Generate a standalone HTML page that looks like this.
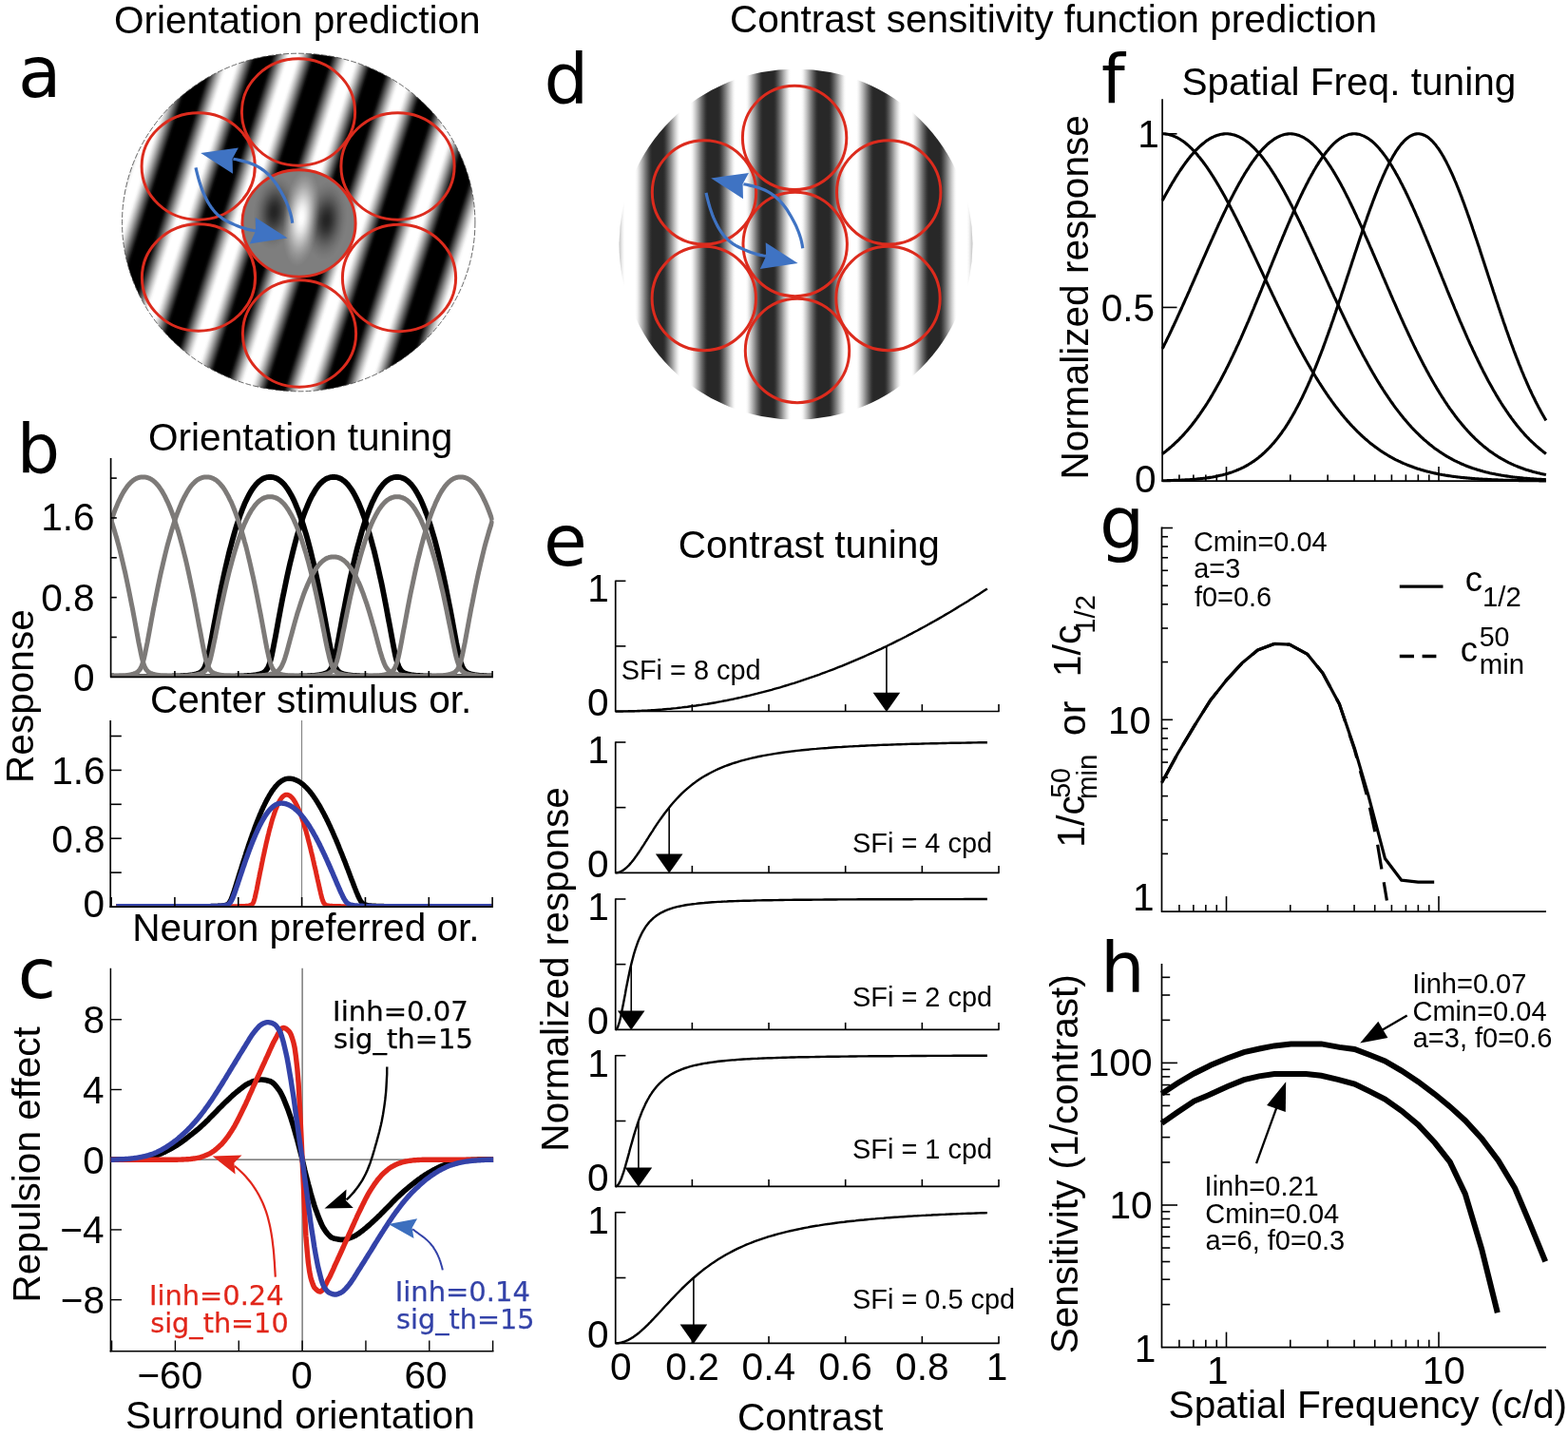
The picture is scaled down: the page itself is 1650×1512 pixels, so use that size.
<!DOCTYPE html><html lang="en"><head><meta charset="utf-8"><title>Orientation and contrast sensitivity prediction</title><style>html,body{margin:0;padding:0;background:#fff}svg{display:block}</style></head><body><svg width="1650" height="1512" viewBox="0 0 1650 1512" role="img" aria-label="Orientation prediction and contrast sensitivity function prediction figure"><defs><linearGradient id="ga" gradientUnits="userSpaceOnUse" spreadMethod="repeat" x1="315.00" y1="234.00" x2="371.48" y2="252.07"><stop offset="0.0000" stop-color="rgb(255,255,255)"/><stop offset="0.0312" stop-color="rgb(255,255,255)"/><stop offset="0.0625" stop-color="rgb(255,255,255)"/><stop offset="0.0938" stop-color="rgb(248,248,248)"/><stop offset="0.1250" stop-color="rgb(227,227,227)"/><stop offset="0.1562" stop-color="rgb(201,201,201)"/><stop offset="0.1875" stop-color="rgb(171,171,171)"/><stop offset="0.2188" stop-color="rgb(139,139,139)"/><stop offset="0.2500" stop-color="rgb(105,105,105)"/><stop offset="0.2812" stop-color="rgb(72,72,72)"/><stop offset="0.3125" stop-color="rgb(39,39,39)"/><stop offset="0.3438" stop-color="rgb(9,9,9)"/><stop offset="0.3750" stop-color="rgb(0,0,0)"/><stop offset="0.4062" stop-color="rgb(0,0,0)"/><stop offset="0.4375" stop-color="rgb(0,0,0)"/><stop offset="0.4688" stop-color="rgb(0,0,0)"/><stop offset="0.5000" stop-color="rgb(0,0,0)"/><stop offset="0.5312" stop-color="rgb(0,0,0)"/><stop offset="0.5625" stop-color="rgb(0,0,0)"/><stop offset="0.5938" stop-color="rgb(0,0,0)"/><stop offset="0.6250" stop-color="rgb(0,0,0)"/><stop offset="0.6562" stop-color="rgb(9,9,9)"/><stop offset="0.6875" stop-color="rgb(39,39,39)"/><stop offset="0.7188" stop-color="rgb(72,72,72)"/><stop offset="0.7500" stop-color="rgb(105,105,105)"/><stop offset="0.7812" stop-color="rgb(139,139,139)"/><stop offset="0.8125" stop-color="rgb(171,171,171)"/><stop offset="0.8438" stop-color="rgb(201,201,201)"/><stop offset="0.8750" stop-color="rgb(227,227,227)"/><stop offset="0.9062" stop-color="rgb(248,248,248)"/><stop offset="0.9375" stop-color="rgb(255,255,255)"/><stop offset="0.9688" stop-color="rgb(255,255,255)"/><stop offset="1.0000" stop-color="rgb(255,255,255)"/></linearGradient><radialGradient id="gw" cx="0.5" cy="0.5" r="0.5"><stop offset="0.000" stop-color="#fff" stop-opacity="1.000"/><stop offset="0.125" stop-color="#fff" stop-opacity="0.959"/><stop offset="0.250" stop-color="#fff" stop-opacity="0.846"/><stop offset="0.375" stop-color="#fff" stop-opacity="0.683"/><stop offset="0.500" stop-color="#fff" stop-opacity="0.502"/><stop offset="0.625" stop-color="#fff" stop-opacity="0.329"/><stop offset="0.750" stop-color="#fff" stop-opacity="0.184"/><stop offset="0.875" stop-color="#fff" stop-opacity="0.074"/><stop offset="1.000" stop-color="#fff" stop-opacity="0.000"/></radialGradient><radialGradient id="gk" cx="0.5" cy="0.5" r="0.5"><stop offset="0.000" stop-color="#000" stop-opacity="0.720"/><stop offset="0.125" stop-color="#000" stop-opacity="0.686"/><stop offset="0.250" stop-color="#000" stop-opacity="0.594"/><stop offset="0.375" stop-color="#000" stop-opacity="0.466"/><stop offset="0.500" stop-color="#000" stop-opacity="0.328"/><stop offset="0.625" stop-color="#000" stop-opacity="0.205"/><stop offset="0.750" stop-color="#000" stop-opacity="0.108"/><stop offset="0.875" stop-color="#000" stop-opacity="0.041"/><stop offset="1.000" stop-color="#000" stop-opacity="0.000"/></radialGradient><clipPath id="cb1"><rect x="116.6" y="480" width="403" height="232.4"/></clipPath><clipPath id="cb2"><rect x="116.2" y="756" width="403" height="197.6"/></clipPath><linearGradient id="gd" gradientUnits="userSpaceOnUse" spreadMethod="repeat" x1="837.50" y1="0" x2="895.70" y2="0"><stop offset="0.0000" stop-color="rgb(255,255,255)"/><stop offset="0.0312" stop-color="rgb(255,255,255)"/><stop offset="0.0625" stop-color="rgb(255,255,255)"/><stop offset="0.0938" stop-color="rgb(255,255,255)"/><stop offset="0.1250" stop-color="rgb(246,246,246)"/><stop offset="0.1562" stop-color="rgb(225,225,225)"/><stop offset="0.1875" stop-color="rgb(201,201,201)"/><stop offset="0.2188" stop-color="rgb(175,175,175)"/><stop offset="0.2500" stop-color="rgb(148,148,148)"/><stop offset="0.2812" stop-color="rgb(120,120,120)"/><stop offset="0.3125" stop-color="rgb(94,94,94)"/><stop offset="0.3438" stop-color="rgb(70,70,70)"/><stop offset="0.3750" stop-color="rgb(49,49,49)"/><stop offset="0.4062" stop-color="rgb(40,40,40)"/><stop offset="0.4375" stop-color="rgb(40,40,40)"/><stop offset="0.4688" stop-color="rgb(40,40,40)"/><stop offset="0.5000" stop-color="rgb(40,40,40)"/><stop offset="0.5312" stop-color="rgb(40,40,40)"/><stop offset="0.5625" stop-color="rgb(40,40,40)"/><stop offset="0.5938" stop-color="rgb(40,40,40)"/><stop offset="0.6250" stop-color="rgb(49,49,49)"/><stop offset="0.6562" stop-color="rgb(70,70,70)"/><stop offset="0.6875" stop-color="rgb(94,94,94)"/><stop offset="0.7188" stop-color="rgb(120,120,120)"/><stop offset="0.7500" stop-color="rgb(147,147,147)"/><stop offset="0.7812" stop-color="rgb(175,175,175)"/><stop offset="0.8125" stop-color="rgb(201,201,201)"/><stop offset="0.8438" stop-color="rgb(225,225,225)"/><stop offset="0.8750" stop-color="rgb(246,246,246)"/><stop offset="0.9062" stop-color="rgb(255,255,255)"/><stop offset="0.9375" stop-color="rgb(255,255,255)"/><stop offset="0.9688" stop-color="rgb(255,255,255)"/><stop offset="1.0000" stop-color="rgb(255,255,255)"/></linearGradient><radialGradient id="gdm" cx="0.5" cy="0.5" r="0.5"><stop offset="0" stop-color="#fff"/><stop offset="0.97" stop-color="#fff"/><stop offset="1" stop-color="#000"/></radialGradient></defs><style>text{stroke-linejoin:round}.l{font-family:"Liberation Sans",Arial,Helvetica,sans-serif}.d{font-family:"DejaVu Sans","Liberation Sans",sans-serif}</style><ellipse cx="314.2" cy="234.0" rx="185.7" ry="177.8" fill="url(#ga)" stroke="#444" stroke-width="0.8" stroke-dasharray="6 2"/>
<ellipse cx="314.5" cy="235" rx="59.6" ry="56.7" fill="#7e7e7e"/>
<g><ellipse cx="288.5" cy="223" rx="22" ry="40" fill="url(#gk)" transform="rotate(6 288.5 223)"/><ellipse cx="343.5" cy="232" rx="22" ry="42" fill="url(#gk)" transform="rotate(6 343.5 232)"/><ellipse cx="317" cy="229" rx="19" ry="52" fill="url(#gw)" transform="rotate(6 317 229)"/></g>
<ellipse cx="314" cy="118" rx="59.6" ry="56.2" fill="none" stroke="#dc2b1d" stroke-width="3"/>
<ellipse cx="208.7" cy="175" rx="59.6" ry="56.2" fill="none" stroke="#dc2b1d" stroke-width="3"/>
<ellipse cx="209" cy="292" rx="59.6" ry="56.2" fill="none" stroke="#dc2b1d" stroke-width="3"/>
<ellipse cx="418.5" cy="175" rx="59.6" ry="56.2" fill="none" stroke="#dc2b1d" stroke-width="3"/>
<ellipse cx="420" cy="292.5" rx="59.6" ry="56.2" fill="none" stroke="#dc2b1d" stroke-width="3"/>
<ellipse cx="315" cy="351" rx="59.6" ry="56.2" fill="none" stroke="#dc2b1d" stroke-width="3"/>
<ellipse cx="314.5" cy="235" rx="59.6" ry="56.2" fill="none" stroke="#dc2b1d" stroke-width="3"/>
<path d="M307.7,234.7 L307.2,231.3 L306.5,227.9 L305.7,224.6 L304.7,221.4 L303.6,218.2 L302.3,215.0 L301.0,211.9 L299.5,208.8 L297.9,205.8 L296.3,202.8 L294.6,199.8 L292.8,196.9 L291.0,194.0 L289.0,191.3 L286.9,188.6 L284.7,186.0 L282.3,183.5 L279.8,181.2 L277.1,179.1 L274.3,177.1 L271.4,175.4 L268.3,173.8 L265.2,172.5 L262.0,171.3 L258.7,170.3 L255.4,169.4 L252.1,168.6 L248.7,167.8 L245.4,167.2" fill="none" stroke="#3f73c3" stroke-width="3.2"/>
<path d="M211.2,161.0 L250.9,155.4 L244.6,166.9 L245.0,182.7 Z" fill="#3f73c3"/>
<path d="M206.0,176.4 L206.8,179.8 L207.6,183.1 L208.5,186.5 L209.4,189.8 L210.4,193.1 L211.5,196.3 L212.7,199.6 L214.0,202.8 L215.4,205.9 L216.9,209.0 L218.5,212.1 L220.3,215.1 L222.2,218.0 L224.3,220.8 L226.5,223.5 L228.9,225.9 L231.6,228.1 L234.4,230.1 L237.3,231.8 L240.4,233.5 L243.6,235.0 L246.7,236.4 L249.9,237.7 L253.1,239.0 L256.4,240.1 L259.7,241.1 L263.0,241.9 L266.4,242.5 L269.9,242.8" fill="none" stroke="#3f73c3" stroke-width="3.2"/>
<path d="M302.6,250.5 L268.7,228.8 L269.1,243.0 L262.8,256.4 Z" fill="#3f73c3"/>
<text class="d" x="19.0" y="102.3" font-size="74.3">a</text>
<polyline points="117.1,712.1 118.2,712.1 119.3,712.1 120.4,712.1 121.5,712.1 122.7,712.1 123.8,712.1 124.9,712.1 126.0,712.1 127.1,712.1 128.2,712.1 129.3,712.1 130.4,712.1 131.6,712.1 132.7,712.1 133.8,712.1 134.9,712.1 136.0,712.0 137.1,712.0 138.2,712.0 139.4,712.0 140.5,712.0 141.6,712.0 142.7,712.0 143.8,712.0 144.9,712.0 146.0,712.0 147.2,712.0 148.3,712.0 149.4,712.0 150.5,712.0 151.6,712.0 152.7,712.0 153.8,711.9 155.0,711.9 156.1,711.9 157.2,711.9 158.3,711.9 159.4,711.9 160.5,711.9 161.6,711.9 162.8,711.9 163.9,711.8 165.0,711.8 166.1,711.8 167.2,711.8 168.3,711.8 169.4,711.8 170.6,711.8 171.7,711.7 172.8,711.7 173.9,711.7 175.0,711.7 176.1,711.7 177.2,711.6 178.4,711.6 179.5,711.6 180.6,711.6 181.7,711.5 182.8,711.5 183.9,711.5 185.0,711.4 186.1,711.4 187.3,711.4 188.4,711.3 189.5,711.3 190.6,711.2 191.7,711.2 192.8,711.1 193.9,711.0 195.1,711.0 196.2,710.9 197.3,710.8 198.4,710.7 199.5,710.6 200.6,710.4 201.7,710.3 202.9,710.1 204.0,709.9 205.1,709.7 206.2,709.5 207.3,709.1 208.4,708.7 209.5,708.3 210.7,707.7 211.8,706.9 212.9,705.8 214.0,704.4 215.1,702.6 216.2,700.0 217.3,696.6 218.5,692.4 219.6,687.5 220.7,682.0 221.8,676.3 222.9,670.3 224.0,664.2 225.1,658.2 226.3,652.1 227.4,646.2 228.5,640.3 229.6,634.5 230.7,628.8 231.8,623.2 232.9,617.7 234.1,612.4 235.2,607.2 236.3,602.1 237.4,597.1 238.5,592.3 239.6,587.6 240.7,583.0 241.8,578.5 243.0,574.2 244.1,570.1 245.2,566.0 246.3,562.1 247.4,558.3 248.5,554.7 249.6,551.2 250.8,547.8 251.9,544.5 253.0,541.4 254.1,538.4 255.2,535.5 256.3,532.8 257.4,530.1 258.6,527.6 259.7,525.3 260.8,523.0 261.9,520.9 263.0,518.9 264.1,517.0 265.2,515.2 266.4,513.6 267.5,512.1 268.6,510.6 269.7,509.3 270.8,508.2 271.9,507.1 273.0,506.1 274.2,505.3 275.3,504.5 276.4,503.9 277.5,503.3 278.6,502.9 279.7,502.5 280.8,502.2 282.0,502.1 283.1,502.0 284.2,501.9 285.3,502.0 286.4,502.1 287.5,502.2 288.6,502.5 289.8,502.9 290.9,503.3 292.0,503.9 293.1,504.5 294.2,505.3 295.3,506.1 296.4,507.1 297.5,508.2 298.7,509.3 299.8,510.6 300.9,512.1 302.0,513.6 303.1,515.2 304.2,517.0 305.3,518.9 306.5,520.9 307.6,523.0 308.7,525.3 309.8,527.6 310.9,530.1 312.0,532.8 313.1,535.5 314.3,538.4 315.4,541.4 316.5,544.5 317.6,547.8 318.7,551.2 319.8,554.7 320.9,558.3 322.1,562.1 323.2,566.0 324.3,570.1 325.4,574.2 326.5,578.5 327.6,583.0 328.7,587.6 329.9,592.3 331.0,597.1 332.1,602.1 333.2,607.2 334.3,612.4 335.4,617.7 336.5,623.2 337.7,628.8 338.8,634.5 339.9,640.3 341.0,646.2 342.1,652.1 343.2,658.2 344.3,664.2 345.5,670.3 346.6,676.3 347.7,682.0 348.8,687.5 349.9,692.4 351.0,696.6 352.1,700.0 353.2,702.6 354.4,704.4 355.5,705.8 356.6,706.9 357.7,707.7 358.8,708.3 359.9,708.7 361.0,709.1 362.2,709.5 363.3,709.7 364.4,709.9 365.5,710.1 366.6,710.3 367.7,710.4 368.8,710.6 370.0,710.7 371.1,710.8 372.2,710.9 373.3,711.0 374.4,711.0 375.5,711.1 376.6,711.2 377.8,711.2 378.9,711.3 380.0,711.3 381.1,711.4 382.2,711.4 383.3,711.4 384.4,711.5 385.6,711.5 386.7,711.5 387.8,711.6 388.9,711.6 390.0,711.6 391.1,711.6 392.2,711.7 393.4,711.7 394.5,711.7 395.6,711.7 396.7,711.7 397.8,711.8 398.9,711.8 400.0,711.8 401.2,711.8 402.3,711.8 403.4,711.8 404.5,711.8 405.6,711.9 406.7,711.9 407.8,711.9 408.9,711.9 410.1,711.9 411.2,711.9 412.3,711.9 413.4,711.9 414.5,711.9 415.6,712.0 416.7,712.0 417.9,712.0 419.0,712.0 420.1,712.0 421.2,712.0 422.3,712.0 423.4,712.0 424.5,712.0 425.7,712.0 426.8,712.0 427.9,712.0 429.0,712.0 430.1,712.0 431.2,712.0 432.3,712.0 433.5,712.1 434.6,712.1 435.7,712.1 436.8,712.1 437.9,712.1 439.0,712.1 440.1,712.1 441.3,712.1 442.4,712.1 443.5,712.1 444.6,712.1 445.7,712.1 446.8,712.1 447.9,712.1 449.1,712.1 450.2,712.1 451.3,712.1 452.4,712.1 453.5,712.1 454.6,712.1 455.7,712.1 456.9,712.1 458.0,712.1 459.1,712.1 460.2,712.1 461.3,712.1 462.4,712.1 463.5,712.1 464.6,712.1 465.8,712.1 466.9,712.2 468.0,712.2 469.1,712.2 470.2,712.2 471.3,712.2 472.4,712.2 473.6,712.2 474.7,712.2 475.8,712.2 476.9,712.2 478.0,712.2 479.1,712.2 480.2,712.2 481.4,712.2 482.5,712.2 483.6,712.2 484.7,712.2 485.8,712.2 486.9,712.2 488.0,712.2 489.2,712.2 490.3,712.2 491.4,712.2 492.5,712.2 493.6,712.2 494.7,712.2 495.8,712.2 497.0,712.2 498.1,712.2 499.2,712.2 500.3,712.2 501.4,712.2 502.5,712.2 503.6,712.1 504.8,712.1 505.9,712.1 507.0,712.1 508.1,712.1 509.2,712.1 510.3,712.1 511.4,712.1 512.6,712.1 513.7,712.1 514.8,712.1 515.9,712.1 517.0,712.1 518.1,712.1" fill="none" stroke="#000" stroke-width="5.8" stroke-linejoin="round" clip-path="url(#cb1)"/>
<polyline points="117.1,712.1 118.2,712.1 119.3,712.1 120.4,712.1 121.5,712.1 122.7,712.1 123.8,712.1 124.9,712.1 126.0,712.1 127.1,712.1 128.2,712.1 129.3,712.1 130.4,712.1 131.6,712.1 132.7,712.2 133.8,712.2 134.9,712.2 136.0,712.2 137.1,712.2 138.2,712.2 139.4,712.2 140.5,712.2 141.6,712.2 142.7,712.2 143.8,712.2 144.9,712.2 146.0,712.2 147.2,712.2 148.3,712.2 149.4,712.2 150.5,712.2 151.6,712.2 152.7,712.2 153.8,712.2 155.0,712.2 156.1,712.2 157.2,712.2 158.3,712.2 159.4,712.2 160.5,712.2 161.6,712.2 162.8,712.2 163.9,712.2 165.0,712.2 166.1,712.2 167.2,712.2 168.3,712.2 169.4,712.1 170.6,712.1 171.7,712.1 172.8,712.1 173.9,712.1 175.0,712.1 176.1,712.1 177.2,712.1 178.4,712.1 179.5,712.1 180.6,712.1 181.7,712.1 182.8,712.1 183.9,712.1 185.0,712.1 186.1,712.1 187.3,712.1 188.4,712.1 189.5,712.1 190.6,712.1 191.7,712.1 192.8,712.1 193.9,712.1 195.1,712.1 196.2,712.1 197.3,712.1 198.4,712.1 199.5,712.1 200.6,712.1 201.7,712.1 202.9,712.0 204.0,712.0 205.1,712.0 206.2,712.0 207.3,712.0 208.4,712.0 209.5,712.0 210.7,712.0 211.8,712.0 212.9,712.0 214.0,712.0 215.1,712.0 216.2,712.0 217.3,712.0 218.5,712.0 219.6,712.0 220.7,711.9 221.8,711.9 222.9,711.9 224.0,711.9 225.1,711.9 226.3,711.9 227.4,711.9 228.5,711.9 229.6,711.9 230.7,711.8 231.8,711.8 232.9,711.8 234.1,711.8 235.2,711.8 236.3,711.8 237.4,711.8 238.5,711.7 239.6,711.7 240.7,711.7 241.8,711.7 243.0,711.7 244.1,711.6 245.2,711.6 246.3,711.6 247.4,711.6 248.5,711.5 249.6,711.5 250.8,711.5 251.9,711.4 253.0,711.4 254.1,711.4 255.2,711.3 256.3,711.3 257.4,711.2 258.6,711.2 259.7,711.1 260.8,711.0 261.9,711.0 263.0,710.9 264.1,710.8 265.2,710.7 266.4,710.6 267.5,710.4 268.6,710.3 269.7,710.1 270.8,709.9 271.9,709.7 273.0,709.5 274.2,709.1 275.3,708.7 276.4,708.3 277.5,707.7 278.6,706.9 279.7,705.8 280.8,704.4 282.0,702.6 283.1,700.0 284.2,696.6 285.3,692.4 286.4,687.5 287.5,682.0 288.6,676.3 289.8,670.3 290.9,664.2 292.0,658.2 293.1,652.1 294.2,646.2 295.3,640.3 296.4,634.5 297.5,628.8 298.7,623.2 299.8,617.7 300.9,612.4 302.0,607.2 303.1,602.1 304.2,597.1 305.3,592.3 306.5,587.6 307.6,583.0 308.7,578.5 309.8,574.2 310.9,570.1 312.0,566.0 313.1,562.1 314.3,558.3 315.4,554.7 316.5,551.2 317.6,547.8 318.7,544.5 319.8,541.4 320.9,538.4 322.1,535.5 323.2,532.8 324.3,530.1 325.4,527.6 326.5,525.3 327.6,523.0 328.7,520.9 329.9,518.9 331.0,517.0 332.1,515.2 333.2,513.6 334.3,512.1 335.4,510.6 336.5,509.3 337.7,508.2 338.8,507.1 339.9,506.1 341.0,505.3 342.1,504.5 343.2,503.9 344.3,503.3 345.5,502.9 346.6,502.5 347.7,502.2 348.8,502.1 349.9,502.0 351.0,501.9 352.1,502.0 353.2,502.1 354.4,502.2 355.5,502.5 356.6,502.9 357.7,503.3 358.8,503.9 359.9,504.5 361.0,505.3 362.2,506.1 363.3,507.1 364.4,508.2 365.5,509.3 366.6,510.6 367.7,512.1 368.8,513.6 370.0,515.2 371.1,517.0 372.2,518.9 373.3,520.9 374.4,523.0 375.5,525.3 376.6,527.6 377.8,530.1 378.9,532.8 380.0,535.5 381.1,538.4 382.2,541.4 383.3,544.5 384.4,547.8 385.6,551.2 386.7,554.7 387.8,558.3 388.9,562.1 390.0,566.0 391.1,570.1 392.2,574.2 393.4,578.5 394.5,583.0 395.6,587.6 396.7,592.3 397.8,597.1 398.9,602.1 400.0,607.2 401.2,612.4 402.3,617.7 403.4,623.2 404.5,628.8 405.6,634.5 406.7,640.3 407.8,646.2 408.9,652.1 410.1,658.2 411.2,664.2 412.3,670.3 413.4,676.3 414.5,682.0 415.6,687.5 416.7,692.4 417.9,696.6 419.0,700.0 420.1,702.6 421.2,704.4 422.3,705.8 423.4,706.9 424.5,707.7 425.7,708.3 426.8,708.7 427.9,709.1 429.0,709.5 430.1,709.7 431.2,709.9 432.3,710.1 433.5,710.3 434.6,710.4 435.7,710.6 436.8,710.7 437.9,710.8 439.0,710.9 440.1,711.0 441.3,711.0 442.4,711.1 443.5,711.2 444.6,711.2 445.7,711.3 446.8,711.3 447.9,711.4 449.1,711.4 450.2,711.4 451.3,711.5 452.4,711.5 453.5,711.5 454.6,711.6 455.7,711.6 456.9,711.6 458.0,711.6 459.1,711.7 460.2,711.7 461.3,711.7 462.4,711.7 463.5,711.7 464.6,711.8 465.8,711.8 466.9,711.8 468.0,711.8 469.1,711.8 470.2,711.8 471.3,711.8 472.4,711.9 473.6,711.9 474.7,711.9 475.8,711.9 476.9,711.9 478.0,711.9 479.1,711.9 480.2,711.9 481.4,711.9 482.5,712.0 483.6,712.0 484.7,712.0 485.8,712.0 486.9,712.0 488.0,712.0 489.2,712.0 490.3,712.0 491.4,712.0 492.5,712.0 493.6,712.0 494.7,712.0 495.8,712.0 497.0,712.0 498.1,712.0 499.2,712.0 500.3,712.1 501.4,712.1 502.5,712.1 503.6,712.1 504.8,712.1 505.9,712.1 507.0,712.1 508.1,712.1 509.2,712.1 510.3,712.1 511.4,712.1 512.6,712.1 513.7,712.1 514.8,712.1 515.9,712.1 517.0,712.1 518.1,712.1" fill="none" stroke="#000" stroke-width="5.8" stroke-linejoin="round" clip-path="url(#cb1)"/>
<polyline points="117.1,711.5 118.2,711.5 119.3,711.5 120.4,711.6 121.5,711.6 122.7,711.6 123.8,711.6 124.9,711.7 126.0,711.7 127.1,711.7 128.2,711.7 129.3,711.7 130.4,711.8 131.6,711.8 132.7,711.8 133.8,711.8 134.9,711.8 136.0,711.8 137.1,711.8 138.2,711.9 139.4,711.9 140.5,711.9 141.6,711.9 142.7,711.9 143.8,711.9 144.9,711.9 146.0,711.9 147.2,711.9 148.3,712.0 149.4,712.0 150.5,712.0 151.6,712.0 152.7,712.0 153.8,712.0 155.0,712.0 156.1,712.0 157.2,712.0 158.3,712.0 159.4,712.0 160.5,712.0 161.6,712.0 162.8,712.0 163.9,712.0 165.0,712.0 166.1,712.1 167.2,712.1 168.3,712.1 169.4,712.1 170.6,712.1 171.7,712.1 172.8,712.1 173.9,712.1 175.0,712.1 176.1,712.1 177.2,712.1 178.4,712.1 179.5,712.1 180.6,712.1 181.7,712.1 182.8,712.1 183.9,712.1 185.0,712.1 186.1,712.1 187.3,712.1 188.4,712.1 189.5,712.1 190.6,712.1 191.7,712.1 192.8,712.1 193.9,712.1 195.1,712.1 196.2,712.1 197.3,712.1 198.4,712.1 199.5,712.2 200.6,712.2 201.7,712.2 202.9,712.2 204.0,712.2 205.1,712.2 206.2,712.2 207.3,712.2 208.4,712.2 209.5,712.2 210.7,712.2 211.8,712.2 212.9,712.2 214.0,712.2 215.1,712.2 216.2,712.2 217.3,712.2 218.5,712.2 219.6,712.2 220.7,712.2 221.8,712.2 222.9,712.2 224.0,712.2 225.1,712.2 226.3,712.2 227.4,712.2 228.5,712.2 229.6,712.2 230.7,712.2 231.8,712.2 232.9,712.2 234.1,712.2 235.2,712.2 236.3,712.1 237.4,712.1 238.5,712.1 239.6,712.1 240.7,712.1 241.8,712.1 243.0,712.1 244.1,712.1 245.2,712.1 246.3,712.1 247.4,712.1 248.5,712.1 249.6,712.1 250.8,712.1 251.9,712.1 253.0,712.1 254.1,712.1 255.2,712.1 256.3,712.1 257.4,712.1 258.6,712.1 259.7,712.1 260.8,712.1 261.9,712.1 263.0,712.1 264.1,712.1 265.2,712.1 266.4,712.1 267.5,712.1 268.6,712.1 269.7,712.0 270.8,712.0 271.9,712.0 273.0,712.0 274.2,712.0 275.3,712.0 276.4,712.0 277.5,712.0 278.6,712.0 279.7,712.0 280.8,712.0 282.0,712.0 283.1,712.0 284.2,712.0 285.3,712.0 286.4,712.0 287.5,711.9 288.6,711.9 289.8,711.9 290.9,711.9 292.0,711.9 293.1,711.9 294.2,711.9 295.3,711.9 296.4,711.9 297.5,711.8 298.7,711.8 299.8,711.8 300.9,711.8 302.0,711.8 303.1,711.8 304.2,711.8 305.3,711.7 306.5,711.7 307.6,711.7 308.7,711.7 309.8,711.7 310.9,711.6 312.0,711.6 313.1,711.6 314.3,711.6 315.4,711.5 316.5,711.5 317.6,711.5 318.7,711.4 319.8,711.4 320.9,711.4 322.1,711.3 323.2,711.3 324.3,711.2 325.4,711.2 326.5,711.1 327.6,711.0 328.7,711.0 329.9,710.9 331.0,710.8 332.1,710.7 333.2,710.6 334.3,710.4 335.4,710.3 336.5,710.1 337.7,709.9 338.8,709.7 339.9,709.5 341.0,709.1 342.1,708.7 343.2,708.3 344.3,707.7 345.5,706.9 346.6,705.8 347.7,704.4 348.8,702.6 349.9,700.0 351.0,696.6 352.1,692.4 353.2,687.5 354.4,682.0 355.5,676.3 356.6,670.3 357.7,664.2 358.8,658.2 359.9,652.1 361.0,646.2 362.2,640.3 363.3,634.5 364.4,628.8 365.5,623.2 366.6,617.7 367.7,612.4 368.8,607.2 370.0,602.1 371.1,597.1 372.2,592.3 373.3,587.6 374.4,583.0 375.5,578.5 376.6,574.2 377.8,570.1 378.9,566.0 380.0,562.1 381.1,558.3 382.2,554.7 383.3,551.2 384.4,547.8 385.6,544.5 386.7,541.4 387.8,538.4 388.9,535.5 390.0,532.8 391.1,530.1 392.2,527.6 393.4,525.3 394.5,523.0 395.6,520.9 396.7,518.9 397.8,517.0 398.9,515.2 400.0,513.6 401.2,512.1 402.3,510.6 403.4,509.3 404.5,508.2 405.6,507.1 406.7,506.1 407.8,505.3 408.9,504.5 410.1,503.9 411.2,503.3 412.3,502.9 413.4,502.5 414.5,502.2 415.6,502.1 416.7,502.0 417.9,501.9 419.0,502.0 420.1,502.1 421.2,502.2 422.3,502.5 423.4,502.9 424.5,503.3 425.7,503.9 426.8,504.5 427.9,505.3 429.0,506.1 430.1,507.1 431.2,508.2 432.3,509.3 433.5,510.6 434.6,512.1 435.7,513.6 436.8,515.2 437.9,517.0 439.0,518.9 440.1,520.9 441.3,523.0 442.4,525.3 443.5,527.6 444.6,530.1 445.7,532.8 446.8,535.5 447.9,538.4 449.1,541.4 450.2,544.5 451.3,547.8 452.4,551.2 453.5,554.7 454.6,558.3 455.7,562.1 456.9,566.0 458.0,570.1 459.1,574.2 460.2,578.5 461.3,583.0 462.4,587.6 463.5,592.3 464.6,597.1 465.8,602.1 466.9,607.2 468.0,612.4 469.1,617.7 470.2,623.2 471.3,628.8 472.4,634.5 473.6,640.3 474.7,646.2 475.8,652.1 476.9,658.2 478.0,664.2 479.1,670.3 480.2,676.3 481.4,682.0 482.5,687.5 483.6,692.4 484.7,696.6 485.8,700.0 486.9,702.6 488.0,704.4 489.2,705.8 490.3,706.9 491.4,707.7 492.5,708.3 493.6,708.7 494.7,709.1 495.8,709.5 497.0,709.7 498.1,709.9 499.2,710.1 500.3,710.3 501.4,710.4 502.5,710.6 503.6,710.7 504.8,710.8 505.9,710.9 507.0,711.0 508.1,711.0 509.2,711.1 510.3,711.2 511.4,711.2 512.6,711.3 513.7,711.3 514.8,711.4 515.9,711.4 517.0,711.4 518.1,711.5" fill="none" stroke="#000" stroke-width="5.8" stroke-linejoin="round" clip-path="url(#cb1)"/>
<polyline points="117.1,547.8 118.2,544.5 119.3,541.4 120.4,538.4 121.5,535.5 122.7,532.8 123.8,530.1 124.9,527.6 126.0,525.3 127.1,523.0 128.2,520.9 129.3,518.9 130.4,517.0 131.6,515.2 132.7,513.6 133.8,512.1 134.9,510.6 136.0,509.3 137.1,508.2 138.2,507.1 139.4,506.1 140.5,505.3 141.6,504.5 142.7,503.9 143.8,503.3 144.9,502.9 146.0,502.5 147.2,502.2 148.3,502.1 149.4,502.0 150.5,501.9 151.6,502.0 152.7,502.1 153.8,502.2 155.0,502.5 156.1,502.9 157.2,503.3 158.3,503.9 159.4,504.5 160.5,505.3 161.6,506.1 162.8,507.1 163.9,508.2 165.0,509.3 166.1,510.6 167.2,512.1 168.3,513.6 169.4,515.2 170.6,517.0 171.7,518.9 172.8,520.9 173.9,523.0 175.0,525.3 176.1,527.6 177.2,530.1 178.4,532.8 179.5,535.5 180.6,538.4 181.7,541.4 182.8,544.5 183.9,547.8 185.0,551.2 186.1,554.7 187.3,558.3 188.4,562.1 189.5,566.0 190.6,570.1 191.7,574.2 192.8,578.5 193.9,583.0 195.1,587.6 196.2,592.3 197.3,597.1 198.4,602.1 199.5,607.2 200.6,612.4 201.7,617.7 202.9,623.2 204.0,628.8 205.1,634.5 206.2,640.3 207.3,646.2 208.4,652.1 209.5,658.2 210.7,664.2 211.8,670.3 212.9,676.3 214.0,682.0 215.1,687.5 216.2,692.4 217.3,696.6 218.5,700.0 219.6,702.6 220.7,704.4 221.8,705.8 222.9,706.9 224.0,707.7 225.1,708.3 226.3,708.7 227.4,709.1 228.5,709.5 229.6,709.7 230.7,709.9 231.8,710.1 232.9,710.3 234.1,710.4 235.2,710.6 236.3,710.7 237.4,710.8 238.5,710.9 239.6,711.0 240.7,711.0 241.8,711.1 243.0,711.2 244.1,711.2 245.2,711.3 246.3,711.3 247.4,711.4 248.5,711.4 249.6,711.4 250.8,711.5 251.9,711.5 253.0,711.5 254.1,711.6 255.2,711.6 256.3,711.6 257.4,711.6 258.6,711.7 259.7,711.7 260.8,711.7 261.9,711.7 263.0,711.7 264.1,711.8 265.2,711.8 266.4,711.8 267.5,711.8 268.6,711.8 269.7,711.8 270.8,711.8 271.9,711.9 273.0,711.9 274.2,711.9 275.3,711.9 276.4,711.9 277.5,711.9 278.6,711.9 279.7,711.9 280.8,711.9 282.0,712.0 283.1,712.0 284.2,712.0 285.3,712.0 286.4,712.0 287.5,712.0 288.6,712.0 289.8,712.0 290.9,712.0 292.0,712.0 293.1,712.0 294.2,712.0 295.3,712.0 296.4,712.0 297.5,712.0 298.7,712.0 299.8,712.1 300.9,712.1 302.0,712.1 303.1,712.1 304.2,712.1 305.3,712.1 306.5,712.1 307.6,712.1 308.7,712.1 309.8,712.1 310.9,712.1 312.0,712.1 313.1,712.1 314.3,712.1 315.4,712.1 316.5,712.1 317.6,712.1 318.7,712.1 319.8,712.1 320.9,712.1 322.1,712.1 323.2,712.1 324.3,712.1 325.4,712.1 326.5,712.1 327.6,712.1 328.7,712.1 329.9,712.1 331.0,712.1 332.1,712.1 333.2,712.2 334.3,712.2 335.4,712.2 336.5,712.2 337.7,712.2 338.8,712.2 339.9,712.2 341.0,712.2 342.1,712.2 343.2,712.2 344.3,712.2 345.5,712.2 346.6,712.2 347.7,712.2 348.8,712.2 349.9,712.2 351.0,712.2 352.1,712.2 353.2,712.2 354.4,712.2 355.5,712.2 356.6,712.2 357.7,712.2 358.8,712.2 359.9,712.2 361.0,712.2 362.2,712.2 363.3,712.2 364.4,712.2 365.5,712.2 366.6,712.2 367.7,712.2 368.8,712.2 370.0,712.1 371.1,712.1 372.2,712.1 373.3,712.1 374.4,712.1 375.5,712.1 376.6,712.1 377.8,712.1 378.9,712.1 380.0,712.1 381.1,712.1 382.2,712.1 383.3,712.1 384.4,712.1 385.6,712.1 386.7,712.1 387.8,712.1 388.9,712.1 390.0,712.1 391.1,712.1 392.2,712.1 393.4,712.1 394.5,712.1 395.6,712.1 396.7,712.1 397.8,712.1 398.9,712.1 400.0,712.1 401.2,712.1 402.3,712.1 403.4,712.0 404.5,712.0 405.6,712.0 406.7,712.0 407.8,712.0 408.9,712.0 410.1,712.0 411.2,712.0 412.3,712.0 413.4,712.0 414.5,712.0 415.6,712.0 416.7,712.0 417.9,712.0 419.0,712.0 420.1,712.0 421.2,711.9 422.3,711.9 423.4,711.9 424.5,711.9 425.7,711.9 426.8,711.9 427.9,711.9 429.0,711.9 430.1,711.9 431.2,711.8 432.3,711.8 433.5,711.8 434.6,711.8 435.7,711.8 436.8,711.8 437.9,711.8 439.0,711.7 440.1,711.7 441.3,711.7 442.4,711.7 443.5,711.7 444.6,711.6 445.7,711.6 446.8,711.6 447.9,711.6 449.1,711.5 450.2,711.5 451.3,711.5 452.4,711.4 453.5,711.4 454.6,711.4 455.7,711.3 456.9,711.3 458.0,711.2 459.1,711.2 460.2,711.1 461.3,711.0 462.4,711.0 463.5,710.9 464.6,710.8 465.8,710.7 466.9,710.6 468.0,710.4 469.1,710.3 470.2,710.1 471.3,709.9 472.4,709.7 473.6,709.5 474.7,709.1 475.8,708.7 476.9,708.3 478.0,707.7 479.1,706.9 480.2,705.8 481.4,704.4 482.5,702.6 483.6,700.0 484.7,696.6 485.8,692.4 486.9,687.5 488.0,682.0 489.2,676.3 490.3,670.3 491.4,664.2 492.5,658.2 493.6,652.1 494.7,646.2 495.8,640.3 497.0,634.5 498.1,628.8 499.2,623.2 500.3,617.7 501.4,612.4 502.5,607.2 503.6,602.1 504.8,597.1 505.9,592.3 507.0,587.6 508.1,583.0 509.2,578.5 510.3,574.2 511.4,570.1 512.6,566.0 513.7,562.1 514.8,558.3 515.9,554.7 517.0,551.2 518.1,547.8" fill="none" stroke="#7d7a78" stroke-width="5.0" stroke-linejoin="round" clip-path="url(#cb1)"/>
<polyline points="117.1,711.5 118.2,711.4 119.3,711.4 120.4,711.4 121.5,711.3 122.7,711.3 123.8,711.2 124.9,711.2 126.0,711.1 127.1,711.0 128.2,711.0 129.3,710.9 130.4,710.8 131.6,710.7 132.7,710.6 133.8,710.4 134.9,710.3 136.0,710.1 137.1,709.9 138.2,709.7 139.4,709.5 140.5,709.1 141.6,708.7 142.7,708.3 143.8,707.7 144.9,706.9 146.0,705.8 147.2,704.4 148.3,702.6 149.4,700.0 150.5,696.6 151.6,692.4 152.7,687.5 153.8,682.0 155.0,676.3 156.1,670.3 157.2,664.2 158.3,658.2 159.4,652.1 160.5,646.2 161.6,640.3 162.8,634.5 163.9,628.8 165.0,623.2 166.1,617.7 167.2,612.4 168.3,607.2 169.4,602.1 170.6,597.1 171.7,592.3 172.8,587.6 173.9,583.0 175.0,578.5 176.1,574.2 177.2,570.1 178.4,566.0 179.5,562.1 180.6,558.3 181.7,554.7 182.8,551.2 183.9,547.8 185.0,544.5 186.1,541.4 187.3,538.4 188.4,535.5 189.5,532.8 190.6,530.1 191.7,527.6 192.8,525.3 193.9,523.0 195.1,520.9 196.2,518.9 197.3,517.0 198.4,515.2 199.5,513.6 200.6,512.1 201.7,510.6 202.9,509.3 204.0,508.2 205.1,507.1 206.2,506.1 207.3,505.3 208.4,504.5 209.5,503.9 210.7,503.3 211.8,502.9 212.9,502.5 214.0,502.2 215.1,502.1 216.2,502.0 217.3,501.9 218.5,502.0 219.6,502.1 220.7,502.2 221.8,502.5 222.9,502.9 224.0,503.3 225.1,503.9 226.3,504.5 227.4,505.3 228.5,506.1 229.6,507.1 230.7,508.2 231.8,509.3 232.9,510.6 234.1,512.1 235.2,513.6 236.3,515.2 237.4,517.0 238.5,518.9 239.6,520.9 240.7,523.0 241.8,525.3 243.0,527.6 244.1,530.1 245.2,532.8 246.3,535.5 247.4,538.4 248.5,541.4 249.6,544.5 250.8,547.8 251.9,551.2 253.0,554.7 254.1,558.3 255.2,562.1 256.3,566.0 257.4,570.1 258.6,574.2 259.7,578.5 260.8,583.0 261.9,587.6 263.0,592.3 264.1,597.1 265.2,602.1 266.4,607.2 267.5,612.4 268.6,617.7 269.7,623.2 270.8,628.8 271.9,634.5 273.0,640.3 274.2,646.2 275.3,652.1 276.4,658.2 277.5,664.2 278.6,670.3 279.7,676.3 280.8,682.0 282.0,687.5 283.1,692.4 284.2,696.6 285.3,700.0 286.4,702.6 287.5,704.4 288.6,705.8 289.8,706.9 290.9,707.7 292.0,708.3 293.1,708.7 294.2,709.1 295.3,709.5 296.4,709.7 297.5,709.9 298.7,710.1 299.8,710.3 300.9,710.4 302.0,710.6 303.1,710.7 304.2,710.8 305.3,710.9 306.5,711.0 307.6,711.0 308.7,711.1 309.8,711.2 310.9,711.2 312.0,711.3 313.1,711.3 314.3,711.4 315.4,711.4 316.5,711.4 317.6,711.5 318.7,711.5 319.8,711.5 320.9,711.6 322.1,711.6 323.2,711.6 324.3,711.6 325.4,711.7 326.5,711.7 327.6,711.7 328.7,711.7 329.9,711.7 331.0,711.8 332.1,711.8 333.2,711.8 334.3,711.8 335.4,711.8 336.5,711.8 337.7,711.8 338.8,711.9 339.9,711.9 341.0,711.9 342.1,711.9 343.2,711.9 344.3,711.9 345.5,711.9 346.6,711.9 347.7,711.9 348.8,712.0 349.9,712.0 351.0,712.0 352.1,712.0 353.2,712.0 354.4,712.0 355.5,712.0 356.6,712.0 357.7,712.0 358.8,712.0 359.9,712.0 361.0,712.0 362.2,712.0 363.3,712.0 364.4,712.0 365.5,712.0 366.6,712.1 367.7,712.1 368.8,712.1 370.0,712.1 371.1,712.1 372.2,712.1 373.3,712.1 374.4,712.1 375.5,712.1 376.6,712.1 377.8,712.1 378.9,712.1 380.0,712.1 381.1,712.1 382.2,712.1 383.3,712.1 384.4,712.1 385.6,712.1 386.7,712.1 387.8,712.1 388.9,712.1 390.0,712.1 391.1,712.1 392.2,712.1 393.4,712.1 394.5,712.1 395.6,712.1 396.7,712.1 397.8,712.1 398.9,712.1 400.0,712.2 401.2,712.2 402.3,712.2 403.4,712.2 404.5,712.2 405.6,712.2 406.7,712.2 407.8,712.2 408.9,712.2 410.1,712.2 411.2,712.2 412.3,712.2 413.4,712.2 414.5,712.2 415.6,712.2 416.7,712.2 417.9,712.2 419.0,712.2 420.1,712.2 421.2,712.2 422.3,712.2 423.4,712.2 424.5,712.2 425.7,712.2 426.8,712.2 427.9,712.2 429.0,712.2 430.1,712.2 431.2,712.2 432.3,712.2 433.5,712.2 434.6,712.2 435.7,712.2 436.8,712.1 437.9,712.1 439.0,712.1 440.1,712.1 441.3,712.1 442.4,712.1 443.5,712.1 444.6,712.1 445.7,712.1 446.8,712.1 447.9,712.1 449.1,712.1 450.2,712.1 451.3,712.1 452.4,712.1 453.5,712.1 454.6,712.1 455.7,712.1 456.9,712.1 458.0,712.1 459.1,712.1 460.2,712.1 461.3,712.1 462.4,712.1 463.5,712.1 464.6,712.1 465.8,712.1 466.9,712.1 468.0,712.1 469.1,712.1 470.2,712.0 471.3,712.0 472.4,712.0 473.6,712.0 474.7,712.0 475.8,712.0 476.9,712.0 478.0,712.0 479.1,712.0 480.2,712.0 481.4,712.0 482.5,712.0 483.6,712.0 484.7,712.0 485.8,712.0 486.9,712.0 488.0,711.9 489.2,711.9 490.3,711.9 491.4,711.9 492.5,711.9 493.6,711.9 494.7,711.9 495.8,711.9 497.0,711.9 498.1,711.8 499.2,711.8 500.3,711.8 501.4,711.8 502.5,711.8 503.6,711.8 504.8,711.8 505.9,711.7 507.0,711.7 508.1,711.7 509.2,711.7 510.3,711.7 511.4,711.6 512.6,711.6 513.7,711.6 514.8,711.6 515.9,711.5 517.0,711.5 518.1,711.5" fill="none" stroke="#7d7a78" stroke-width="5.0" stroke-linejoin="round" clip-path="url(#cb1)"/>
<polyline points="117.1,712.1 118.2,712.1 119.3,712.1 120.4,712.1 121.5,712.1 122.7,712.1 123.8,712.1 124.9,712.1 126.0,712.1 127.1,712.1 128.2,712.1 129.3,712.1 130.4,712.1 131.6,712.1 132.7,712.1 133.8,712.1 134.9,712.1 136.0,712.1 137.1,712.0 138.2,712.0 139.4,712.0 140.5,712.0 141.6,712.0 142.7,712.0 143.8,712.0 144.9,712.0 146.0,712.0 147.2,712.0 148.3,712.0 149.4,712.0 150.5,712.0 151.6,712.0 152.7,712.0 153.8,712.0 155.0,711.9 156.1,711.9 157.2,711.9 158.3,711.9 159.4,711.9 160.5,711.9 161.6,711.9 162.8,711.9 163.9,711.9 165.0,711.9 166.1,711.8 167.2,711.8 168.3,711.8 169.4,711.8 170.6,711.8 171.7,711.8 172.8,711.8 173.9,711.7 175.0,711.7 176.1,711.7 177.2,711.7 178.4,711.7 179.5,711.6 180.6,711.6 181.7,711.6 182.8,711.6 183.9,711.5 185.0,711.5 186.1,711.5 187.3,711.4 188.4,711.4 189.5,711.4 190.6,711.3 191.7,711.3 192.8,711.2 193.9,711.2 195.1,711.1 196.2,711.0 197.3,711.0 198.4,710.9 199.5,710.8 200.6,710.7 201.7,710.6 202.9,710.5 204.0,710.3 205.1,710.2 206.2,710.0 207.3,709.8 208.4,709.5 209.5,709.3 210.7,708.9 211.8,708.5 212.9,708.0 214.0,707.3 215.1,706.5 216.2,705.4 217.3,703.9 218.5,701.9 219.6,699.3 220.7,696.0 221.8,691.9 222.9,687.2 224.0,682.1 225.1,676.7 226.3,671.2 227.4,665.5 228.5,659.9 229.6,654.3 230.7,648.8 231.8,643.3 232.9,637.9 234.1,632.7 235.2,627.5 236.3,622.5 237.4,617.6 238.5,612.8 239.6,608.1 240.7,603.5 241.8,599.1 243.0,594.8 244.1,590.7 245.2,586.7 246.3,582.8 247.4,579.0 248.5,575.4 249.6,571.9 250.8,568.5 251.9,565.2 253.0,562.1 254.1,559.1 255.2,556.2 256.3,553.5 257.4,550.9 258.6,548.4 259.7,546.0 260.8,543.8 261.9,541.7 263.0,539.7 264.1,537.8 265.2,536.0 266.4,534.4 267.5,532.8 268.6,531.4 269.7,530.1 270.8,528.9 271.9,527.9 273.0,526.9 274.2,526.0 275.3,525.3 276.4,524.6 277.5,524.1 278.6,523.6 279.7,523.3 280.8,523.0 282.0,522.8 283.1,522.7 284.2,522.7 285.3,522.7 286.4,522.8 287.5,523.0 288.6,523.3 289.8,523.6 290.9,524.1 292.0,524.6 293.1,525.3 294.2,526.0 295.3,526.9 296.4,527.9 297.5,528.9 298.7,530.1 299.8,531.4 300.9,532.8 302.0,534.4 303.1,536.0 304.2,537.8 305.3,539.7 306.5,541.7 307.6,543.8 308.7,546.0 309.8,548.4 310.9,550.9 312.0,553.5 313.1,556.2 314.3,559.1 315.4,562.1 316.5,565.2 317.6,568.5 318.7,571.9 319.8,575.4 320.9,579.0 322.1,582.8 323.2,586.7 324.3,590.7 325.4,594.8 326.5,599.1 327.6,603.5 328.7,608.1 329.9,612.8 331.0,617.6 332.1,622.5 333.2,627.5 334.3,632.7 335.4,637.9 336.5,643.3 337.7,648.8 338.8,654.3 339.9,659.9 341.0,665.5 342.1,671.2 343.2,676.7 344.3,682.1 345.5,687.2 346.6,691.9 347.7,696.0 348.8,699.3 349.9,701.9 351.0,703.9 352.1,705.4 353.2,706.5 354.4,707.3 355.5,708.0 356.6,708.5 357.7,708.9 358.8,709.3 359.9,709.5 361.0,709.8 362.2,710.0 363.3,710.2 364.4,710.3 365.5,710.5 366.6,710.6 367.7,710.7 368.8,710.8 370.0,710.9 371.1,711.0 372.2,711.0 373.3,711.1 374.4,711.2 375.5,711.2 376.6,711.3 377.8,711.3 378.9,711.4 380.0,711.4 381.1,711.4 382.2,711.5 383.3,711.5 384.4,711.5 385.6,711.6 386.7,711.6 387.8,711.6 388.9,711.6 390.0,711.7 391.1,711.7 392.2,711.7 393.4,711.7 394.5,711.7 395.6,711.8 396.7,711.8 397.8,711.8 398.9,711.8 400.0,711.8 401.2,711.8 402.3,711.8 403.4,711.9 404.5,711.9 405.6,711.9 406.7,711.9 407.8,711.9 408.9,711.9 410.1,711.9 411.2,711.9 412.3,711.9 413.4,711.9 414.5,712.0 415.6,712.0 416.7,712.0 417.9,712.0 419.0,712.0 420.1,712.0 421.2,712.0 422.3,712.0 423.4,712.0 424.5,712.0 425.7,712.0 426.8,712.0 427.9,712.0 429.0,712.0 430.1,712.0 431.2,712.0 432.3,712.1 433.5,712.1 434.6,712.1 435.7,712.1 436.8,712.1 437.9,712.1 439.0,712.1 440.1,712.1 441.3,712.1 442.4,712.1 443.5,712.1 444.6,712.1 445.7,712.1 446.8,712.1 447.9,712.1 449.1,712.1 450.2,712.1 451.3,712.1 452.4,712.1 453.5,712.1 454.6,712.1 455.7,712.1 456.9,712.1 458.0,712.1 459.1,712.1 460.2,712.1 461.3,712.1 462.4,712.1 463.5,712.1 464.6,712.1 465.8,712.2 466.9,712.2 468.0,712.2 469.1,712.2 470.2,712.2 471.3,712.2 472.4,712.2 473.6,712.2 474.7,712.2 475.8,712.2 476.9,712.2 478.0,712.2 479.1,712.2 480.2,712.2 481.4,712.2 482.5,712.2 483.6,712.2 484.7,712.2 485.8,712.2 486.9,712.2 488.0,712.2 489.2,712.2 490.3,712.2 491.4,712.2 492.5,712.2 493.6,712.2 494.7,712.2 495.8,712.2 497.0,712.2 498.1,712.2 499.2,712.2 500.3,712.2 501.4,712.2 502.5,712.2 503.6,712.2 504.8,712.1 505.9,712.1 507.0,712.1 508.1,712.1 509.2,712.1 510.3,712.1 511.4,712.1 512.6,712.1 513.7,712.1 514.8,712.1 515.9,712.1 517.0,712.1 518.1,712.1" fill="none" stroke="#7d7a78" stroke-width="5.0" stroke-linejoin="round" clip-path="url(#cb1)"/>
<polyline points="117.1,712.1 118.2,712.1 119.3,712.1 120.4,712.1 121.5,712.1 122.7,712.1 123.8,712.1 124.9,712.1 126.0,712.1 127.1,712.1 128.2,712.2 129.3,712.2 130.4,712.2 131.6,712.2 132.7,712.2 133.8,712.2 134.9,712.2 136.0,712.2 137.1,712.2 138.2,712.2 139.4,712.2 140.5,712.2 141.6,712.2 142.7,712.2 143.8,712.2 144.9,712.2 146.0,712.2 147.2,712.2 148.3,712.2 149.4,712.2 150.5,712.2 151.6,712.2 152.7,712.2 153.8,712.2 155.0,712.2 156.1,712.2 157.2,712.2 158.3,712.2 159.4,712.2 160.5,712.2 161.6,712.2 162.8,712.2 163.9,712.2 165.0,712.2 166.1,712.2 167.2,712.2 168.3,712.2 169.4,712.2 170.6,712.2 171.7,712.2 172.8,712.2 173.9,712.1 175.0,712.1 176.1,712.1 177.2,712.1 178.4,712.1 179.5,712.1 180.6,712.1 181.7,712.1 182.8,712.1 183.9,712.1 185.0,712.1 186.1,712.1 187.3,712.1 188.4,712.1 189.5,712.1 190.6,712.1 191.7,712.1 192.8,712.1 193.9,712.1 195.1,712.1 196.2,712.1 197.3,712.1 198.4,712.1 199.5,712.1 200.6,712.1 201.7,712.1 202.9,712.1 204.0,712.1 205.1,712.1 206.2,712.1 207.3,712.1 208.4,712.0 209.5,712.0 210.7,712.0 211.8,712.0 212.9,712.0 214.0,712.0 215.1,712.0 216.2,712.0 217.3,712.0 218.5,712.0 219.6,712.0 220.7,712.0 221.8,712.0 222.9,712.0 224.0,712.0 225.1,712.0 226.3,711.9 227.4,711.9 228.5,711.9 229.6,711.9 230.7,711.9 231.8,711.9 232.9,711.9 234.1,711.9 235.2,711.9 236.3,711.9 237.4,711.8 238.5,711.8 239.6,711.8 240.7,711.8 241.8,711.8 243.0,711.8 244.1,711.8 245.2,711.7 246.3,711.7 247.4,711.7 248.5,711.7 249.6,711.7 250.8,711.7 251.9,711.6 253.0,711.6 254.1,711.6 255.2,711.6 256.3,711.5 257.4,711.5 258.6,711.5 259.7,711.5 260.8,711.4 261.9,711.4 263.0,711.3 264.1,711.3 265.2,711.3 266.4,711.2 267.5,711.2 268.6,711.1 269.7,711.1 270.8,711.0 271.9,710.9 273.0,710.8 274.2,710.8 275.3,710.7 276.4,710.6 277.5,710.5 278.6,710.4 279.7,710.2 280.8,710.1 282.0,709.9 283.1,709.7 284.2,709.5 285.3,709.2 286.4,708.9 287.5,708.6 288.6,708.2 289.8,707.7 290.9,707.1 292.0,706.3 293.1,705.4 294.2,704.2 295.3,702.7 296.4,700.9 297.5,698.5 298.7,695.8 299.8,692.6 300.9,689.0 302.0,685.2 303.1,681.1 304.2,677.0 305.3,672.8 306.5,668.6 307.6,664.5 308.7,660.4 309.8,656.4 310.9,652.4 312.0,648.6 313.1,644.8 314.3,641.2 315.4,637.7 316.5,634.3 317.6,631.0 318.7,627.8 319.8,624.7 320.9,621.8 322.1,619.0 323.2,616.3 324.3,613.7 325.4,611.3 326.5,608.9 327.6,606.7 328.7,604.6 329.9,602.6 331.0,600.8 332.1,599.0 333.2,597.4 334.3,595.9 335.4,594.5 336.5,593.2 337.7,592.0 338.8,591.0 339.9,590.0 341.0,589.2 342.1,588.4 343.2,587.8 344.3,587.2 345.5,586.8 346.6,586.4 347.7,586.2 348.8,586.0 349.9,585.9 351.0,585.9 352.1,585.9 353.2,586.0 354.4,586.2 355.5,586.4 356.6,586.8 357.7,587.2 358.8,587.8 359.9,588.4 361.0,589.2 362.2,590.0 363.3,591.0 364.4,592.0 365.5,593.2 366.6,594.5 367.7,595.9 368.8,597.4 370.0,599.0 371.1,600.8 372.2,602.6 373.3,604.6 374.4,606.7 375.5,608.9 376.6,611.3 377.8,613.7 378.9,616.3 380.0,619.0 381.1,621.8 382.2,624.7 383.3,627.8 384.4,631.0 385.6,634.3 386.7,637.7 387.8,641.2 388.9,644.8 390.0,648.6 391.1,652.4 392.2,656.4 393.4,660.4 394.5,664.5 395.6,668.6 396.7,672.8 397.8,677.0 398.9,681.1 400.0,685.2 401.2,689.0 402.3,692.6 403.4,695.8 404.5,698.5 405.6,700.9 406.7,702.7 407.8,704.2 408.9,705.4 410.1,706.3 411.2,707.1 412.3,707.7 413.4,708.2 414.5,708.6 415.6,708.9 416.7,709.2 417.9,709.5 419.0,709.7 420.1,709.9 421.2,710.1 422.3,710.2 423.4,710.4 424.5,710.5 425.7,710.6 426.8,710.7 427.9,710.8 429.0,710.8 430.1,710.9 431.2,711.0 432.3,711.1 433.5,711.1 434.6,711.2 435.7,711.2 436.8,711.3 437.9,711.3 439.0,711.3 440.1,711.4 441.3,711.4 442.4,711.5 443.5,711.5 444.6,711.5 445.7,711.5 446.8,711.6 447.9,711.6 449.1,711.6 450.2,711.6 451.3,711.7 452.4,711.7 453.5,711.7 454.6,711.7 455.7,711.7 456.9,711.7 458.0,711.8 459.1,711.8 460.2,711.8 461.3,711.8 462.4,711.8 463.5,711.8 464.6,711.8 465.8,711.9 466.9,711.9 468.0,711.9 469.1,711.9 470.2,711.9 471.3,711.9 472.4,711.9 473.6,711.9 474.7,711.9 475.8,711.9 476.9,712.0 478.0,712.0 479.1,712.0 480.2,712.0 481.4,712.0 482.5,712.0 483.6,712.0 484.7,712.0 485.8,712.0 486.9,712.0 488.0,712.0 489.2,712.0 490.3,712.0 491.4,712.0 492.5,712.0 493.6,712.0 494.7,712.1 495.8,712.1 497.0,712.1 498.1,712.1 499.2,712.1 500.3,712.1 501.4,712.1 502.5,712.1 503.6,712.1 504.8,712.1 505.9,712.1 507.0,712.1 508.1,712.1 509.2,712.1 510.3,712.1 511.4,712.1 512.6,712.1 513.7,712.1 514.8,712.1 515.9,712.1 517.0,712.1 518.1,712.1" fill="none" stroke="#7d7a78" stroke-width="5.0" stroke-linejoin="round" clip-path="url(#cb1)"/>
<polyline points="117.1,711.5 118.2,711.6 119.3,711.6 120.4,711.6 121.5,711.6 122.7,711.7 123.8,711.7 124.9,711.7 126.0,711.7 127.1,711.7 128.2,711.8 129.3,711.8 130.4,711.8 131.6,711.8 132.7,711.8 133.8,711.8 134.9,711.8 136.0,711.9 137.1,711.9 138.2,711.9 139.4,711.9 140.5,711.9 141.6,711.9 142.7,711.9 143.8,711.9 144.9,711.9 146.0,711.9 147.2,712.0 148.3,712.0 149.4,712.0 150.5,712.0 151.6,712.0 152.7,712.0 153.8,712.0 155.0,712.0 156.1,712.0 157.2,712.0 158.3,712.0 159.4,712.0 160.5,712.0 161.6,712.0 162.8,712.0 163.9,712.0 165.0,712.1 166.1,712.1 167.2,712.1 168.3,712.1 169.4,712.1 170.6,712.1 171.7,712.1 172.8,712.1 173.9,712.1 175.0,712.1 176.1,712.1 177.2,712.1 178.4,712.1 179.5,712.1 180.6,712.1 181.7,712.1 182.8,712.1 183.9,712.1 185.0,712.1 186.1,712.1 187.3,712.1 188.4,712.1 189.5,712.1 190.6,712.1 191.7,712.1 192.8,712.1 193.9,712.1 195.1,712.1 196.2,712.1 197.3,712.1 198.4,712.2 199.5,712.2 200.6,712.2 201.7,712.2 202.9,712.2 204.0,712.2 205.1,712.2 206.2,712.2 207.3,712.2 208.4,712.2 209.5,712.2 210.7,712.2 211.8,712.2 212.9,712.2 214.0,712.2 215.1,712.2 216.2,712.2 217.3,712.2 218.5,712.2 219.6,712.2 220.7,712.2 221.8,712.2 222.9,712.2 224.0,712.2 225.1,712.2 226.3,712.2 227.4,712.2 228.5,712.2 229.6,712.2 230.7,712.2 231.8,712.2 232.9,712.2 234.1,712.2 235.2,712.2 236.3,712.2 237.4,712.1 238.5,712.1 239.6,712.1 240.7,712.1 241.8,712.1 243.0,712.1 244.1,712.1 245.2,712.1 246.3,712.1 247.4,712.1 248.5,712.1 249.6,712.1 250.8,712.1 251.9,712.1 253.0,712.1 254.1,712.1 255.2,712.1 256.3,712.1 257.4,712.1 258.6,712.1 259.7,712.1 260.8,712.1 261.9,712.1 263.0,712.1 264.1,712.1 265.2,712.1 266.4,712.1 267.5,712.1 268.6,712.1 269.7,712.1 270.8,712.0 271.9,712.0 273.0,712.0 274.2,712.0 275.3,712.0 276.4,712.0 277.5,712.0 278.6,712.0 279.7,712.0 280.8,712.0 282.0,712.0 283.1,712.0 284.2,712.0 285.3,712.0 286.4,712.0 287.5,712.0 288.6,711.9 289.8,711.9 290.9,711.9 292.0,711.9 293.1,711.9 294.2,711.9 295.3,711.9 296.4,711.9 297.5,711.9 298.7,711.9 299.8,711.8 300.9,711.8 302.0,711.8 303.1,711.8 304.2,711.8 305.3,711.8 306.5,711.8 307.6,711.7 308.7,711.7 309.8,711.7 310.9,711.7 312.0,711.7 313.1,711.6 314.3,711.6 315.4,711.6 316.5,711.6 317.6,711.5 318.7,711.5 319.8,711.5 320.9,711.4 322.1,711.4 323.2,711.4 324.3,711.3 325.4,711.3 326.5,711.2 327.6,711.2 328.7,711.1 329.9,711.0 331.0,711.0 332.1,710.9 333.2,710.8 334.3,710.7 335.4,710.6 336.5,710.5 337.7,710.3 338.8,710.2 339.9,710.0 341.0,709.8 342.1,709.5 343.2,709.3 344.3,708.9 345.5,708.5 346.6,708.0 347.7,707.3 348.8,706.5 349.9,705.4 351.0,703.9 352.1,701.9 353.2,699.3 354.4,696.0 355.5,691.9 356.6,687.2 357.7,682.1 358.8,676.7 359.9,671.2 361.0,665.5 362.2,659.9 363.3,654.3 364.4,648.8 365.5,643.3 366.6,637.9 367.7,632.7 368.8,627.5 370.0,622.5 371.1,617.6 372.2,612.8 373.3,608.1 374.4,603.5 375.5,599.1 376.6,594.8 377.8,590.7 378.9,586.7 380.0,582.8 381.1,579.0 382.2,575.4 383.3,571.9 384.4,568.5 385.6,565.2 386.7,562.1 387.8,559.1 388.9,556.2 390.0,553.5 391.1,550.9 392.2,548.4 393.4,546.0 394.5,543.8 395.6,541.7 396.7,539.7 397.8,537.8 398.9,536.0 400.0,534.4 401.2,532.8 402.3,531.4 403.4,530.1 404.5,528.9 405.6,527.9 406.7,526.9 407.8,526.0 408.9,525.3 410.1,524.6 411.2,524.1 412.3,523.6 413.4,523.3 414.5,523.0 415.6,522.8 416.7,522.7 417.9,522.7 419.0,522.7 420.1,522.8 421.2,523.0 422.3,523.3 423.4,523.6 424.5,524.1 425.7,524.6 426.8,525.3 427.9,526.0 429.0,526.9 430.1,527.9 431.2,528.9 432.3,530.1 433.5,531.4 434.6,532.8 435.7,534.4 436.8,536.0 437.9,537.8 439.0,539.7 440.1,541.7 441.3,543.8 442.4,546.0 443.5,548.4 444.6,550.9 445.7,553.5 446.8,556.2 447.9,559.1 449.1,562.1 450.2,565.2 451.3,568.5 452.4,571.9 453.5,575.4 454.6,579.0 455.7,582.8 456.9,586.7 458.0,590.7 459.1,594.8 460.2,599.1 461.3,603.5 462.4,608.1 463.5,612.8 464.6,617.6 465.8,622.5 466.9,627.5 468.0,632.7 469.1,637.9 470.2,643.3 471.3,648.8 472.4,654.3 473.6,659.9 474.7,665.5 475.8,671.2 476.9,676.7 478.0,682.1 479.1,687.2 480.2,691.9 481.4,696.0 482.5,699.3 483.6,701.9 484.7,703.9 485.8,705.4 486.9,706.5 488.0,707.3 489.2,708.0 490.3,708.5 491.4,708.9 492.5,709.3 493.6,709.5 494.7,709.8 495.8,710.0 497.0,710.2 498.1,710.3 499.2,710.5 500.3,710.6 501.4,710.7 502.5,710.8 503.6,710.9 504.8,711.0 505.9,711.0 507.0,711.1 508.1,711.2 509.2,711.2 510.3,711.3 511.4,711.3 512.6,711.4 513.7,711.4 514.8,711.4 515.9,711.5 517.0,711.5 518.1,711.5" fill="none" stroke="#7d7a78" stroke-width="5.0" stroke-linejoin="round" clip-path="url(#cb1)"/>
<polyline points="117.1,547.8 118.2,551.2 119.3,554.7 120.4,558.3 121.5,562.1 122.7,566.0 123.8,570.1 124.9,574.2 126.0,578.5 127.1,583.0 128.2,587.6 129.3,592.3 130.4,597.1 131.6,602.1 132.7,607.2 133.8,612.4 134.9,617.7 136.0,623.2 137.1,628.8 138.2,634.5 139.4,640.3 140.5,646.2 141.6,652.1 142.7,658.2 143.8,664.2 144.9,670.3 146.0,676.3 147.2,682.0 148.3,687.5 149.4,692.4 150.5,696.6 151.6,700.0 152.7,702.6 153.8,704.4 155.0,705.8 156.1,706.9 157.2,707.7 158.3,708.3 159.4,708.7 160.5,709.1 161.6,709.5 162.8,709.7 163.9,709.9 165.0,710.1 166.1,710.3 167.2,710.4 168.3,710.6 169.4,710.7 170.6,710.8 171.7,710.9 172.8,711.0 173.9,711.0 175.0,711.1 176.1,711.2 177.2,711.2 178.4,711.3 179.5,711.3 180.6,711.4 181.7,711.4 182.8,711.4 183.9,711.5 185.0,711.5 186.1,711.5 187.3,711.6 188.4,711.6 189.5,711.6 190.6,711.6 191.7,711.7 192.8,711.7 193.9,711.7 195.1,711.7 196.2,711.7 197.3,711.8 198.4,711.8 199.5,711.8 200.6,711.8 201.7,711.8 202.9,711.8 204.0,711.8 205.1,711.9 206.2,711.9 207.3,711.9 208.4,711.9 209.5,711.9 210.7,711.9 211.8,711.9 212.9,711.9 214.0,711.9 215.1,712.0 216.2,712.0 217.3,712.0 218.5,712.0 219.6,712.0 220.7,712.0 221.8,712.0 222.9,712.0 224.0,712.0 225.1,712.0 226.3,712.0 227.4,712.0 228.5,712.0 229.6,712.0 230.7,712.0 231.8,712.0 232.9,712.1 234.1,712.1 235.2,712.1 236.3,712.1 237.4,712.1 238.5,712.1 239.6,712.1 240.7,712.1 241.8,712.1 243.0,712.1 244.1,712.1 245.2,712.1 246.3,712.1 247.4,712.1 248.5,712.1 249.6,712.1 250.8,712.1 251.9,712.1 253.0,712.1 254.1,712.1 255.2,712.1 256.3,712.1 257.4,712.1 258.6,712.1 259.7,712.1 260.8,712.1 261.9,712.1 263.0,712.1 264.1,712.1 265.2,712.1 266.4,712.2 267.5,712.2 268.6,712.2 269.7,712.2 270.8,712.2 271.9,712.2 273.0,712.2 274.2,712.2 275.3,712.2 276.4,712.2 277.5,712.2 278.6,712.2 279.7,712.2 280.8,712.2 282.0,712.2 283.1,712.2 284.2,712.2 285.3,712.2 286.4,712.2 287.5,712.2 288.6,712.2 289.8,712.2 290.9,712.2 292.0,712.2 293.1,712.2 294.2,712.2 295.3,712.2 296.4,712.2 297.5,712.2 298.7,712.2 299.8,712.2 300.9,712.2 302.0,712.2 303.1,712.1 304.2,712.1 305.3,712.1 306.5,712.1 307.6,712.1 308.7,712.1 309.8,712.1 310.9,712.1 312.0,712.1 313.1,712.1 314.3,712.1 315.4,712.1 316.5,712.1 317.6,712.1 318.7,712.1 319.8,712.1 320.9,712.1 322.1,712.1 323.2,712.1 324.3,712.1 325.4,712.1 326.5,712.1 327.6,712.1 328.7,712.1 329.9,712.1 331.0,712.1 332.1,712.1 333.2,712.1 334.3,712.1 335.4,712.1 336.5,712.0 337.7,712.0 338.8,712.0 339.9,712.0 341.0,712.0 342.1,712.0 343.2,712.0 344.3,712.0 345.5,712.0 346.6,712.0 347.7,712.0 348.8,712.0 349.9,712.0 351.0,712.0 352.1,712.0 353.2,712.0 354.4,711.9 355.5,711.9 356.6,711.9 357.7,711.9 358.8,711.9 359.9,711.9 361.0,711.9 362.2,711.9 363.3,711.9 364.4,711.8 365.5,711.8 366.6,711.8 367.7,711.8 368.8,711.8 370.0,711.8 371.1,711.8 372.2,711.7 373.3,711.7 374.4,711.7 375.5,711.7 376.6,711.7 377.8,711.6 378.9,711.6 380.0,711.6 381.1,711.6 382.2,711.5 383.3,711.5 384.4,711.5 385.6,711.4 386.7,711.4 387.8,711.4 388.9,711.3 390.0,711.3 391.1,711.2 392.2,711.2 393.4,711.1 394.5,711.0 395.6,711.0 396.7,710.9 397.8,710.8 398.9,710.7 400.0,710.6 401.2,710.4 402.3,710.3 403.4,710.1 404.5,709.9 405.6,709.7 406.7,709.5 407.8,709.1 408.9,708.7 410.1,708.3 411.2,707.7 412.3,706.9 413.4,705.8 414.5,704.4 415.6,702.6 416.7,700.0 417.9,696.6 419.0,692.4 420.1,687.5 421.2,682.0 422.3,676.3 423.4,670.3 424.5,664.2 425.7,658.2 426.8,652.1 427.9,646.2 429.0,640.3 430.1,634.5 431.2,628.8 432.3,623.2 433.5,617.7 434.6,612.4 435.7,607.2 436.8,602.1 437.9,597.1 439.0,592.3 440.1,587.6 441.3,583.0 442.4,578.5 443.5,574.2 444.6,570.1 445.7,566.0 446.8,562.1 447.9,558.3 449.1,554.7 450.2,551.2 451.3,547.8 452.4,544.5 453.5,541.4 454.6,538.4 455.7,535.5 456.9,532.8 458.0,530.1 459.1,527.6 460.2,525.3 461.3,523.0 462.4,520.9 463.5,518.9 464.6,517.0 465.8,515.2 466.9,513.6 468.0,512.1 469.1,510.6 470.2,509.3 471.3,508.2 472.4,507.1 473.6,506.1 474.7,505.3 475.8,504.5 476.9,503.9 478.0,503.3 479.1,502.9 480.2,502.5 481.4,502.2 482.5,502.1 483.6,502.0 484.7,501.9 485.8,502.0 486.9,502.1 488.0,502.2 489.2,502.5 490.3,502.9 491.4,503.3 492.5,503.9 493.6,504.5 494.7,505.3 495.8,506.1 497.0,507.1 498.1,508.2 499.2,509.3 500.3,510.6 501.4,512.1 502.5,513.6 503.6,515.2 504.8,517.0 505.9,518.9 507.0,520.9 508.1,523.0 509.2,525.3 510.3,527.6 511.4,530.1 512.6,532.8 513.7,535.5 514.8,538.4 515.9,541.4 517.0,544.5 518.1,547.8" fill="none" stroke="#7d7a78" stroke-width="5.0" stroke-linejoin="round" clip-path="url(#cb1)"/>
<line x1="116.60" y1="482.00" x2="116.60" y2="712.60" stroke="#000" stroke-width="1.7" />
<line x1="116.00" y1="712.40" x2="519.00" y2="712.40" stroke="#000" stroke-width="1.6" />
<line x1="116.60" y1="670.46" x2="122.80" y2="670.46" stroke="#000" stroke-width="1.6" />
<line x1="116.60" y1="628.62" x2="122.80" y2="628.62" stroke="#000" stroke-width="1.6" />
<line x1="116.60" y1="586.78" x2="122.80" y2="586.78" stroke="#000" stroke-width="1.6" />
<line x1="116.60" y1="544.94" x2="122.80" y2="544.94" stroke="#000" stroke-width="1.6" />
<line x1="116.60" y1="503.10" x2="122.80" y2="503.10" stroke="#000" stroke-width="1.6" />
<line x1="183.92" y1="712.00" x2="183.92" y2="706.00" stroke="#000" stroke-width="1.6" />
<line x1="250.76" y1="712.00" x2="250.76" y2="706.00" stroke="#000" stroke-width="1.6" />
<line x1="317.60" y1="712.00" x2="317.60" y2="706.00" stroke="#000" stroke-width="1.6" />
<line x1="384.44" y1="712.00" x2="384.44" y2="706.00" stroke="#000" stroke-width="1.6" />
<line x1="451.28" y1="712.00" x2="451.28" y2="706.00" stroke="#000" stroke-width="1.6" />
<line x1="518.12" y1="712.00" x2="518.12" y2="706.00" stroke="#000" stroke-width="1.6" />
<text class="l" x="43.2" y="557.5" font-size="40.6">1.6</text>
<text class="l" x="43.2" y="643.2" font-size="40.6">0.8</text>
<text class="l" x="76.9" y="726.7" font-size="40.6">0</text>
<text class="l" x="156.0" y="473.5" font-size="40.6">Orientation tuning</text>
<text class="l" x="158.0" y="750.0" font-size="40.6">Center stimulus or.</text>
<text class="l" x="34.8" y="823.9" font-size="40.6" transform="rotate(-90 34.80 823.95)">Response</text>
<text class="d" x="17.7" y="497.2" font-size="71.4">b</text>
<line x1="317.60" y1="758.00" x2="317.60" y2="954.00" stroke="#777" stroke-width="1.0" />
<polyline points="122.4,953.8 123.1,953.8 123.7,953.8 124.4,953.8 125.0,953.8 125.7,953.8 126.4,953.8 127.0,953.8 127.7,953.8 128.3,953.8 129.0,953.8 129.7,953.8 130.3,953.8 131.0,953.8 131.6,953.8 132.3,953.8 133.0,953.8 133.6,953.8 134.3,953.8 134.9,953.8 135.6,953.8 136.3,953.8 136.9,953.8 137.6,953.8 138.2,953.8 138.9,953.8 139.5,953.8 140.2,953.8 140.9,953.8 141.5,953.8 142.2,953.8 142.8,953.8 143.5,953.8 144.2,953.8 144.8,953.8 145.5,953.8 146.1,953.8 146.8,953.8 147.5,953.8 148.1,953.8 148.8,953.8 149.4,953.8 150.1,953.8 150.8,953.8 151.4,953.8 152.1,953.8 152.7,953.8 153.4,953.8 154.1,953.8 154.7,953.8 155.4,953.8 156.0,953.8 156.7,953.8 157.4,953.8 158.0,953.8 158.7,953.8 159.3,953.8 160.0,953.8 160.7,953.8 161.3,953.8 162.0,953.8 162.6,953.8 163.3,953.8 164.0,953.8 164.6,953.8 165.3,953.8 165.9,953.8 166.6,953.8 167.3,953.8 167.9,953.8 168.6,953.8 169.2,953.8 169.9,953.8 170.6,953.8 171.2,953.8 171.9,953.8 172.5,953.8 173.2,953.8 173.8,953.8 174.5,953.8 175.2,953.8 175.8,953.8 176.5,953.8 177.1,953.8 177.8,953.8 178.5,953.8 179.1,953.8 179.8,953.8 180.4,953.8 181.1,953.8 181.8,953.8 182.4,953.8 183.1,953.8 183.7,953.8 184.4,953.8 185.1,953.8 185.7,953.8 186.4,953.8 187.0,953.8 187.7,953.8 188.4,953.8 189.0,953.8 189.7,953.8 190.3,953.8 191.0,953.8 191.7,953.8 192.3,953.8 193.0,953.8 193.6,953.8 194.3,953.8 195.0,953.8 195.6,953.8 196.3,953.8 196.9,953.8 197.6,953.8 198.3,953.8 198.9,953.8 199.6,953.8 200.2,953.8 200.9,953.8 201.6,953.7 202.2,953.7 202.9,953.7 203.5,953.7 204.2,953.7 204.8,953.7 205.5,953.7 206.2,953.7 206.8,953.7 207.5,953.7 208.1,953.7 208.8,953.7 209.5,953.7 210.1,953.7 210.8,953.7 211.4,953.7 212.1,953.7 212.8,953.7 213.4,953.7 214.1,953.7 214.7,953.7 215.4,953.7 216.1,953.6 216.7,953.6 217.4,953.6 218.0,953.6 218.7,953.6 219.4,953.6 220.0,953.6 220.7,953.6 221.3,953.6 222.0,953.6 222.7,953.5 223.3,953.5 224.0,953.5 224.6,953.5 225.3,953.5 226.0,953.5 226.6,953.4 227.3,953.4 227.9,953.4 228.6,953.4 229.3,953.3 229.9,953.3 230.6,953.3 231.2,953.2 231.9,953.2 232.6,953.1 233.2,953.1 233.9,953.0 234.5,952.9 235.2,952.8 235.9,952.7 236.5,952.6 237.2,952.4 237.8,952.2 238.5,951.9 239.1,951.6 239.8,951.2 240.5,950.6 241.1,949.9 241.8,949.0 242.4,947.8 243.1,946.4 243.8,944.8 244.4,943.1 245.1,941.2 245.7,939.3 246.4,937.3 247.1,935.2 247.7,933.2 248.4,931.1 249.0,928.9 249.7,926.8 250.4,924.7 251.0,922.6 251.7,920.4 252.3,918.3 253.0,916.2 253.7,914.1 254.3,912.0 255.0,909.9 255.6,907.8 256.3,905.7 257.0,903.6 257.6,901.6 258.3,899.5 258.9,897.5 259.6,895.5 260.3,893.4 260.9,891.5 261.6,889.5 262.2,887.5 262.9,885.6 263.6,883.7 264.2,881.8 264.9,879.9 265.5,878.0 266.2,876.2 266.9,874.4 267.5,872.6 268.2,870.8 268.8,869.0 269.5,867.3 270.2,865.6 270.8,863.9 271.5,862.3 272.1,860.6 272.8,859.0 273.4,857.4 274.1,855.9 274.8,854.3 275.4,852.8 276.1,851.4 276.7,849.9 277.4,848.5 278.1,847.1 278.7,845.8 279.4,844.5 280.0,843.2 280.7,841.9 281.4,840.7 282.0,839.5 282.7,838.3 283.3,837.1 284.0,836.0 284.7,835.0 285.3,833.9 286.0,832.9 286.6,831.9 287.3,831.0 288.0,830.1 288.6,829.2 289.3,828.4 289.9,827.6 290.6,826.8 291.3,826.1 291.9,825.4 292.6,824.7 293.2,824.1 293.9,823.5 294.6,823.0 295.2,822.5 295.9,822.0 296.5,821.6 297.2,821.2 297.9,820.8 298.5,820.5 299.2,820.2 299.8,819.9 300.5,819.7 301.2,819.5 301.8,819.4 302.5,819.3 303.1,819.2 303.8,819.2 304.4,819.2 305.1,819.2 305.8,819.2 306.4,819.3 307.1,819.4 307.7,819.6 308.4,819.7 309.1,819.9 309.7,820.1 310.4,820.3 311.0,820.6 311.7,820.9 312.4,821.2 313.0,821.5 313.7,821.8 314.3,822.2 315.0,822.6 315.7,823.0 316.3,823.5 317.0,824.0 317.6,824.5 318.3,825.0 319.0,825.5 319.6,826.1 320.3,826.7 320.9,827.3 321.6,828.0 322.3,828.6 322.9,829.3 323.6,830.0 324.2,830.7 324.9,831.5 325.6,832.3 326.2,833.1 326.9,833.9 327.5,834.7 328.2,835.6 328.9,836.5 329.5,837.4 330.2,838.3 330.8,839.3 331.5,840.3 332.2,841.3 332.8,842.3 333.5,843.3 334.1,844.4 334.8,845.5 335.5,846.6 336.1,847.7 336.8,848.8 337.4,850.0 338.1,851.1 338.7,852.3 339.4,853.6 340.1,854.8 340.7,856.0 341.4,857.3 342.0,858.6 342.7,859.9 343.4,861.2 344.0,862.6 344.7,863.9 345.3,865.3 346.0,866.7 346.7,868.1 347.3,869.5 348.0,870.9 348.6,872.4 349.3,873.8 350.0,875.3 350.6,876.8 351.3,878.3 351.9,879.8 352.6,881.4 353.3,882.9 353.9,884.5 354.6,886.0 355.2,887.6 355.9,889.2 356.6,890.8 357.2,892.5 357.9,894.1 358.5,895.7 359.2,897.4 359.9,899.0 360.5,900.7 361.2,902.4 361.8,904.1 362.5,905.7 363.2,907.4 363.8,909.1 364.5,910.9 365.1,912.6 365.8,914.3 366.5,916.0 367.1,917.8 367.8,919.5 368.4,921.2 369.1,923.0 369.7,924.7 370.4,926.4 371.1,928.2 371.7,929.9 372.4,931.6 373.0,933.3 373.7,935.0 374.4,936.7 375.0,938.3 375.7,939.9 376.3,941.5 377.0,943.0 377.7,944.5 378.3,945.8 379.0,947.0 379.6,948.1 380.3,949.0 381.0,949.8 381.6,950.4 382.3,950.9 382.9,951.3 383.6,951.7 384.3,951.9 384.9,952.1 385.6,952.3 386.2,952.5 386.9,952.6 387.6,952.7 388.2,952.8 388.9,952.9 389.5,952.9 390.2,953.0 390.9,953.1 391.5,953.1 392.2,953.2 392.8,953.2 393.5,953.2 394.2,953.3 394.8,953.3 395.5,953.3 396.1,953.4 396.8,953.4 397.5,953.4 398.1,953.4 398.8,953.4 399.4,953.5 400.1,953.5 400.8,953.5 401.4,953.5 402.1,953.5 402.7,953.5 403.4,953.5 404.0,953.6 404.7,953.6 405.4,953.6 406.0,953.6 406.7,953.6 407.3,953.6 408.0,953.6 408.7,953.6 409.3,953.6 410.0,953.6 410.6,953.6 411.3,953.6 412.0,953.7 412.6,953.7 413.3,953.7 413.9,953.7 414.6,953.7 415.3,953.7 415.9,953.7 416.6,953.7 417.2,953.7 417.9,953.7 418.6,953.7 419.2,953.7 419.9,953.7 420.5,953.7 421.2,953.7 421.9,953.7 422.5,953.7 423.2,953.7 423.8,953.7 424.5,953.7 425.2,953.7 425.8,953.7 426.5,953.7 427.1,953.7 427.8,953.7 428.5,953.7 429.1,953.7 429.8,953.7 430.4,953.8 431.1,953.8 431.8,953.8 432.4,953.8 433.1,953.8 433.7,953.8 434.4,953.8 435.1,953.8 435.7,953.8 436.4,953.8 437.0,953.8 437.7,953.8 438.3,953.8 439.0,953.8 439.7,953.8 440.3,953.8 441.0,953.8 441.6,953.8 442.3,953.8 443.0,953.8 443.6,953.8 444.3,953.8 444.9,953.8 445.6,953.8 446.3,953.8 446.9,953.8 447.6,953.8 448.2,953.8 448.9,953.8 449.6,953.8 450.2,953.8 450.9,953.8 451.5,953.8 452.2,953.8 452.9,953.8 453.5,953.8 454.2,953.8 454.8,953.8 455.5,953.8 456.2,953.8 456.8,953.8 457.5,953.8 458.1,953.8 458.8,953.8 459.5,953.8 460.1,953.8 460.8,953.8 461.4,953.8 462.1,953.8 462.8,953.8 463.4,953.8 464.1,953.8 464.7,953.8 465.4,953.8 466.1,953.8 466.7,953.8 467.4,953.8 468.0,953.8 468.7,953.8 469.3,953.8 470.0,953.8 470.7,953.8 471.3,953.8 472.0,953.8 472.6,953.8 473.3,953.8 474.0,953.8 474.6,953.8 475.3,953.8 475.9,953.8 476.6,953.8 477.3,953.8 477.9,953.8 478.6,953.8 479.2,953.8 479.9,953.8 480.6,953.8 481.2,953.8 481.9,953.8 482.5,953.8 483.2,953.8 483.9,953.8 484.5,953.8 485.2,953.8 485.8,953.8 486.5,953.8 487.2,953.8 487.8,953.8 488.5,953.8 489.1,953.8 489.8,953.8 490.5,953.8 491.1,953.8 491.8,953.8 492.4,953.8 493.1,953.8 493.8,953.8 494.4,953.8 495.1,953.8 495.7,953.8 496.4,953.8 497.1,953.8 497.7,953.8 498.4,953.8 499.0,953.8 499.7,953.8 500.4,953.8 501.0,953.8 501.7,953.8 502.3,953.8 503.0,953.8 503.6,953.8 504.3,953.8 505.0,953.8 505.6,953.8 506.3,953.8 506.9,953.8 507.6,953.8 508.3,953.8 508.9,953.8 509.6,953.8 510.2,953.8 510.9,953.8 511.6,953.8 512.2,953.8 512.9,953.8 513.5,953.8 514.2,953.8 514.9,953.8 515.5,953.8 516.2,953.8 516.8,953.8 517.5,953.8" fill="none" stroke="#000" stroke-width="5.4" stroke-linejoin="round" clip-path="url(#cb2)"/>
<polyline points="122.4,953.8 123.1,953.8 123.7,953.8 124.4,953.8 125.0,953.8 125.7,953.8 126.4,953.8 127.0,953.8 127.7,953.8 128.3,953.8 129.0,953.8 129.7,953.8 130.3,953.8 131.0,953.8 131.6,953.8 132.3,953.8 133.0,953.8 133.6,953.8 134.3,953.8 134.9,953.8 135.6,953.8 136.3,953.8 136.9,953.8 137.6,953.8 138.2,953.8 138.9,953.8 139.5,953.8 140.2,953.8 140.9,953.8 141.5,953.8 142.2,953.8 142.8,953.8 143.5,953.8 144.2,953.8 144.8,953.8 145.5,953.8 146.1,953.8 146.8,953.8 147.5,953.8 148.1,953.8 148.8,953.8 149.4,953.8 150.1,953.8 150.8,953.8 151.4,953.8 152.1,953.8 152.7,953.8 153.4,953.8 154.1,953.8 154.7,953.8 155.4,953.8 156.0,953.8 156.7,953.8 157.4,953.8 158.0,953.8 158.7,953.8 159.3,953.8 160.0,953.8 160.7,953.8 161.3,953.8 162.0,953.8 162.6,953.8 163.3,953.8 164.0,953.8 164.6,953.8 165.3,953.8 165.9,953.8 166.6,953.8 167.3,953.8 167.9,953.8 168.6,953.8 169.2,953.8 169.9,953.8 170.6,953.8 171.2,953.8 171.9,953.8 172.5,953.8 173.2,953.8 173.8,953.8 174.5,953.8 175.2,953.8 175.8,953.8 176.5,953.8 177.1,953.8 177.8,953.8 178.5,953.8 179.1,953.8 179.8,953.8 180.4,953.8 181.1,953.8 181.8,953.8 182.4,953.8 183.1,953.8 183.7,953.8 184.4,953.8 185.1,953.8 185.7,953.8 186.4,953.8 187.0,953.8 187.7,953.8 188.4,953.8 189.0,953.8 189.7,953.8 190.3,953.8 191.0,953.8 191.7,953.8 192.3,953.8 193.0,953.8 193.6,953.8 194.3,953.8 195.0,953.8 195.6,953.8 196.3,953.8 196.9,953.8 197.6,953.8 198.3,953.8 198.9,953.8 199.6,953.8 200.2,953.8 200.9,953.8 201.6,953.8 202.2,953.8 202.9,953.8 203.5,953.8 204.2,953.8 204.8,953.8 205.5,953.8 206.2,953.8 206.8,953.8 207.5,953.8 208.1,953.8 208.8,953.8 209.5,953.8 210.1,953.8 210.8,953.8 211.4,953.8 212.1,953.8 212.8,953.8 213.4,953.8 214.1,953.8 214.7,953.8 215.4,953.8 216.1,953.8 216.7,953.8 217.4,953.8 218.0,953.8 218.7,953.8 219.4,953.8 220.0,953.8 220.7,953.8 221.3,953.8 222.0,953.8 222.7,953.8 223.3,953.8 224.0,953.8 224.6,953.8 225.3,953.8 226.0,953.8 226.6,953.8 227.3,953.8 227.9,953.8 228.6,953.8 229.3,953.8 229.9,953.8 230.6,953.8 231.2,953.8 231.9,953.8 232.6,953.8 233.2,953.8 233.9,953.8 234.5,953.8 235.2,953.8 235.9,953.8 236.5,953.7 237.2,953.7 237.8,953.7 238.5,953.7 239.1,953.7 239.8,953.7 240.5,953.7 241.1,953.7 241.8,953.7 242.4,953.7 243.1,953.7 243.8,953.7 244.4,953.7 245.1,953.7 245.7,953.7 246.4,953.7 247.1,953.7 247.7,953.7 248.4,953.7 249.0,953.7 249.7,953.7 250.4,953.6 251.0,953.6 251.7,953.6 252.3,953.6 253.0,953.6 253.7,953.6 254.3,953.6 255.0,953.5 255.6,953.5 256.3,953.5 257.0,953.4 257.6,953.4 258.3,953.4 258.9,953.3 259.6,953.3 260.3,953.2 260.9,953.1 261.6,953.0 262.2,952.9 262.9,952.7 263.6,952.5 264.2,952.3 264.9,951.8 265.5,951.3 266.2,950.4 266.9,949.0 267.5,947.1 268.2,944.6 268.8,941.9 269.5,938.8 270.2,935.7 270.8,932.4 271.5,929.1 272.1,925.8 272.8,922.5 273.4,919.2 274.1,916.0 274.8,912.7 275.4,909.5 276.1,906.3 276.7,903.1 277.4,900.0 278.1,896.9 278.7,893.8 279.4,890.9 280.0,887.9 280.7,885.1 281.4,882.2 282.0,879.5 282.7,876.8 283.3,874.2 284.0,871.6 284.7,869.2 285.3,866.8 286.0,864.4 286.6,862.2 287.3,860.0 288.0,858.0 288.6,856.0 289.3,854.1 289.9,852.2 290.6,850.5 291.3,848.9 291.9,847.3 292.6,845.9 293.2,844.5 293.9,843.3 294.6,842.1 295.2,841.1 295.9,840.1 296.5,839.3 297.2,838.5 297.9,837.9 298.5,837.3 299.2,836.9 299.8,836.6 300.5,836.3 301.2,836.2 301.8,836.2 302.5,836.3 303.1,836.4 303.8,836.7 304.4,837.0 305.1,837.4 305.8,837.9 306.4,838.5 307.1,839.1 307.7,839.9 308.4,840.7 309.1,841.6 309.7,842.6 310.4,843.7 311.0,844.8 311.7,846.1 312.4,847.4 313.0,848.8 313.7,850.2 314.3,851.8 315.0,853.4 315.7,855.1 316.3,856.8 317.0,858.6 317.6,860.5 318.3,862.5 319.0,864.5 319.6,866.6 320.3,868.8 320.9,871.0 321.6,873.3 322.3,875.6 322.9,878.0 323.6,880.4 324.2,882.9 324.9,885.5 325.6,888.1 326.2,890.7 326.9,893.4 327.5,896.1 328.2,898.9 328.9,901.7 329.5,904.5 330.2,907.4 330.8,910.3 331.5,913.2 332.2,916.1 332.8,919.1 333.5,922.1 334.1,925.0 334.8,928.0 335.5,931.0 336.1,933.9 336.8,936.8 337.4,939.6 338.1,942.3 338.7,944.8 339.4,947.0 340.1,948.8 340.7,950.1 341.4,951.0 342.0,951.6 342.7,952.1 343.4,952.4 344.0,952.6 344.7,952.8 345.3,952.9 346.0,953.0 346.7,953.1 347.3,953.2 348.0,953.2 348.6,953.3 349.3,953.3 350.0,953.4 350.6,953.4 351.3,953.5 351.9,953.5 352.6,953.5 353.3,953.5 353.9,953.5 354.6,953.6 355.2,953.6 355.9,953.6 356.6,953.6 357.2,953.6 357.9,953.6 358.5,953.6 359.2,953.7 359.9,953.7 360.5,953.7 361.2,953.7 361.8,953.7 362.5,953.7 363.2,953.7 363.8,953.7 364.5,953.7 365.1,953.7 365.8,953.7 366.5,953.7 367.1,953.7 367.8,953.7 368.4,953.7 369.1,953.7 369.7,953.7 370.4,953.7 371.1,953.7 371.7,953.7 372.4,953.7 373.0,953.7 373.7,953.7 374.4,953.8 375.0,953.8 375.7,953.8 376.3,953.8 377.0,953.8 377.7,953.8 378.3,953.8 379.0,953.8 379.6,953.8 380.3,953.8 381.0,953.8 381.6,953.8 382.3,953.8 382.9,953.8 383.6,953.8 384.3,953.8 384.9,953.8 385.6,953.8 386.2,953.8 386.9,953.8 387.6,953.8 388.2,953.8 388.9,953.8 389.5,953.8 390.2,953.8 390.9,953.8 391.5,953.8 392.2,953.8 392.8,953.8 393.5,953.8 394.2,953.8 394.8,953.8 395.5,953.8 396.1,953.8 396.8,953.8 397.5,953.8 398.1,953.8 398.8,953.8 399.4,953.8 400.1,953.8 400.8,953.8 401.4,953.8 402.1,953.8 402.7,953.8 403.4,953.8 404.0,953.8 404.7,953.8 405.4,953.8 406.0,953.8 406.7,953.8 407.3,953.8 408.0,953.8 408.7,953.8 409.3,953.8 410.0,953.8 410.6,953.8 411.3,953.8 412.0,953.8 412.6,953.8 413.3,953.8 413.9,953.8 414.6,953.8 415.3,953.8 415.9,953.8 416.6,953.8 417.2,953.8 417.9,953.8 418.6,953.8 419.2,953.8 419.9,953.8 420.5,953.8 421.2,953.8 421.9,953.8 422.5,953.8 423.2,953.8 423.8,953.8 424.5,953.8 425.2,953.8 425.8,953.8 426.5,953.8 427.1,953.8 427.8,953.8 428.5,953.8 429.1,953.8 429.8,953.8 430.4,953.8 431.1,953.8 431.8,953.8 432.4,953.8 433.1,953.8 433.7,953.8 434.4,953.8 435.1,953.8 435.7,953.8 436.4,953.8 437.0,953.8 437.7,953.8 438.3,953.8 439.0,953.8 439.7,953.8 440.3,953.8 441.0,953.8 441.6,953.8 442.3,953.8 443.0,953.8 443.6,953.8 444.3,953.8 444.9,953.8 445.6,953.8 446.3,953.8 446.9,953.8 447.6,953.8 448.2,953.8 448.9,953.8 449.6,953.8 450.2,953.8 450.9,953.8 451.5,953.8 452.2,953.8 452.9,953.8 453.5,953.8 454.2,953.8 454.8,953.8 455.5,953.8 456.2,953.8 456.8,953.8 457.5,953.8 458.1,953.8 458.8,953.8 459.5,953.8 460.1,953.8 460.8,953.8 461.4,953.8 462.1,953.8 462.8,953.8 463.4,953.8 464.1,953.8 464.7,953.8 465.4,953.8 466.1,953.8 466.7,953.8 467.4,953.8 468.0,953.8 468.7,953.8 469.3,953.8 470.0,953.8 470.7,953.8 471.3,953.8 472.0,953.8 472.6,953.8 473.3,953.8 474.0,953.8 474.6,953.8 475.3,953.8 475.9,953.8 476.6,953.8 477.3,953.8 477.9,953.8 478.6,953.8 479.2,953.8 479.9,953.8 480.6,953.8 481.2,953.8 481.9,953.8 482.5,953.8 483.2,953.8 483.9,953.8 484.5,953.8 485.2,953.8 485.8,953.8 486.5,953.8 487.2,953.8 487.8,953.8 488.5,953.8 489.1,953.8 489.8,953.8 490.5,953.8 491.1,953.8 491.8,953.8 492.4,953.8 493.1,953.8 493.8,953.8 494.4,953.8 495.1,953.8 495.7,953.8 496.4,953.8 497.1,953.8 497.7,953.8 498.4,953.8 499.0,953.8 499.7,953.8 500.4,953.8 501.0,953.8 501.7,953.8 502.3,953.8 503.0,953.8 503.6,953.8 504.3,953.8 505.0,953.8 505.6,953.8 506.3,953.8 506.9,953.8 507.6,953.8 508.3,953.8 508.9,953.8 509.6,953.8 510.2,953.8 510.9,953.8 511.6,953.8 512.2,953.8 512.9,953.8 513.5,953.8 514.2,953.8 514.9,953.8 515.5,953.8 516.2,953.8 516.8,953.8 517.5,953.8" fill="none" stroke="#e1261a" stroke-width="5.0" stroke-linejoin="round" clip-path="url(#cb2)"/>
<polyline points="122.4,953.7 123.1,953.7 123.7,953.7 124.4,953.7 125.0,953.7 125.7,953.7 126.4,953.7 127.0,953.7 127.7,953.7 128.3,953.7 129.0,953.7 129.7,953.7 130.3,953.7 131.0,953.7 131.6,953.7 132.3,953.7 133.0,953.7 133.6,953.7 134.3,953.7 134.9,953.7 135.6,953.7 136.3,953.7 136.9,953.7 137.6,953.7 138.2,953.7 138.9,953.7 139.5,953.7 140.2,953.7 140.9,953.7 141.5,953.7 142.2,953.7 142.8,953.7 143.5,953.7 144.2,953.7 144.8,953.7 145.5,953.7 146.1,953.7 146.8,953.7 147.5,953.7 148.1,953.7 148.8,953.7 149.4,953.7 150.1,953.7 150.8,953.7 151.4,953.7 152.1,953.7 152.7,953.7 153.4,953.7 154.1,953.7 154.7,953.7 155.4,953.7 156.0,953.7 156.7,953.7 157.4,953.7 158.0,953.7 158.7,953.7 159.3,953.7 160.0,953.7 160.7,953.7 161.3,953.7 162.0,953.7 162.6,953.7 163.3,953.7 164.0,953.7 164.6,953.7 165.3,953.7 165.9,953.7 166.6,953.7 167.3,953.7 167.9,953.7 168.6,953.7 169.2,953.7 169.9,953.7 170.6,953.7 171.2,953.7 171.9,953.7 172.5,953.7 173.2,953.7 173.8,953.7 174.5,953.7 175.2,953.7 175.8,953.7 176.5,953.7 177.1,953.7 177.8,953.7 178.5,953.7 179.1,953.7 179.8,953.7 180.4,953.7 181.1,953.7 181.8,953.7 182.4,953.7 183.1,953.7 183.7,953.7 184.4,953.7 185.1,953.7 185.7,953.7 186.4,953.7 187.0,953.7 187.7,953.7 188.4,953.7 189.0,953.7 189.7,953.7 190.3,953.7 191.0,953.7 191.7,953.7 192.3,953.7 193.0,953.7 193.6,953.7 194.3,953.7 195.0,953.7 195.6,953.7 196.3,953.7 196.9,953.7 197.6,953.7 198.3,953.7 198.9,953.7 199.6,953.7 200.2,953.7 200.9,953.7 201.6,953.7 202.2,953.7 202.9,953.7 203.5,953.7 204.2,953.7 204.8,953.7 205.5,953.7 206.2,953.7 206.8,953.7 207.5,953.7 208.1,953.7 208.8,953.7 209.5,953.7 210.1,953.7 210.8,953.7 211.4,953.7 212.1,953.7 212.8,953.7 213.4,953.7 214.1,953.6 214.7,953.6 215.4,953.6 216.1,953.6 216.7,953.6 217.4,953.6 218.0,953.6 218.7,953.6 219.4,953.6 220.0,953.6 220.7,953.6 221.3,953.6 222.0,953.5 222.7,953.5 223.3,953.5 224.0,953.5 224.6,953.5 225.3,953.5 226.0,953.5 226.6,953.4 227.3,953.4 227.9,953.4 228.6,953.4 229.3,953.3 229.9,953.3 230.6,953.3 231.2,953.2 231.9,953.2 232.6,953.1 233.2,953.1 233.9,953.0 234.5,953.0 235.2,952.9 235.9,952.8 236.5,952.7 237.2,952.6 237.8,952.4 238.5,952.2 239.1,952.0 239.8,951.7 240.5,951.3 241.1,950.8 241.8,950.2 242.4,949.4 243.1,948.4 243.8,947.2 244.4,945.9 245.1,944.3 245.7,942.6 246.4,940.9 247.1,939.0 247.7,937.1 248.4,935.2 249.0,933.3 249.7,931.3 250.4,929.3 251.0,927.3 251.7,925.4 252.3,923.4 253.0,921.4 253.7,919.4 254.3,917.5 255.0,915.5 255.6,913.5 256.3,911.6 257.0,909.7 257.6,907.8 258.3,905.9 258.9,904.0 259.6,902.2 260.3,900.3 260.9,898.5 261.6,896.7 262.2,894.9 262.9,893.1 263.6,891.4 264.2,889.7 264.9,888.0 265.5,886.3 266.2,884.7 266.9,883.1 267.5,881.5 268.2,879.9 268.8,878.4 269.5,876.9 270.2,875.4 270.8,873.9 271.5,872.5 272.1,871.1 272.8,869.8 273.4,868.4 274.1,867.1 274.8,865.9 275.4,864.6 276.1,863.5 276.7,862.3 277.4,861.2 278.1,860.1 278.7,859.0 279.4,858.0 280.0,857.0 280.7,856.1 281.4,855.2 282.0,854.3 282.7,853.5 283.3,852.7 284.0,851.9 284.7,851.2 285.3,850.5 286.0,849.9 286.6,849.3 287.3,848.7 288.0,848.2 288.6,847.7 289.3,847.3 289.9,846.9 290.6,846.5 291.3,846.2 291.9,845.9 292.6,845.7 293.2,845.5 293.9,845.3 294.6,845.2 295.2,845.2 295.9,845.1 296.5,845.1 297.2,845.2 297.9,845.2 298.5,845.3 299.2,845.4 299.8,845.6 300.5,845.7 301.2,845.9 301.8,846.1 302.5,846.3 303.1,846.6 303.8,846.9 304.4,847.2 305.1,847.5 305.8,847.9 306.4,848.3 307.1,848.7 307.7,849.1 308.4,849.6 309.1,850.0 309.7,850.5 310.4,851.1 311.0,851.6 311.7,852.2 312.4,852.8 313.0,853.4 313.7,854.0 314.3,854.7 315.0,855.4 315.7,856.1 316.3,856.9 317.0,857.6 317.6,858.4 318.3,859.2 319.0,860.0 319.6,860.9 320.3,861.7 320.9,862.6 321.6,863.5 322.3,864.5 322.9,865.4 323.6,866.4 324.2,867.4 324.9,868.4 325.6,869.4 326.2,870.5 326.9,871.5 327.5,872.6 328.2,873.7 328.9,874.8 329.5,876.0 330.2,877.1 330.8,878.3 331.5,879.5 332.2,880.7 332.8,882.0 333.5,883.2 334.1,884.5 334.8,885.7 335.5,887.0 336.1,888.3 336.8,889.7 337.4,891.0 338.1,892.3 338.7,893.7 339.4,895.1 340.1,896.5 340.7,897.9 341.4,899.3 342.0,900.7 342.7,902.2 343.4,903.6 344.0,905.1 344.7,906.5 345.3,908.0 346.0,909.5 346.7,911.0 347.3,912.5 348.0,914.0 348.6,915.5 349.3,917.0 350.0,918.6 350.6,920.1 351.3,921.7 351.9,923.2 352.6,924.7 353.3,926.3 353.9,927.8 354.6,929.4 355.2,930.9 355.9,932.4 356.6,934.0 357.2,935.5 357.9,937.0 358.5,938.5 359.2,939.9 359.9,941.3 360.5,942.7 361.2,944.0 361.8,945.3 362.5,946.4 363.2,947.5 363.8,948.4 364.5,949.2 365.1,949.9 365.8,950.4 366.5,950.9 367.1,951.3 367.8,951.6 368.4,951.8 369.1,952.0 369.7,952.2 370.4,952.4 371.1,952.5 371.7,952.6 372.4,952.7 373.0,952.8 373.7,952.9 374.4,952.9 375.0,953.0 375.7,953.0 376.3,953.1 377.0,953.1 377.7,953.2 378.3,953.2 379.0,953.2 379.6,953.3 380.3,953.3 381.0,953.3 381.6,953.3 382.3,953.4 382.9,953.4 383.6,953.4 384.3,953.4 384.9,953.4 385.6,953.4 386.2,953.5 386.9,953.5 387.6,953.5 388.2,953.5 388.9,953.5 389.5,953.5 390.2,953.5 390.9,953.5 391.5,953.6 392.2,953.6 392.8,953.6 393.5,953.6 394.2,953.6 394.8,953.6 395.5,953.6 396.1,953.6 396.8,953.6 397.5,953.6 398.1,953.6 398.8,953.6 399.4,953.6 400.1,953.6 400.8,953.6 401.4,953.7 402.1,953.7 402.7,953.7 403.4,953.7 404.0,953.7 404.7,953.7 405.4,953.7 406.0,953.7 406.7,953.7 407.3,953.7 408.0,953.7 408.7,953.7 409.3,953.7 410.0,953.7 410.6,953.7 411.3,953.7 412.0,953.7 412.6,953.7 413.3,953.7 413.9,953.7 414.6,953.7 415.3,953.7 415.9,953.7 416.6,953.7 417.2,953.7 417.9,953.7 418.6,953.7 419.2,953.7 419.9,953.7 420.5,953.7 421.2,953.7 421.9,953.7 422.5,953.7 423.2,953.7 423.8,953.7 424.5,953.7 425.2,953.7 425.8,953.7 426.5,953.7 427.1,953.7 427.8,953.7 428.5,953.7 429.1,953.7 429.8,953.7 430.4,953.7 431.1,953.7 431.8,953.7 432.4,953.7 433.1,953.7 433.7,953.7 434.4,953.7 435.1,953.7 435.7,953.7 436.4,953.7 437.0,953.7 437.7,953.7 438.3,953.7 439.0,953.7 439.7,953.7 440.3,953.7 441.0,953.7 441.6,953.7 442.3,953.7 443.0,953.7 443.6,953.7 444.3,953.7 444.9,953.7 445.6,953.7 446.3,953.7 446.9,953.7 447.6,953.7 448.2,953.7 448.9,953.7 449.6,953.7 450.2,953.7 450.9,953.7 451.5,953.7 452.2,953.7 452.9,953.7 453.5,953.7 454.2,953.7 454.8,953.7 455.5,953.7 456.2,953.7 456.8,953.7 457.5,953.7 458.1,953.7 458.8,953.7 459.5,953.7 460.1,953.7 460.8,953.7 461.4,953.7 462.1,953.7 462.8,953.7 463.4,953.7 464.1,953.7 464.7,953.7 465.4,953.7 466.1,953.7 466.7,953.7 467.4,953.7 468.0,953.7 468.7,953.7 469.3,953.7 470.0,953.7 470.7,953.7 471.3,953.7 472.0,953.7 472.6,953.7 473.3,953.7 474.0,953.7 474.6,953.7 475.3,953.7 475.9,953.7 476.6,953.7 477.3,953.7 477.9,953.7 478.6,953.7 479.2,953.7 479.9,953.7 480.6,953.7 481.2,953.7 481.9,953.7 482.5,953.7 483.2,953.7 483.9,953.7 484.5,953.7 485.2,953.7 485.8,953.7 486.5,953.7 487.2,953.7 487.8,953.7 488.5,953.7 489.1,953.7 489.8,953.7 490.5,953.7 491.1,953.7 491.8,953.7 492.4,953.7 493.1,953.7 493.8,953.7 494.4,953.7 495.1,953.7 495.7,953.7 496.4,953.7 497.1,953.7 497.7,953.7 498.4,953.7 499.0,953.7 499.7,953.7 500.4,953.7 501.0,953.7 501.7,953.7 502.3,953.7 503.0,953.7 503.6,953.7 504.3,953.7 505.0,953.7 505.6,953.7 506.3,953.7 506.9,953.7 507.6,953.7 508.3,953.7 508.9,953.7 509.6,953.7 510.2,953.7 510.9,953.7 511.6,953.7 512.2,953.7 512.9,953.7 513.5,953.7 514.2,953.7 514.9,953.7 515.5,953.7 516.2,953.7 516.8,953.7 517.5,953.7" fill="none" stroke="#3342a8" stroke-width="5.4" stroke-linejoin="round" clip-path="url(#cb2)"/>
<line x1="116.20" y1="758.00" x2="116.20" y2="954.90" stroke="#000" stroke-width="1.7" />
<line x1="115.50" y1="954.10" x2="519.00" y2="954.10" stroke="#000" stroke-width="1.6" />
<line x1="116.20" y1="918.10" x2="127.80" y2="918.10" stroke="#000" stroke-width="1.6" />
<line x1="116.20" y1="882.20" x2="127.80" y2="882.20" stroke="#000" stroke-width="1.6" />
<line x1="116.20" y1="846.30" x2="127.80" y2="846.30" stroke="#000" stroke-width="1.6" />
<line x1="116.20" y1="810.40" x2="127.80" y2="810.40" stroke="#000" stroke-width="1.6" />
<line x1="116.20" y1="774.50" x2="127.80" y2="774.50" stroke="#000" stroke-width="1.6" />
<line x1="117.08" y1="954.00" x2="117.08" y2="944.00" stroke="#000" stroke-width="1.6" />
<line x1="183.92" y1="954.00" x2="183.92" y2="944.00" stroke="#000" stroke-width="1.6" />
<line x1="250.76" y1="954.00" x2="250.76" y2="944.00" stroke="#000" stroke-width="1.6" />
<line x1="317.60" y1="954.00" x2="317.60" y2="944.00" stroke="#000" stroke-width="1.6" />
<line x1="384.44" y1="954.00" x2="384.44" y2="944.00" stroke="#000" stroke-width="1.6" />
<line x1="451.28" y1="954.00" x2="451.28" y2="944.00" stroke="#000" stroke-width="1.6" />
<line x1="518.12" y1="954.00" x2="518.12" y2="944.00" stroke="#000" stroke-width="1.6" />
<text class="l" x="54.2" y="825.1" font-size="40.6">1.6</text>
<text class="l" x="54.2" y="896.9" font-size="40.6">0.8</text>
<text class="l" x="87.4" y="964.7" font-size="40.6">0</text>
<text class="l" x="139.2" y="990.0" font-size="40.6">Neuron preferred or.</text>
<line x1="318.10" y1="1018.70" x2="318.10" y2="1421.70" stroke="#5a5a5a" stroke-width="1.2" />
<line x1="116.00" y1="1220.20" x2="519.00" y2="1220.20" stroke="#5a5a5a" stroke-width="1.2" />
<line x1="116.40" y1="1018.70" x2="116.40" y2="1422.40" stroke="#000" stroke-width="1.5" />
<line x1="115.70" y1="1421.70" x2="519.50" y2="1421.70" stroke="#000" stroke-width="1.5" />
<line x1="116.40" y1="1367.64" x2="128.00" y2="1367.64" stroke="#000" stroke-width="1.4" />
<line x1="116.40" y1="1293.92" x2="128.00" y2="1293.92" stroke="#000" stroke-width="1.4" />
<line x1="116.40" y1="1220.20" x2="128.00" y2="1220.20" stroke="#000" stroke-width="1.4" />
<line x1="116.40" y1="1146.48" x2="128.00" y2="1146.48" stroke="#000" stroke-width="1.4" />
<line x1="116.40" y1="1072.76" x2="128.00" y2="1072.76" stroke="#000" stroke-width="1.4" />
<line x1="117.58" y1="1421.70" x2="117.58" y2="1410.50" stroke="#000" stroke-width="1.4" />
<line x1="184.42" y1="1421.70" x2="184.42" y2="1410.50" stroke="#000" stroke-width="1.4" />
<line x1="251.26" y1="1421.70" x2="251.26" y2="1410.50" stroke="#000" stroke-width="1.4" />
<line x1="318.10" y1="1421.70" x2="318.10" y2="1410.50" stroke="#000" stroke-width="1.4" />
<line x1="384.94" y1="1421.70" x2="384.94" y2="1410.50" stroke="#000" stroke-width="1.4" />
<line x1="451.78" y1="1421.70" x2="451.78" y2="1410.50" stroke="#000" stroke-width="1.4" />
<line x1="518.62" y1="1421.70" x2="518.62" y2="1410.50" stroke="#000" stroke-width="1.4" />
<polyline points="116.6,1220.2 116.9,1220.2 118.1,1220.2 119.4,1220.2 120.7,1220.2 121.9,1220.2 123.2,1220.2 124.5,1220.2 125.7,1220.2 127.0,1220.2 128.3,1220.2 129.5,1220.2 130.8,1220.2 132.0,1220.2 133.3,1220.1 134.6,1220.1 135.8,1220.1 137.1,1220.0 138.4,1220.0 139.6,1219.9 140.9,1219.8 142.2,1219.8 143.4,1219.7 144.7,1219.6 145.9,1219.4 147.2,1219.3 148.5,1219.1 149.7,1218.9 151.0,1218.7 152.3,1218.5 153.5,1218.3 154.8,1218.1 156.1,1217.8 157.3,1217.6 158.6,1217.3 159.9,1217.0 161.1,1216.6 162.4,1216.3 163.6,1215.9 164.9,1215.5 166.2,1215.1 167.4,1214.6 168.7,1214.1 170.0,1213.6 171.2,1213.0 172.5,1212.4 173.8,1211.8 175.0,1211.1 176.3,1210.5 177.5,1209.8 178.8,1209.2 180.1,1208.5 181.3,1207.8 182.6,1207.0 183.9,1206.3 185.1,1205.5 186.4,1204.7 187.7,1203.9 188.9,1203.0 190.2,1202.2 191.5,1201.3 192.7,1200.4 194.0,1199.5 195.2,1198.6 196.5,1197.6 197.8,1196.6 199.0,1195.6 200.3,1194.6 201.6,1193.6 202.8,1192.6 204.1,1191.6 205.4,1190.5 206.6,1189.5 207.9,1188.4 209.2,1187.4 210.4,1186.3 211.7,1185.1 212.9,1184.0 214.2,1182.8 215.5,1181.6 216.7,1180.4 218.0,1179.2 219.3,1177.9 220.5,1176.6 221.8,1175.3 223.1,1174.0 224.3,1172.7 225.6,1171.4 226.8,1170.2 228.1,1168.9 229.4,1167.6 230.6,1166.3 231.9,1165.0 233.2,1163.8 234.4,1162.5 235.7,1161.2 237.0,1160.0 238.2,1158.8 239.5,1157.6 240.8,1156.4 242.0,1155.2 243.3,1154.0 244.5,1152.9 245.8,1151.7 247.1,1150.6 248.3,1149.6 249.6,1148.5 250.9,1147.5 252.1,1146.5 253.4,1145.5 254.7,1144.5 255.9,1143.5 257.2,1142.6 258.5,1141.7 259.7,1140.9 261.0,1140.2 262.2,1139.6 263.5,1139.1 264.8,1138.5 266.0,1138.0 267.3,1137.5 268.6,1137.1 269.8,1136.7 271.1,1136.3 272.4,1136.1 273.6,1136.0 274.9,1136.0 276.1,1136.0 277.4,1136.2 278.7,1136.3 279.9,1136.6 281.2,1136.9 282.5,1137.2 283.7,1137.5 285.0,1138.0 286.3,1138.7 287.5,1139.7 288.8,1140.9 290.1,1142.4 291.4,1144.0 292.7,1145.7 294.1,1147.5 295.4,1149.7 296.7,1152.3 298.1,1155.2 299.4,1158.3 300.7,1161.6 302.1,1165.1 303.4,1168.5 304.7,1172.3 306.1,1176.4 307.4,1180.7 308.8,1185.2 310.1,1189.8 311.4,1194.4 312.8,1199.3 314.1,1204.3 315.4,1209.4 316.8,1214.7 318.1,1220.2 319.4,1225.7 320.6,1231.0 321.9,1236.1 323.2,1241.1 324.4,1246.0 325.7,1250.6 326.9,1255.2 328.2,1259.7 329.5,1264.0 330.7,1268.1 332.0,1271.9 333.3,1275.3 334.5,1278.8 335.8,1282.1 337.1,1285.2 338.3,1288.1 339.6,1290.7 340.9,1292.9 342.1,1294.7 343.4,1296.4 344.6,1298.0 345.9,1299.5 347.2,1300.7 348.4,1301.7 349.7,1302.4 351.0,1302.9 352.2,1303.2 353.5,1303.5 354.8,1303.8 356.0,1304.1 357.3,1304.2 358.6,1304.4 359.8,1304.4 361.1,1304.4 362.3,1304.3 363.6,1304.1 364.9,1303.7 366.1,1303.3 367.4,1302.9 368.7,1302.4 369.9,1301.9 371.2,1301.3 372.5,1300.8 373.7,1300.2 375.0,1299.5 376.2,1298.7 377.5,1297.8 378.8,1296.9 380.0,1295.9 381.3,1294.9 382.6,1293.9 383.8,1292.9 385.1,1291.9 386.4,1290.8 387.6,1289.8 388.9,1288.7 390.2,1287.5 391.4,1286.4 392.7,1285.2 393.9,1284.0 395.2,1282.8 396.5,1281.6 397.7,1280.4 399.0,1279.2 400.3,1277.9 401.5,1276.6 402.8,1275.4 404.1,1274.1 405.3,1272.8 406.6,1271.5 407.9,1270.2 409.1,1269.0 410.4,1267.7 411.6,1266.4 412.9,1265.1 414.2,1263.8 415.4,1262.5 416.7,1261.2 418.0,1260.0 419.2,1258.8 420.5,1257.6 421.8,1256.4 423.0,1255.3 424.3,1254.1 425.5,1253.0 426.8,1252.0 428.1,1250.9 429.3,1249.9 430.6,1248.8 431.9,1247.8 433.1,1246.8 434.4,1245.8 435.7,1244.8 436.9,1243.8 438.2,1242.8 439.5,1241.8 440.7,1240.9 442.0,1240.0 443.2,1239.1 444.5,1238.2 445.8,1237.4 447.0,1236.5 448.3,1235.7 449.6,1234.9 450.8,1234.1 452.1,1233.4 453.4,1232.6 454.6,1231.9 455.9,1231.2 457.2,1230.6 458.4,1229.9 459.7,1229.3 460.9,1228.6 462.2,1228.0 463.5,1227.4 464.7,1226.8 466.0,1226.3 467.3,1225.8 468.5,1225.3 469.8,1224.9 471.1,1224.5 472.3,1224.1 473.6,1223.8 474.8,1223.4 476.1,1223.1 477.4,1222.8 478.6,1222.6 479.9,1222.3 481.2,1222.1 482.4,1221.9 483.7,1221.7 485.0,1221.5 486.2,1221.3 487.5,1221.1 488.8,1221.0 490.0,1220.8 491.3,1220.7 492.5,1220.6 493.8,1220.6 495.1,1220.5 496.3,1220.4 497.6,1220.4 498.9,1220.3 500.1,1220.3 501.4,1220.3 502.7,1220.2 503.9,1220.2 505.2,1220.2 506.4,1220.2 507.7,1220.2 509.0,1220.2 510.2,1220.2 511.5,1220.2 512.8,1220.2 514.0,1220.2 515.3,1220.2 516.6,1220.2 517.8,1220.2 519.1,1220.2" fill="none" stroke="#000" stroke-width="5.7" stroke-linejoin="round" stroke-linecap="butt"/>
<polyline points="116.6,1220.2 116.9,1220.2 118.1,1220.2 119.4,1220.2 120.7,1220.2 121.9,1220.2 123.2,1220.2 124.5,1220.2 125.7,1220.2 127.0,1220.2 128.3,1220.2 129.5,1220.2 130.8,1220.2 132.0,1220.2 133.3,1220.2 134.6,1220.2 135.8,1220.2 137.1,1220.2 138.4,1220.2 139.6,1220.2 140.9,1220.2 142.2,1220.2 143.4,1220.2 144.7,1220.2 145.9,1220.2 147.2,1220.2 148.5,1220.2 149.7,1220.2 151.0,1220.2 152.3,1220.2 153.5,1220.2 154.8,1220.2 156.1,1220.2 157.3,1220.2 158.6,1220.2 159.9,1220.2 161.1,1220.2 162.4,1220.2 163.6,1220.2 164.9,1220.2 166.2,1220.2 167.4,1220.2 168.7,1220.2 170.0,1220.2 171.2,1220.2 172.5,1220.2 173.8,1220.2 175.0,1220.2 176.3,1220.2 177.5,1220.2 178.8,1220.2 180.1,1220.2 181.3,1220.2 182.6,1220.2 183.9,1220.2 185.1,1220.2 186.4,1220.2 187.7,1220.1 188.9,1220.1 190.2,1220.1 191.5,1220.0 192.7,1220.0 194.0,1219.9 195.2,1219.9 196.5,1219.8 197.8,1219.7 199.0,1219.6 200.3,1219.5 201.6,1219.3 202.8,1219.2 204.1,1219.0 205.4,1218.8 206.6,1218.6 207.9,1218.4 209.2,1218.1 210.4,1217.8 211.7,1217.4 212.9,1217.0 214.2,1216.6 215.5,1216.1 216.7,1215.6 218.0,1215.0 219.3,1214.4 220.5,1213.8 221.8,1213.1 223.1,1212.3 224.3,1211.5 225.6,1210.6 226.8,1209.6 228.1,1208.5 229.4,1207.4 230.6,1206.3 231.9,1205.1 233.2,1203.9 234.4,1202.5 235.7,1201.0 237.0,1199.5 238.2,1197.8 239.5,1196.1 240.8,1194.3 242.0,1192.4 243.3,1190.5 244.5,1188.6 245.8,1186.5 247.1,1184.3 248.3,1182.0 249.6,1179.6 250.9,1177.1 252.1,1174.6 253.4,1172.0 254.7,1169.4 255.9,1166.9 257.2,1164.3 258.5,1161.6 259.7,1158.8 261.0,1156.1 262.2,1153.2 263.5,1150.4 264.8,1147.6 266.0,1144.7 267.3,1141.9 268.6,1139.1 269.8,1136.3 271.1,1133.5 272.4,1130.7 273.6,1127.9 274.9,1125.1 276.1,1122.4 277.4,1119.6 278.7,1116.8 279.9,1114.0 281.2,1111.3 282.5,1108.5 283.7,1105.6 285.0,1102.8 286.3,1100.0 287.5,1097.4 288.8,1095.0 290.1,1092.7 291.4,1090.1 292.7,1087.6 294.1,1085.3 295.4,1083.3 296.7,1082.0 298.1,1081.4 299.4,1081.6 300.7,1082.2 302.1,1083.2 303.4,1084.4 304.7,1085.8 306.1,1088.4 307.4,1092.0 308.8,1096.5 310.1,1102.4 311.4,1111.7 312.8,1124.2 314.1,1139.7 315.4,1164.2 316.8,1192.0 318.1,1220.2 319.4,1248.4 320.6,1276.2 321.9,1300.7 323.2,1316.2 324.4,1328.7 325.7,1338.0 326.9,1343.9 328.2,1348.4 329.5,1352.0 330.7,1354.6 332.0,1356.0 333.3,1357.2 334.5,1358.2 335.8,1358.8 337.1,1359.0 338.3,1358.4 339.6,1357.1 340.9,1355.1 342.1,1352.8 343.4,1350.3 344.6,1347.7 345.9,1345.4 347.2,1343.0 348.4,1340.4 349.7,1337.6 351.0,1334.8 352.2,1331.9 353.5,1329.1 354.8,1326.4 356.0,1323.6 357.3,1320.8 358.6,1318.0 359.8,1315.3 361.1,1312.5 362.3,1309.7 363.6,1306.9 364.9,1304.1 366.1,1301.3 367.4,1298.5 368.7,1295.7 369.9,1292.8 371.2,1290.0 372.5,1287.2 373.7,1284.3 375.0,1281.6 376.2,1278.8 377.5,1276.1 378.8,1273.5 380.0,1271.0 381.3,1268.4 382.6,1265.8 383.8,1263.3 385.1,1260.8 386.4,1258.4 387.6,1256.1 388.9,1253.9 390.2,1251.8 391.4,1249.9 392.7,1248.0 393.9,1246.1 395.2,1244.3 396.5,1242.6 397.7,1240.9 399.0,1239.4 400.3,1237.9 401.5,1236.5 402.8,1235.3 404.1,1234.1 405.3,1233.0 406.6,1231.9 407.9,1230.8 409.1,1229.8 410.4,1228.9 411.6,1228.1 412.9,1227.3 414.2,1226.6 415.4,1226.0 416.7,1225.4 418.0,1224.8 419.2,1224.3 420.5,1223.8 421.8,1223.4 423.0,1223.0 424.3,1222.6 425.5,1222.3 426.8,1222.0 428.1,1221.8 429.3,1221.6 430.6,1221.4 431.9,1221.2 433.1,1221.1 434.4,1220.9 435.7,1220.8 436.9,1220.7 438.2,1220.6 439.5,1220.5 440.7,1220.5 442.0,1220.4 443.2,1220.4 444.5,1220.3 445.8,1220.3 447.0,1220.3 448.3,1220.2 449.6,1220.2 450.8,1220.2 452.1,1220.2 453.4,1220.2 454.6,1220.2 455.9,1220.2 457.2,1220.2 458.4,1220.2 459.7,1220.2 460.9,1220.2 462.2,1220.2 463.5,1220.2 464.7,1220.2 466.0,1220.2 467.3,1220.2 468.5,1220.2 469.8,1220.2 471.1,1220.2 472.3,1220.2 473.6,1220.2 474.8,1220.2 476.1,1220.2 477.4,1220.2 478.6,1220.2 479.9,1220.2 481.2,1220.2 482.4,1220.2 483.7,1220.2 485.0,1220.2 486.2,1220.2 487.5,1220.2 488.8,1220.2 490.0,1220.2 491.3,1220.2 492.5,1220.2 493.8,1220.2 495.1,1220.2 496.3,1220.2 497.6,1220.2 498.9,1220.2 500.1,1220.2 501.4,1220.2 502.7,1220.2 503.9,1220.2 505.2,1220.2 506.4,1220.2 507.7,1220.2 509.0,1220.2 510.2,1220.2 511.5,1220.2 512.8,1220.2 514.0,1220.2 515.3,1220.2 516.6,1220.2 517.8,1220.2 519.1,1220.2" fill="none" stroke="#e1261a" stroke-width="5.4" stroke-linejoin="round" stroke-linecap="butt"/>
<polyline points="116.6,1220.2 116.9,1220.2 118.1,1220.2 119.4,1220.2 120.7,1220.1 121.9,1220.1 123.2,1220.0 124.5,1220.0 125.7,1219.9 127.0,1219.8 128.3,1219.8 129.5,1219.7 130.8,1219.6 132.0,1219.5 133.3,1219.5 134.6,1219.4 135.8,1219.3 137.1,1219.2 138.4,1219.0 139.6,1218.9 140.9,1218.7 142.2,1218.5 143.4,1218.3 144.7,1218.1 145.9,1217.9 147.2,1217.7 148.5,1217.5 149.7,1217.2 151.0,1216.9 152.3,1216.6 153.5,1216.3 154.8,1216.0 156.1,1215.6 157.3,1215.2 158.6,1214.8 159.9,1214.4 161.1,1214.0 162.4,1213.5 163.6,1212.9 164.9,1212.4 166.2,1211.8 167.4,1211.1 168.7,1210.5 170.0,1209.8 171.2,1209.1 172.5,1208.4 173.8,1207.7 175.0,1206.9 176.3,1206.1 177.5,1205.3 178.8,1204.4 180.1,1203.5 181.3,1202.6 182.6,1201.7 183.9,1200.7 185.1,1199.8 186.4,1198.8 187.7,1197.7 188.9,1196.6 190.2,1195.5 191.5,1194.4 192.7,1193.2 194.0,1192.1 195.2,1190.9 196.5,1189.7 197.8,1188.4 199.0,1187.1 200.3,1185.8 201.6,1184.5 202.8,1183.1 204.1,1181.7 205.4,1180.3 206.6,1178.8 207.9,1177.4 209.2,1175.8 210.4,1174.3 211.7,1172.6 212.9,1171.0 214.2,1169.3 215.5,1167.6 216.7,1165.8 218.0,1164.1 219.3,1162.3 220.5,1160.5 221.8,1158.7 223.1,1156.8 224.3,1154.9 225.6,1152.9 226.8,1151.0 228.1,1149.0 229.4,1147.0 230.6,1145.0 231.9,1143.0 233.2,1141.0 234.4,1139.0 235.7,1136.9 237.0,1134.9 238.2,1132.8 239.5,1130.7 240.8,1128.6 242.0,1126.5 243.3,1124.5 244.5,1122.4 245.8,1120.3 247.1,1118.3 248.3,1116.2 249.6,1114.1 250.9,1112.0 252.1,1109.9 253.4,1107.9 254.7,1105.8 255.9,1103.8 257.2,1101.8 258.5,1099.7 259.7,1097.7 261.0,1095.6 262.2,1093.5 263.5,1091.5 264.8,1089.6 266.0,1087.8 267.3,1086.1 268.6,1084.5 269.8,1083.0 271.1,1081.6 272.4,1080.2 273.6,1079.0 274.9,1078.1 276.1,1077.4 277.4,1076.7 278.7,1076.2 279.9,1075.8 281.2,1075.6 282.5,1075.6 283.7,1075.8 285.0,1076.1 286.3,1076.6 287.5,1077.1 288.8,1077.7 290.1,1078.8 291.4,1080.4 292.7,1082.2 294.1,1084.3 295.4,1087.2 296.7,1091.2 298.1,1096.0 299.4,1101.3 300.7,1106.9 302.1,1113.2 303.4,1120.3 304.7,1128.1 306.1,1136.3 307.4,1144.8 308.8,1153.4 310.1,1162.9 311.4,1172.8 312.8,1182.6 314.1,1192.1 315.4,1201.5 316.8,1210.9 318.1,1220.2 319.4,1229.5 320.6,1238.8 321.9,1248.2 323.2,1257.6 324.4,1267.4 325.7,1277.2 326.9,1286.5 328.2,1295.1 329.5,1303.4 330.7,1311.5 332.0,1319.1 333.3,1326.0 334.5,1332.2 335.8,1337.5 337.1,1342.6 338.3,1347.2 339.6,1351.1 340.9,1353.8 342.1,1355.8 343.4,1357.4 344.6,1358.8 345.9,1359.9 347.2,1360.5 348.4,1361.0 349.7,1361.5 351.0,1361.8 352.2,1362.0 353.5,1362.0 354.8,1361.8 356.0,1361.4 357.3,1360.8 358.6,1360.2 359.8,1359.5 361.1,1358.6 362.3,1357.4 363.6,1356.1 364.9,1354.7 366.1,1353.2 367.4,1351.7 368.7,1350.0 369.9,1348.2 371.2,1346.3 372.5,1344.4 373.7,1342.4 375.0,1340.3 376.2,1338.3 377.5,1336.3 378.8,1334.3 380.0,1332.3 381.3,1330.3 382.6,1328.3 383.8,1326.3 385.1,1324.2 386.4,1322.2 387.6,1320.1 388.9,1318.1 390.2,1316.1 391.4,1314.1 392.7,1312.0 393.9,1310.0 395.2,1307.9 396.5,1305.9 397.7,1303.9 399.0,1301.8 400.3,1299.8 401.5,1297.8 402.8,1295.9 404.1,1293.9 405.3,1291.9 406.6,1290.0 407.9,1288.1 409.1,1286.1 410.4,1284.2 411.6,1282.4 412.9,1280.5 414.2,1278.7 415.4,1277.0 416.7,1275.2 418.0,1273.5 419.2,1271.8 420.5,1270.1 421.8,1268.4 423.0,1266.8 424.3,1265.2 425.5,1263.7 426.8,1262.2 428.1,1260.7 429.3,1259.3 430.6,1257.9 431.9,1256.5 433.1,1255.2 434.4,1253.9 435.7,1252.6 436.9,1251.4 438.2,1250.1 439.5,1249.0 440.7,1247.8 442.0,1246.6 443.2,1245.5 444.5,1244.4 445.8,1243.3 447.0,1242.2 448.3,1241.2 449.6,1240.2 450.8,1239.3 452.1,1238.3 453.4,1237.4 454.6,1236.5 455.9,1235.7 457.2,1234.8 458.4,1234.0 459.7,1233.2 460.9,1232.4 462.2,1231.7 463.5,1231.0 464.7,1230.4 466.0,1229.7 467.3,1229.1 468.5,1228.5 469.8,1227.9 471.1,1227.3 472.3,1226.8 473.6,1226.3 474.8,1225.9 476.1,1225.4 477.4,1225.1 478.6,1224.7 479.9,1224.3 481.2,1224.0 482.4,1223.7 483.7,1223.4 485.0,1223.1 486.2,1222.9 487.5,1222.6 488.8,1222.4 490.0,1222.2 491.3,1222.0 492.5,1221.8 493.8,1221.7 495.1,1221.5 496.3,1221.3 497.6,1221.2 498.9,1221.1 500.1,1221.0 501.4,1220.9 502.7,1220.9 503.9,1220.8 505.2,1220.7 506.4,1220.6 507.7,1220.5 509.0,1220.5 510.2,1220.4 511.5,1220.4 512.8,1220.3 514.0,1220.3 515.3,1220.2 516.6,1220.2 517.8,1220.2 519.1,1220.2" fill="none" stroke="#3342a8" stroke-width="5.4" stroke-linejoin="round" stroke-linecap="butt"/>
<text class="l" x="87.5" y="1087.3" font-size="40.6">8</text>
<text class="l" x="87.1" y="1161.0" font-size="40.6">4</text>
<text class="l" x="87.3" y="1234.7" font-size="40.6">0</text>
<text class="l" x="63.3" y="1308.4" font-size="40.6">−4</text>
<text class="l" x="63.7" y="1382.2" font-size="40.6">−8</text>
<text class="l" x="144.4" y="1460.5" font-size="40.6">−60</text>
<text class="l" x="306.2" y="1460.5" font-size="40.6">0</text>
<text class="l" x="425.5" y="1460.5" font-size="40.6">60</text>
<text class="l" x="132.0" y="1503.4" font-size="40.6">Surround orientation</text>
<text class="l" x="42.2" y="1370.4" font-size="40.6" transform="rotate(-90 42.20 1370.45)">Repulsion effect</text>
<text class="d" x="18.7" y="1050.4" font-size="73.2">c</text>
<text class="d" x="350.1" y="1073.9" font-size="29.1" stroke="#000" stroke-width="0.25">Iinh=0.07</text>
<text class="d" x="350.9" y="1102.8" font-size="29.0" stroke="#000" stroke-width="0.25">sig_th=15</text>
<text class="d" x="156.9" y="1373.3" font-size="28.9" fill="#e1261a" stroke="#e1261a" stroke-width="0.25">Iinh=0.24</text>
<text class="d" x="158.2" y="1402.4" font-size="28.7" fill="#e1261a" stroke="#e1261a" stroke-width="0.25">sig_th=10</text>
<text class="d" x="415.7" y="1369.3" font-size="29.0" fill="#3342a8" stroke="#3342a8" stroke-width="0.25">Iinh=0.14</text>
<text class="d" x="417.0" y="1398.2" font-size="28.7" fill="#3342a8" stroke="#3342a8" stroke-width="0.25">sig_th=15</text>
<path d="M407.3,1122.5 L407.2,1126.3 L407.2,1130.2 L407.0,1134.0 L406.8,1137.8 L406.6,1141.7 L406.4,1145.5 L406.1,1149.3 L405.7,1153.2 L405.3,1157.0 L404.8,1160.8 L404.3,1164.6 L403.7,1168.4 L403.1,1172.2 L402.4,1176.0 L401.7,1179.8 L400.9,1183.5 L400.0,1187.2 L399.1,1191.0 L398.1,1194.7 L397.1,1198.4 L396.1,1202.1 L395.0,1205.8 L394.0,1209.5 L392.9,1213.2 L391.8,1216.8 L390.6,1220.5 L389.4,1224.1 L388.0,1227.7 L386.6,1231.3 L385.0,1234.8 L383.2,1238.2 L381.4,1241.6 L379.3,1244.8 L377.2,1248.0 L374.9,1251.1 L372.5,1254.1 L369.9,1257.0 L367.3,1259.8 L364.5,1262.4" fill="none" stroke="#000" stroke-width="2.4"/>
<path d="M341.5,1271.5 L364.5,1251.5 L363.9,1263.0 L371.8,1270.9 Z" fill="#000"/>
<path d="M289.8,1343.6 L289.6,1340.4 L289.4,1337.1 L289.2,1333.9 L289.0,1330.6 L288.8,1327.3 L288.5,1324.0 L288.3,1320.7 L288.0,1317.4 L287.7,1314.1 L287.3,1310.8 L286.9,1307.5 L286.5,1304.2 L286.0,1300.9 L285.5,1297.6 L284.9,1294.4 L284.3,1291.1 L283.6,1287.9 L282.8,1284.7 L282.0,1281.5 L281.1,1278.3 L280.1,1275.2 L279.0,1272.1 L277.8,1269.0 L276.6,1266.0 L275.2,1263.0 L273.7,1260.0 L272.2,1257.1 L270.6,1254.2 L268.8,1251.4 L267.0,1248.6 L265.1,1245.9 L263.1,1243.3 L261.0,1240.7 L258.9,1238.2 L256.6,1235.8 L254.3,1233.5 L251.9,1231.2 L249.4,1229.0 L246.9,1226.9" fill="none" stroke="#e1261a" stroke-width="2.2"/>
<path d="M223.6,1216.4 L254.5,1215.5 L246.4,1223.6 L247.6,1235.5 Z" fill="#e1261a"/>
<path d="M465.8,1336.4 L465.5,1335.0 L465.2,1333.7 L464.8,1332.3 L464.4,1330.9 L464.0,1329.6 L463.6,1328.2 L463.2,1326.9 L462.7,1325.6 L462.2,1324.2 L461.6,1322.9 L461.1,1321.6 L460.5,1320.3 L459.9,1319.0 L459.2,1317.7 L458.5,1316.5 L457.8,1315.3 L457.0,1314.1 L456.3,1312.9 L455.5,1311.7 L454.6,1310.6 L453.7,1309.5 L452.8,1308.4 L451.9,1307.4 L450.9,1306.4 L449.9,1305.4 L448.9,1304.4 L447.8,1303.5 L446.7,1302.6 L445.6,1301.7 L444.5,1300.9 L443.3,1300.0 L442.2,1299.2 L441.0,1298.4 L439.9,1297.5 L438.7,1296.7 L437.6,1295.9 L436.5,1295.0 L435.3,1294.2 L434.2,1293.3" fill="none" stroke="#3342a8" stroke-width="2.0"/>
<path d="M408.8,1287.9 L439.1,1282.2 L433.6,1292.1 L435.5,1303.0 Z" fill="#3c6fbe"/>
<ellipse cx="837.5" cy="257.0" rx="186" ry="184.5" fill="url(#gd)"/>
<circle cx="836.1" cy="144.9" r="54.7" fill="none" stroke="#dc2b1d" stroke-width="3"/>
<circle cx="836.7" cy="257" r="54.7" fill="none" stroke="#dc2b1d" stroke-width="3"/>
<circle cx="839" cy="369" r="54.7" fill="none" stroke="#dc2b1d" stroke-width="3"/>
<circle cx="741" cy="202.4" r="54.7" fill="none" stroke="#dc2b1d" stroke-width="3"/>
<circle cx="740.8" cy="314" r="54.7" fill="none" stroke="#dc2b1d" stroke-width="3"/>
<circle cx="935.2" cy="202.4" r="54.7" fill="none" stroke="#dc2b1d" stroke-width="3"/>
<circle cx="934.5" cy="314" r="54.7" fill="none" stroke="#dc2b1d" stroke-width="3"/>
<path d="M844.7,261.2 L844.2,257.8 L843.5,254.4 L842.7,251.1 L841.7,247.9 L840.6,244.7 L839.3,241.5 L838.0,238.4 L836.5,235.3 L834.9,232.3 L833.3,229.3 L831.6,226.3 L829.8,223.4 L828.0,220.5 L826.0,217.8 L823.9,215.1 L821.7,212.5 L819.3,210.0 L816.8,207.7 L814.1,205.6 L811.3,203.6 L808.4,201.9 L805.3,200.3 L802.2,199.0 L799.0,197.8 L795.7,196.8 L792.4,195.9 L789.1,195.1 L785.7,194.3 L782.4,193.7" fill="none" stroke="#3f73c3" stroke-width="3.2"/>
<path d="M748.2,187.5 L787.9,181.9 L781.6,193.4 L782.0,209.2 Z" fill="#3f73c3"/>
<path d="M743.0,202.9 L743.8,206.3 L744.6,209.6 L745.5,213.0 L746.4,216.3 L747.4,219.6 L748.5,222.8 L749.7,226.1 L751.0,229.3 L752.4,232.4 L753.9,235.5 L755.5,238.6 L757.3,241.6 L759.2,244.5 L761.3,247.3 L763.5,250.0 L765.9,252.4 L768.6,254.6 L771.4,256.6 L774.3,258.3 L777.4,260.0 L780.6,261.5 L783.7,262.9 L786.9,264.2 L790.1,265.5 L793.4,266.6 L796.7,267.6 L800.0,268.4 L803.4,269.0 L806.9,269.3" fill="none" stroke="#3f73c3" stroke-width="3.2"/>
<path d="M839.6,277.0 L805.7,255.3 L806.1,269.5 L799.8,282.9 Z" fill="#3f73c3"/>
<text class="d" x="572.5" y="109.3" font-size="73.7">d</text>
<polyline points="647.7,748.5 648.4,748.5 649.1,748.5 649.8,748.5 650.4,748.5 651.1,748.5 651.8,748.5 652.5,748.5 653.2,748.5 653.9,748.5 654.5,748.5 655.2,748.5 655.9,748.4 656.6,748.4 657.3,748.4 658.0,748.4 658.6,748.4 659.3,748.4 660.0,748.4 660.7,748.4 661.4,748.3 662.1,748.3 662.7,748.3 663.4,748.3 664.1,748.3 664.8,748.3 665.5,748.2 666.2,748.2 666.8,748.2 667.5,748.2 668.2,748.1 668.9,748.1 669.6,748.1 670.3,748.1 670.9,748.0 671.6,748.0 672.3,748.0 673.0,748.0 673.7,747.9 674.4,747.9 675.0,747.9 675.7,747.8 676.4,747.8 677.1,747.8 677.8,747.7 678.5,747.7 679.1,747.7 679.8,747.6 680.5,747.6 681.2,747.6 681.9,747.5 682.6,747.5 683.2,747.4 683.9,747.4 684.6,747.4 685.3,747.3 686.0,747.3 686.7,747.2 687.3,747.2 688.0,747.1 691.0,746.9 693.9,746.7 696.9,746.5 699.8,746.2 702.8,745.9 705.7,745.7 708.7,745.4 711.6,745.1 714.6,744.7 717.5,744.4 720.5,744.0 723.4,743.7 726.4,743.3 729.3,742.9 732.3,742.5 735.2,742.0 738.2,741.6 741.1,741.1 744.1,740.7 747.0,740.2 749.9,739.7 752.9,739.2 755.8,738.6 758.8,738.1 761.7,737.5 764.7,737.0 767.6,736.4 770.6,735.8 773.5,735.1 776.5,734.5 779.4,733.9 782.4,733.2 785.3,732.5 788.3,731.8 791.2,731.1 794.2,730.4 797.1,729.7 800.1,728.9 803.0,728.2 806.0,727.4 808.9,726.6 811.9,725.8 814.8,724.9 817.8,724.1 820.7,723.3 823.7,722.4 826.6,721.5 829.6,720.6 832.5,719.7 835.5,718.8 838.4,717.8 841.4,716.9 844.3,715.9 847.2,714.9 850.2,713.9 853.1,712.9 856.1,711.9 859.0,710.8 862.0,709.8 864.9,708.7 867.9,707.6 870.8,706.5 873.8,705.4 876.7,704.3 879.7,703.1 882.6,701.9 885.6,700.8 888.5,699.6 891.5,698.4 894.4,697.2 897.4,695.9 900.3,694.7 903.3,693.4 906.2,692.1 909.2,690.8 912.1,689.5 915.1,688.2 918.0,686.9 921.0,685.5 923.9,684.1 926.9,682.8 929.8,681.4 932.8,680.0 935.7,678.5 938.7,677.1 941.6,675.6 944.5,674.2 947.5,672.7 950.4,671.2 953.4,669.7 956.3,668.1 959.3,666.6 962.2,665.0 965.2,663.5 968.1,661.9 971.1,660.3 974.0,658.7 977.0,657.0 979.9,655.4 982.9,653.7 985.8,652.1 988.8,650.4 991.7,648.7 994.7,646.9 997.6,645.2 1000.6,643.5 1003.5,641.7 1006.5,639.9 1009.4,638.1 1012.4,636.3 1015.3,634.5 1018.3,632.7 1021.2,630.8 1024.2,629.0 1027.1,627.1 1030.1,625.2 1033.0,623.3 1036.0,621.3 1038.9,619.4" fill="none" stroke="#000" stroke-width="2.4" stroke-linejoin="round" stroke-linecap="butt"/>
<line x1="647.70" y1="610.70" x2="647.70" y2="749.10" stroke="#000" stroke-width="1.7" />
<line x1="647.10" y1="748.50" x2="1051.60" y2="748.50" stroke="#000" stroke-width="1.7" />
<line x1="647.70" y1="679.90" x2="658.40" y2="679.90" stroke="#000" stroke-width="1.6" />
<line x1="647.70" y1="611.30" x2="658.40" y2="611.30" stroke="#000" stroke-width="1.6" />
<line x1="728.36" y1="748.50" x2="728.36" y2="741.10" stroke="#000" stroke-width="1.6" />
<line x1="809.02" y1="748.50" x2="809.02" y2="741.10" stroke="#000" stroke-width="1.6" />
<line x1="889.68" y1="748.50" x2="889.68" y2="741.10" stroke="#000" stroke-width="1.6" />
<line x1="970.34" y1="748.50" x2="970.34" y2="741.10" stroke="#000" stroke-width="1.6" />
<line x1="1051.00" y1="748.50" x2="1051.00" y2="741.10" stroke="#000" stroke-width="1.6" />
<line x1="932.91" y1="679.90" x2="932.91" y2="730.50" stroke="#000" stroke-width="1.6" />
<path d="M918.6,728.8 L947.2,728.8 L932.9,749.0 Z" fill="#000"/>
<text class="l" x="618.3" y="633.2" font-size="40.6">1</text>
<text class="l" x="617.9" y="753.4" font-size="40.6">0</text>
<text class="l" x="653.7" y="715.0" font-size="28.9">SFi = 8 cpd</text>
<polyline points="647.7,918.3 648.4,918.3 649.1,918.2 649.8,918.1 650.4,918.0 651.1,917.8 651.8,917.6 652.5,917.3 653.2,917.0 653.9,916.7 654.5,916.4 655.2,916.0 655.9,915.5 656.6,915.0 657.3,914.5 658.0,914.0 658.6,913.4 659.3,912.8 660.0,912.2 660.7,911.5 661.4,910.8 662.1,910.1 662.7,909.4 663.4,908.6 664.1,907.8 664.8,907.0 665.5,906.1 666.2,905.3 666.8,904.4 667.5,903.5 668.2,902.5 668.9,901.6 669.6,900.6 670.3,899.7 670.9,898.7 671.6,897.7 672.3,896.7 673.0,895.7 673.7,894.6 674.4,893.6 675.0,892.5 675.7,891.5 676.4,890.4 677.1,889.4 677.8,888.3 678.5,887.2 679.1,886.1 679.8,885.1 680.5,884.0 681.2,882.9 681.9,881.8 682.6,880.7 683.2,879.7 683.9,878.6 684.6,877.5 685.3,876.4 686.0,875.4 686.7,874.3 687.3,873.3 688.0,872.2 691.0,867.7 693.9,863.4 696.9,859.2 699.8,855.2 702.8,851.4 705.7,847.7 708.7,844.3 711.6,841.0 714.6,837.9 717.5,834.9 720.5,832.2 723.4,829.6 726.4,827.1 729.3,824.8 732.3,822.6 735.2,820.6 738.2,818.6 741.1,816.8 744.1,815.1 747.0,813.5 749.9,812.0 752.9,810.5 755.8,809.2 758.8,807.9 761.7,806.7 764.7,805.5 767.6,804.5 770.6,803.4 773.5,802.5 776.5,801.6 779.4,800.7 782.4,799.9 785.3,799.1 788.3,798.3 791.2,797.6 794.2,797.0 797.1,796.3 800.1,795.7 803.0,795.1 806.0,794.6 808.9,794.1 811.9,793.6 814.8,793.1 817.8,792.6 820.7,792.2 823.7,791.8 826.6,791.4 829.6,791.0 832.5,790.6 835.5,790.3 838.4,789.9 841.4,789.6 844.3,789.3 847.2,789.0 850.2,788.7 853.1,788.4 856.1,788.1 859.0,787.9 862.0,787.6 864.9,787.4 867.9,787.2 870.8,787.0 873.8,786.7 876.7,786.5 879.7,786.3 882.6,786.1 885.6,786.0 888.5,785.8 891.5,785.6 894.4,785.4 897.4,785.3 900.3,785.1 903.3,785.0 906.2,784.8 909.2,784.7 912.1,784.5 915.1,784.4 918.0,784.3 921.0,784.2 923.9,784.0 926.9,783.9 929.8,783.8 932.8,783.7 935.7,783.6 938.7,783.5 941.6,783.4 944.5,783.3 947.5,783.2 950.4,783.1 953.4,783.0 956.3,782.9 959.3,782.8 962.2,782.7 965.2,782.7 968.1,782.6 971.1,782.5 974.0,782.4 977.0,782.4 979.9,782.3 982.9,782.2 985.8,782.2 988.8,782.1 991.7,782.0 994.7,782.0 997.6,781.9 1000.6,781.8 1003.5,781.8 1006.5,781.7 1009.4,781.7 1012.4,781.6 1015.3,781.6 1018.3,781.5 1021.2,781.5 1024.2,781.4 1027.1,781.4 1030.1,781.3 1033.0,781.3 1036.0,781.2 1038.9,781.2" fill="none" stroke="#000" stroke-width="2.4" stroke-linejoin="round" stroke-linecap="butt"/>
<line x1="647.70" y1="780.40" x2="647.70" y2="918.90" stroke="#000" stroke-width="1.7" />
<line x1="647.10" y1="918.30" x2="1051.60" y2="918.30" stroke="#000" stroke-width="1.7" />
<line x1="647.70" y1="849.65" x2="658.40" y2="849.65" stroke="#000" stroke-width="1.6" />
<line x1="647.70" y1="781.00" x2="658.40" y2="781.00" stroke="#000" stroke-width="1.6" />
<line x1="728.36" y1="918.30" x2="728.36" y2="910.90" stroke="#000" stroke-width="1.6" />
<line x1="809.02" y1="918.30" x2="809.02" y2="910.90" stroke="#000" stroke-width="1.6" />
<line x1="889.68" y1="918.30" x2="889.68" y2="910.90" stroke="#000" stroke-width="1.6" />
<line x1="970.34" y1="918.30" x2="970.34" y2="910.90" stroke="#000" stroke-width="1.6" />
<line x1="1051.00" y1="918.30" x2="1051.00" y2="910.90" stroke="#000" stroke-width="1.6" />
<line x1="704.16" y1="849.65" x2="704.16" y2="900.30" stroke="#000" stroke-width="1.6" />
<path d="M689.9,898.6 L718.5,898.6 L704.2,918.8 Z" fill="#000"/>
<text class="l" x="618.3" y="802.9" font-size="40.6">1</text>
<text class="l" x="617.9" y="923.2" font-size="40.6">0</text>
<text class="l" x="897.1" y="896.7" font-size="28.9">SFi = 4 cpd</text>
<polyline points="647.7,1083.3 648.4,1083.1 649.1,1082.4 649.8,1081.2 650.4,1079.7 651.1,1077.7 651.8,1075.4 652.5,1072.7 653.2,1069.8 653.9,1066.6 654.5,1063.3 655.2,1059.8 655.9,1056.2 656.6,1052.6 657.3,1048.9 658.0,1045.2 658.6,1041.5 659.3,1037.9 660.0,1034.4 660.7,1030.9 661.4,1027.6 662.1,1024.3 662.7,1021.2 663.4,1018.1 664.1,1015.2 664.8,1012.4 665.5,1009.7 666.2,1007.1 666.8,1004.7 667.5,1002.3 668.2,1000.1 668.9,997.9 669.6,995.9 670.3,993.9 670.9,992.1 671.6,990.3 672.3,988.6 673.0,987.0 673.7,985.5 674.4,984.1 675.0,982.7 675.7,981.4 676.4,980.1 677.1,978.9 677.8,977.8 678.5,976.7 679.1,975.6 679.8,974.6 680.5,973.7 681.2,972.8 681.9,971.9 682.6,971.1 683.2,970.3 683.9,969.5 684.6,968.8 685.3,968.1 686.0,967.5 686.7,966.8 687.3,966.2 688.0,965.6 691.0,963.3 693.9,961.4 696.9,959.8 699.8,958.4 702.8,957.2 705.7,956.1 708.7,955.2 711.6,954.4 714.6,953.7 717.5,953.1 720.5,952.5 723.4,952.0 726.4,951.6 729.3,951.2 732.3,950.9 735.2,950.5 738.2,950.2 741.1,950.0 744.1,949.7 747.0,949.5 749.9,949.3 752.9,949.1 755.8,948.9 758.8,948.8 761.7,948.6 764.7,948.5 767.6,948.3 770.6,948.2 773.5,948.1 776.5,948.0 779.4,947.9 782.4,947.8 785.3,947.7 788.3,947.7 791.2,947.6 794.2,947.5 797.1,947.4 800.1,947.4 803.0,947.3 806.0,947.3 808.9,947.2 811.9,947.2 814.8,947.1 817.8,947.1 820.7,947.0 823.7,947.0 826.6,946.9 829.6,946.9 832.5,946.9 835.5,946.8 838.4,946.8 841.4,946.8 844.3,946.7 847.2,946.7 850.2,946.7 853.1,946.7 856.1,946.6 859.0,946.6 862.0,946.6 864.9,946.6 867.9,946.5 870.8,946.5 873.8,946.5 876.7,946.5 879.7,946.5 882.6,946.4 885.6,946.4 888.5,946.4 891.5,946.4 894.4,946.4 897.4,946.4 900.3,946.4 903.3,946.3 906.2,946.3 909.2,946.3 912.1,946.3 915.1,946.3 918.0,946.3 921.0,946.3 923.9,946.3 926.9,946.3 929.8,946.2 932.8,946.2 935.7,946.2 938.7,946.2 941.6,946.2 944.5,946.2 947.5,946.2 950.4,946.2 953.4,946.2 956.3,946.2 959.3,946.2 962.2,946.1 965.2,946.1 968.1,946.1 971.1,946.1 974.0,946.1 977.0,946.1 979.9,946.1 982.9,946.1 985.8,946.1 988.8,946.1 991.7,946.1 994.7,946.1 997.6,946.1 1000.6,946.1 1003.5,946.1 1006.5,946.1 1009.4,946.1 1012.4,946.1 1015.3,946.0 1018.3,946.0 1021.2,946.0 1024.2,946.0 1027.1,946.0 1030.1,946.0 1033.0,946.0 1036.0,946.0 1038.9,946.0" fill="none" stroke="#000" stroke-width="2.4" stroke-linejoin="round" stroke-linecap="butt"/>
<line x1="647.70" y1="945.40" x2="647.70" y2="1083.90" stroke="#000" stroke-width="1.7" />
<line x1="647.10" y1="1083.30" x2="1051.60" y2="1083.30" stroke="#000" stroke-width="1.7" />
<line x1="647.70" y1="1014.65" x2="658.40" y2="1014.65" stroke="#000" stroke-width="1.6" />
<line x1="647.70" y1="946.00" x2="658.40" y2="946.00" stroke="#000" stroke-width="1.6" />
<line x1="728.36" y1="1083.30" x2="728.36" y2="1075.90" stroke="#000" stroke-width="1.6" />
<line x1="809.02" y1="1083.30" x2="809.02" y2="1075.90" stroke="#000" stroke-width="1.6" />
<line x1="889.68" y1="1083.30" x2="889.68" y2="1075.90" stroke="#000" stroke-width="1.6" />
<line x1="970.34" y1="1083.30" x2="970.34" y2="1075.90" stroke="#000" stroke-width="1.6" />
<line x1="1051.00" y1="1083.30" x2="1051.00" y2="1075.90" stroke="#000" stroke-width="1.6" />
<line x1="664.24" y1="1014.65" x2="664.24" y2="1065.30" stroke="#000" stroke-width="1.6" />
<path d="M649.9,1063.6 L678.5,1063.6 L664.2,1083.8 Z" fill="#000"/>
<text class="l" x="618.3" y="967.9" font-size="40.6">1</text>
<text class="l" x="617.9" y="1088.2" font-size="40.6">0</text>
<text class="l" x="897.1" y="1059.0" font-size="28.9">SFi = 2 cpd</text>
<polyline points="647.7,1248.3 648.4,1248.2 649.1,1247.9 649.8,1247.3 650.4,1246.6 651.1,1245.6 651.8,1244.5 652.5,1243.1 653.2,1241.6 653.9,1240.0 654.5,1238.2 655.2,1236.2 655.9,1234.2 656.6,1232.0 657.3,1229.7 658.0,1227.4 658.6,1225.0 659.3,1222.6 660.0,1220.1 660.7,1217.6 661.4,1215.1 662.1,1212.5 662.7,1210.0 663.4,1207.5 664.1,1205.0 664.8,1202.6 665.5,1200.1 666.2,1197.7 666.8,1195.4 667.5,1193.1 668.2,1190.8 668.9,1188.6 669.6,1186.4 670.3,1184.3 670.9,1182.3 671.6,1180.3 672.3,1178.3 673.0,1176.4 673.7,1174.6 674.4,1172.8 675.0,1171.1 675.7,1169.4 676.4,1167.8 677.1,1166.2 677.8,1164.7 678.5,1163.2 679.1,1161.8 679.8,1160.4 680.5,1159.1 681.2,1157.8 681.9,1156.5 682.6,1155.3 683.2,1154.2 683.9,1153.0 684.6,1151.9 685.3,1150.9 686.0,1149.8 686.7,1148.8 687.3,1147.9 688.0,1147.0 691.0,1143.3 693.9,1140.1 696.9,1137.3 699.8,1134.8 702.8,1132.7 705.7,1130.8 708.7,1129.1 711.6,1127.6 714.6,1126.3 717.5,1125.1 720.5,1124.0 723.4,1123.1 726.4,1122.2 729.3,1121.4 732.3,1120.7 735.2,1120.1 738.2,1119.5 741.1,1118.9 744.1,1118.5 747.0,1118.0 749.9,1117.6 752.9,1117.2 755.8,1116.8 758.8,1116.5 761.7,1116.2 764.7,1115.9 767.6,1115.6 770.6,1115.4 773.5,1115.2 776.5,1114.9 779.4,1114.7 782.4,1114.5 785.3,1114.4 788.3,1114.2 791.2,1114.0 794.2,1113.9 797.1,1113.8 800.1,1113.6 803.0,1113.5 806.0,1113.4 808.9,1113.3 811.9,1113.2 814.8,1113.1 817.8,1113.0 820.7,1112.9 823.7,1112.8 826.6,1112.7 829.6,1112.6 832.5,1112.5 835.5,1112.5 838.4,1112.4 841.4,1112.3 844.3,1112.3 847.2,1112.2 850.2,1112.2 853.1,1112.1 856.1,1112.1 859.0,1112.0 862.0,1112.0 864.9,1111.9 867.9,1111.9 870.8,1111.8 873.8,1111.8 876.7,1111.7 879.7,1111.7 882.6,1111.7 885.6,1111.6 888.5,1111.6 891.5,1111.6 894.4,1111.5 897.4,1111.5 900.3,1111.5 903.3,1111.4 906.2,1111.4 909.2,1111.4 912.1,1111.4 915.1,1111.3 918.0,1111.3 921.0,1111.3 923.9,1111.3 926.9,1111.2 929.8,1111.2 932.8,1111.2 935.7,1111.2 938.7,1111.2 941.6,1111.1 944.5,1111.1 947.5,1111.1 950.4,1111.1 953.4,1111.1 956.3,1111.1 959.3,1111.0 962.2,1111.0 965.2,1111.0 968.1,1111.0 971.1,1111.0 974.0,1111.0 977.0,1110.9 979.9,1110.9 982.9,1110.9 985.8,1110.9 988.8,1110.9 991.7,1110.9 994.7,1110.9 997.6,1110.9 1000.6,1110.9 1003.5,1110.8 1006.5,1110.8 1009.4,1110.8 1012.4,1110.8 1015.3,1110.8 1018.3,1110.8 1021.2,1110.8 1024.2,1110.8 1027.1,1110.8 1030.1,1110.8 1033.0,1110.7 1036.0,1110.7 1038.9,1110.7" fill="none" stroke="#000" stroke-width="2.4" stroke-linejoin="round" stroke-linecap="butt"/>
<line x1="647.70" y1="1110.10" x2="647.70" y2="1248.90" stroke="#000" stroke-width="1.7" />
<line x1="647.10" y1="1248.30" x2="1051.60" y2="1248.30" stroke="#000" stroke-width="1.7" />
<line x1="647.70" y1="1179.50" x2="658.40" y2="1179.50" stroke="#000" stroke-width="1.6" />
<line x1="647.70" y1="1110.70" x2="658.40" y2="1110.70" stroke="#000" stroke-width="1.6" />
<line x1="728.36" y1="1248.30" x2="728.36" y2="1240.90" stroke="#000" stroke-width="1.6" />
<line x1="809.02" y1="1248.30" x2="809.02" y2="1240.90" stroke="#000" stroke-width="1.6" />
<line x1="889.68" y1="1248.30" x2="889.68" y2="1240.90" stroke="#000" stroke-width="1.6" />
<line x1="970.34" y1="1248.30" x2="970.34" y2="1240.90" stroke="#000" stroke-width="1.6" />
<line x1="1051.00" y1="1248.30" x2="1051.00" y2="1240.90" stroke="#000" stroke-width="1.6" />
<line x1="671.90" y1="1179.50" x2="671.90" y2="1230.30" stroke="#000" stroke-width="1.6" />
<path d="M657.6,1228.6 L686.2,1228.6 L671.9,1248.8 Z" fill="#000"/>
<text class="l" x="618.3" y="1132.6" font-size="40.6">1</text>
<text class="l" x="617.9" y="1253.2" font-size="40.6">0</text>
<text class="l" x="897.1" y="1219.0" font-size="28.9">SFi = 1 cpd</text>
<polyline points="647.7,1413.3 648.4,1413.3 649.1,1413.3 649.8,1413.2 650.4,1413.2 651.1,1413.1 651.8,1413.0 652.5,1412.9 653.2,1412.7 653.9,1412.6 654.5,1412.4 655.2,1412.2 655.9,1412.0 656.6,1411.8 657.3,1411.5 658.0,1411.3 658.6,1411.0 659.3,1410.7 660.0,1410.4 660.7,1410.1 661.4,1409.7 662.1,1409.4 662.7,1409.0 663.4,1408.6 664.1,1408.2 664.8,1407.8 665.5,1407.4 666.2,1406.9 666.8,1406.5 667.5,1406.0 668.2,1405.5 668.9,1405.0 669.6,1404.5 670.3,1404.0 670.9,1403.5 671.6,1402.9 672.3,1402.4 673.0,1401.8 673.7,1401.2 674.4,1400.6 675.0,1400.0 675.7,1399.4 676.4,1398.8 677.1,1398.2 677.8,1397.6 678.5,1396.9 679.1,1396.3 679.8,1395.6 680.5,1395.0 681.2,1394.3 681.9,1393.6 682.6,1392.9 683.2,1392.2 683.9,1391.6 684.6,1390.9 685.3,1390.1 686.0,1389.4 686.7,1388.7 687.3,1388.0 688.0,1387.3 691.0,1384.1 693.9,1381.0 696.9,1377.8 699.8,1374.5 702.8,1371.4 705.7,1368.2 708.7,1365.1 711.6,1362.0 714.6,1359.0 717.5,1356.0 720.5,1353.2 723.4,1350.4 726.4,1347.6 729.3,1345.0 732.3,1342.5 735.2,1340.0 738.2,1337.6 741.1,1335.3 744.1,1333.1 747.0,1331.0 749.9,1328.9 752.9,1327.0 755.8,1325.1 758.8,1323.2 761.7,1321.5 764.7,1319.8 767.6,1318.2 770.6,1316.6 773.5,1315.1 776.5,1313.7 779.4,1312.3 782.4,1311.0 785.3,1309.7 788.3,1308.5 791.2,1307.4 794.2,1306.2 797.1,1305.2 800.1,1304.1 803.0,1303.1 806.0,1302.2 808.9,1301.2 811.9,1300.3 814.8,1299.5 817.8,1298.7 820.7,1297.9 823.7,1297.1 826.6,1296.4 829.6,1295.7 832.5,1295.0 835.5,1294.3 838.4,1293.7 841.4,1293.1 844.3,1292.5 847.2,1291.9 850.2,1291.4 853.1,1290.8 856.1,1290.3 859.0,1289.8 862.0,1289.4 864.9,1288.9 867.9,1288.4 870.8,1288.0 873.8,1287.6 876.7,1287.2 879.7,1286.8 882.6,1286.4 885.6,1286.0 888.5,1285.7 891.5,1285.3 894.4,1285.0 897.4,1284.7 900.3,1284.4 903.3,1284.0 906.2,1283.7 909.2,1283.5 912.1,1283.2 915.1,1282.9 918.0,1282.6 921.0,1282.4 923.9,1282.1 926.9,1281.9 929.8,1281.7 932.8,1281.4 935.7,1281.2 938.7,1281.0 941.6,1280.8 944.5,1280.6 947.5,1280.4 950.4,1280.2 953.4,1280.0 956.3,1279.8 959.3,1279.6 962.2,1279.4 965.2,1279.3 968.1,1279.1 971.1,1278.9 974.0,1278.8 977.0,1278.6 979.9,1278.5 982.9,1278.3 985.8,1278.2 988.8,1278.0 991.7,1277.9 994.7,1277.8 997.6,1277.6 1000.6,1277.5 1003.5,1277.4 1006.5,1277.3 1009.4,1277.1 1012.4,1277.0 1015.3,1276.9 1018.3,1276.8 1021.2,1276.7 1024.2,1276.6 1027.1,1276.5 1030.1,1276.4 1033.0,1276.3 1036.0,1276.2 1038.9,1276.1" fill="none" stroke="#000" stroke-width="2.4" stroke-linejoin="round" stroke-linecap="butt"/>
<line x1="647.70" y1="1275.10" x2="647.70" y2="1413.90" stroke="#000" stroke-width="1.7" />
<line x1="647.10" y1="1413.30" x2="1051.60" y2="1413.30" stroke="#000" stroke-width="1.7" />
<line x1="647.70" y1="1344.50" x2="658.40" y2="1344.50" stroke="#000" stroke-width="1.6" />
<line x1="647.70" y1="1275.70" x2="658.40" y2="1275.70" stroke="#000" stroke-width="1.6" />
<line x1="728.36" y1="1413.30" x2="728.36" y2="1405.90" stroke="#000" stroke-width="1.6" />
<line x1="809.02" y1="1413.30" x2="809.02" y2="1405.90" stroke="#000" stroke-width="1.6" />
<line x1="889.68" y1="1413.30" x2="889.68" y2="1405.90" stroke="#000" stroke-width="1.6" />
<line x1="970.34" y1="1413.30" x2="970.34" y2="1405.90" stroke="#000" stroke-width="1.6" />
<line x1="1051.00" y1="1413.30" x2="1051.00" y2="1405.90" stroke="#000" stroke-width="1.6" />
<line x1="729.89" y1="1344.50" x2="729.89" y2="1395.30" stroke="#000" stroke-width="1.6" />
<path d="M715.6,1393.6 L744.2,1393.6 L729.9,1413.8 Z" fill="#000"/>
<text class="l" x="618.3" y="1297.6" font-size="40.6">1</text>
<text class="l" x="617.9" y="1418.2" font-size="40.6">0</text>
<text class="l" x="897.1" y="1376.7" font-size="28.9">SFi = 0.5 cpd</text>
<text class="l" x="700.3" y="1451.7" font-size="40.6">0.2</text>
<text class="l" x="780.6" y="1451.7" font-size="40.6">0.4</text>
<text class="l" x="861.5" y="1451.7" font-size="40.6">0.6</text>
<text class="l" x="942.1" y="1451.7" font-size="40.6">0.8</text>
<text class="l" x="642.1" y="1451.7" font-size="40.6">0</text>
<text class="l" x="1037.8" y="1451.7" font-size="40.6">1</text>
<text class="l" x="775.9" y="1505.1" font-size="40.6">Contrast</text>
<text class="l" x="713.7" y="586.7" font-size="40.6">Contrast tuning</text>
<text class="l" x="598.0" y="1211.6" font-size="40.6" transform="rotate(-90 598.00 1211.65)">Normalized response</text>
<text class="d" x="572.1" y="595.0" font-size="74.5">e</text>
<polyline points="1223.2,140.8 1224.6,140.8 1225.9,140.9 1227.3,141.1 1228.6,141.3 1230.0,141.6 1231.3,141.9 1232.7,142.3 1234.0,142.8 1235.4,143.3 1236.7,143.9 1238.1,144.5 1239.4,145.2 1240.8,146.0 1242.1,146.8 1243.5,147.7 1244.8,148.6 1246.2,149.6 1247.5,150.6 1248.9,151.8 1250.2,152.9 1251.6,154.1 1252.9,155.4 1254.3,156.7 1255.6,158.1 1257.0,159.6 1258.3,161.0 1259.7,162.6 1261.0,164.2 1262.4,165.8 1263.7,167.5 1265.1,169.2 1266.4,171.0 1267.8,172.9 1269.1,174.7 1270.5,176.7 1271.8,178.6 1273.2,180.6 1274.5,182.7 1275.9,184.8 1277.2,186.9 1278.6,189.1 1279.9,191.3 1281.3,193.6 1282.6,195.8 1284.0,198.2 1285.3,200.5 1286.7,202.9 1288.0,205.3 1289.4,207.8 1290.7,210.3 1292.1,212.8 1293.4,215.3 1294.8,217.9 1296.1,220.5 1297.5,223.1 1298.8,225.7 1300.2,228.4 1301.5,231.0 1302.9,233.7 1304.2,236.5 1305.6,239.2 1306.9,242.0 1308.3,244.7 1309.6,247.5 1311.0,250.3 1312.3,253.1 1313.7,255.9 1315.0,258.8 1316.4,261.6 1317.7,264.5 1319.1,267.3 1320.4,270.2 1321.8,273.1 1323.1,275.9 1324.5,278.8 1325.8,281.7 1327.2,284.6 1328.5,287.4 1329.9,290.3 1331.2,293.2 1332.6,296.1 1333.9,298.9 1335.3,301.8 1336.6,304.6 1338.0,307.5 1339.3,310.3 1340.7,313.2 1342.0,316.0 1343.4,318.8 1344.7,321.6 1346.1,324.4 1347.4,327.2 1348.8,330.0 1350.1,332.7 1351.5,335.5 1352.8,338.2 1354.2,340.9 1355.5,343.6 1356.9,346.3 1358.2,348.9 1359.6,351.6 1360.9,354.2 1362.3,356.8 1363.6,359.4 1365.0,362.0 1366.3,364.5 1367.7,367.0 1369.0,369.5 1370.4,372.0 1371.7,374.5 1373.1,376.9 1374.4,379.3 1375.8,381.7 1377.1,384.0 1378.5,386.4 1379.8,388.7 1381.2,391.0 1382.5,393.2 1383.9,395.5 1385.2,397.7 1386.6,399.9 1387.9,402.0 1389.3,404.1 1390.6,406.2 1392.0,408.3 1393.3,410.4 1394.7,412.4 1396.0,414.4 1397.4,416.3 1398.7,418.3 1400.1,420.2 1401.4,422.1 1402.8,423.9 1404.1,425.8 1405.5,427.6 1406.8,429.3 1408.2,431.1 1409.5,432.8 1410.9,434.5 1412.2,436.2 1413.6,437.8 1414.9,439.4 1416.3,441.0 1417.6,442.6 1419.0,444.1 1420.3,445.6 1421.7,447.1 1423.0,448.5 1424.4,449.9 1425.7,451.3 1427.1,452.7 1428.4,454.1 1429.8,455.4 1431.1,456.7 1432.5,458.0 1433.8,459.2 1435.2,460.4 1436.5,461.6 1437.9,462.8 1439.2,463.9 1440.6,465.1 1441.9,466.2 1443.3,467.3 1444.6,468.3 1446.0,469.3 1447.3,470.4 1448.7,471.3 1450.0,472.3 1451.4,473.3 1452.7,474.2 1454.1,475.1 1455.4,476.0 1456.8,476.8 1458.1,477.7 1459.5,478.5 1460.8,479.3 1462.2,480.1 1463.5,480.9 1464.9,481.6 1466.2,482.3 1467.6,483.1 1468.9,483.8 1470.3,484.4 1471.6,485.1 1473.0,485.7 1474.3,486.4 1475.7,487.0 1477.0,487.6 1478.4,488.1 1479.7,488.7 1481.1,489.3 1482.4,489.8 1483.8,490.3 1485.1,490.8 1486.5,491.3 1487.8,491.8 1489.2,492.3 1490.5,492.7 1491.9,493.2 1493.2,493.6 1494.6,494.0 1495.9,494.4 1497.3,494.8 1498.6,495.2 1500.0,495.6 1501.3,495.9 1502.7,496.3 1504.0,496.6 1505.4,496.9 1506.7,497.2 1508.1,497.6 1509.4,497.9 1510.8,498.1 1512.1,498.4 1513.5,498.7 1514.8,499.0 1516.2,499.2 1517.5,499.5 1518.9,499.7 1520.2,499.9 1521.6,500.2 1522.9,500.4 1524.3,500.6 1525.6,500.8 1527.0,501.0 1528.3,501.2 1529.7,501.4 1531.0,501.5 1532.4,501.7 1533.7,501.9 1535.1,502.0 1536.4,502.2 1537.8,502.4 1539.1,502.5 1540.5,502.6 1541.8,502.8 1543.2,502.9 1544.5,503.0 1545.9,503.1 1547.2,503.3 1548.6,503.4 1549.9,503.5 1551.3,503.6 1552.6,503.7 1554.0,503.8 1555.3,503.9 1556.7,504.0 1558.0,504.1 1559.4,504.1 1560.7,504.2 1562.1,504.3 1563.4,504.4 1564.8,504.4 1566.1,504.5 1567.5,504.6 1568.8,504.6 1570.2,504.7 1571.5,504.8 1572.9,504.8 1574.2,504.9 1575.6,504.9 1576.9,505.0 1578.3,505.0 1579.6,505.1 1581.0,505.1 1582.3,505.2 1583.7,505.2 1585.0,505.2 1586.4,505.3 1587.7,505.3 1589.1,505.4 1590.4,505.4 1591.8,505.4 1593.1,505.5 1594.5,505.5 1595.8,505.5 1597.2,505.5 1598.5,505.6 1599.9,505.6 1601.2,505.6 1602.6,505.6 1603.9,505.7 1605.3,505.7 1606.6,505.7 1608.0,505.7 1609.3,505.7 1610.7,505.7 1612.0,505.8 1613.4,505.8 1614.8,505.8 1616.1,505.8 1617.5,505.8 1618.8,505.8 1620.2,505.9 1621.5,505.9 1622.9,505.9 1624.2,505.9 1625.6,505.9 1626.9,505.9" fill="none" stroke="#000" stroke-width="3.1" stroke-linejoin="round" stroke-linecap="butt"/>
<polyline points="1223.2,211.1 1224.6,208.5 1225.9,206.1 1227.3,203.6 1228.6,201.2 1230.0,198.8 1231.3,196.4 1232.7,194.1 1234.0,191.8 1235.4,189.6 1236.7,187.4 1238.1,185.2 1239.4,183.1 1240.8,181.0 1242.1,179.0 1243.5,177.0 1244.8,175.1 1246.2,173.1 1247.5,171.3 1248.9,169.5 1250.2,167.7 1251.6,166.0 1252.9,164.3 1254.3,162.7 1255.6,161.2 1257.0,159.7 1258.3,158.2 1259.7,156.8 1261.0,155.5 1262.4,154.2 1263.7,153.0 1265.1,151.8 1266.4,150.7 1267.8,149.6 1269.1,148.6 1270.5,147.6 1271.8,146.8 1273.2,145.9 1274.5,145.2 1275.9,144.5 1277.2,143.8 1278.6,143.2 1279.9,142.7 1281.3,142.3 1282.6,141.9 1284.0,141.5 1285.3,141.3 1286.7,141.1 1288.0,140.9 1289.4,140.8 1290.7,140.8 1292.1,140.8 1293.4,141.0 1294.8,141.1 1296.1,141.4 1297.5,141.7 1298.8,142.0 1300.2,142.5 1301.5,143.0 1302.9,143.5 1304.2,144.2 1305.6,144.9 1306.9,145.6 1308.3,146.4 1309.6,147.3 1311.0,148.2 1312.3,149.2 1313.7,150.3 1315.0,151.4 1316.4,152.6 1317.7,153.9 1319.1,155.2 1320.4,156.5 1321.8,157.9 1323.1,159.4 1324.5,160.9 1325.8,162.5 1327.2,164.1 1328.5,165.8 1329.9,167.6 1331.2,169.4 1332.6,171.2 1333.9,173.1 1335.3,175.0 1336.6,177.0 1338.0,179.1 1339.3,181.2 1340.7,183.3 1342.0,185.4 1343.4,187.7 1344.7,189.9 1346.1,192.2 1347.4,194.5 1348.8,196.9 1350.1,199.3 1351.5,201.8 1352.8,204.2 1354.2,206.7 1355.5,209.3 1356.9,211.9 1358.2,214.5 1359.6,217.1 1360.9,219.8 1362.3,222.4 1363.6,225.2 1365.0,227.9 1366.3,230.6 1367.7,233.4 1369.0,236.2 1370.4,239.0 1371.7,241.9 1373.1,244.7 1374.4,247.6 1375.8,250.5 1377.1,253.4 1378.5,256.3 1379.8,259.2 1381.2,262.1 1382.5,265.1 1383.9,268.0 1385.2,271.0 1386.6,273.9 1387.9,276.9 1389.3,279.8 1390.6,282.8 1392.0,285.8 1393.3,288.7 1394.7,291.7 1396.0,294.7 1397.4,297.6 1398.7,300.6 1400.1,303.5 1401.4,306.4 1402.8,309.4 1404.1,312.3 1405.5,315.2 1406.8,318.1 1408.2,321.0 1409.5,323.9 1410.9,326.8 1412.2,329.6 1413.6,332.5 1414.9,335.3 1416.3,338.1 1417.6,340.9 1419.0,343.7 1420.3,346.4 1421.7,349.2 1423.0,351.9 1424.4,354.6 1425.7,357.3 1427.1,359.9 1428.4,362.6 1429.8,365.2 1431.1,367.8 1432.5,370.3 1433.8,372.9 1435.2,375.4 1436.5,377.9 1437.9,380.3 1439.2,382.8 1440.6,385.2 1441.9,387.6 1443.3,390.0 1444.6,392.3 1446.0,394.6 1447.3,396.9 1448.7,399.2 1450.0,401.4 1451.4,403.6 1452.7,405.8 1454.1,407.9 1455.4,410.0 1456.8,412.1 1458.1,414.2 1459.5,416.2 1460.8,418.2 1462.2,420.2 1463.5,422.1 1464.9,424.0 1466.2,425.9 1467.6,427.8 1468.9,429.6 1470.3,431.4 1471.6,433.1 1473.0,434.9 1474.3,436.6 1475.7,438.3 1477.0,439.9 1478.4,441.5 1479.7,443.1 1481.1,444.7 1482.4,446.2 1483.8,447.7 1485.1,449.2 1486.5,450.7 1487.8,452.1 1489.2,453.5 1490.5,454.9 1491.9,456.2 1493.2,457.5 1494.6,458.8 1495.9,460.1 1497.3,461.3 1498.6,462.6 1500.0,463.7 1501.3,464.9 1502.7,466.0 1504.0,467.2 1505.4,468.2 1506.7,469.3 1508.1,470.4 1509.4,471.4 1510.8,472.4 1512.1,473.3 1513.5,474.3 1514.8,475.2 1516.2,476.1 1517.5,477.0 1518.9,477.9 1520.2,478.7 1521.6,479.6 1522.9,480.4 1524.3,481.1 1525.6,481.9 1527.0,482.6 1528.3,483.4 1529.7,484.1 1531.0,484.8 1532.4,485.4 1533.7,486.1 1535.1,486.7 1536.4,487.3 1537.8,488.0 1539.1,488.5 1540.5,489.1 1541.8,489.7 1543.2,490.2 1544.5,490.7 1545.9,491.2 1547.2,491.7 1548.6,492.2 1549.9,492.7 1551.3,493.1 1552.6,493.6 1554.0,494.0 1555.3,494.4 1556.7,494.8 1558.0,495.2 1559.4,495.6 1560.7,496.0 1562.1,496.3 1563.4,496.7 1564.8,497.0 1566.1,497.3 1567.5,497.7 1568.8,498.0 1570.2,498.3 1571.5,498.5 1572.9,498.8 1574.2,499.1 1575.6,499.3 1576.9,499.6 1578.3,499.8 1579.6,500.1 1581.0,500.3 1582.3,500.5 1583.7,500.7 1585.0,500.9 1586.4,501.1 1587.7,501.3 1589.1,501.5 1590.4,501.7 1591.8,501.9 1593.1,502.0 1594.5,502.2 1595.8,502.3 1597.2,502.5 1598.5,502.6 1599.9,502.8 1601.2,502.9 1602.6,503.0 1603.9,503.2 1605.3,503.3 1606.6,503.4 1608.0,503.5 1609.3,503.6 1610.7,503.7 1612.0,503.8 1613.4,503.9 1614.8,504.0 1616.1,504.1 1617.5,504.2 1618.8,504.3 1620.2,504.3 1621.5,504.4 1622.9,504.5 1624.2,504.6 1625.6,504.6 1626.9,504.7" fill="none" stroke="#000" stroke-width="3.1" stroke-linejoin="round" stroke-linecap="butt"/>
<polyline points="1223.2,366.9 1224.6,364.2 1225.9,361.4 1227.3,358.7 1228.6,355.9 1230.0,353.1 1231.3,350.3 1232.7,347.4 1234.0,344.5 1235.4,341.7 1236.7,338.8 1238.1,335.8 1239.4,332.9 1240.8,329.9 1242.1,327.0 1243.5,324.0 1244.8,321.0 1246.2,318.0 1247.5,314.9 1248.9,311.9 1250.2,308.9 1251.6,305.8 1252.9,302.7 1254.3,299.7 1255.6,296.6 1257.0,293.5 1258.3,290.4 1259.7,287.3 1261.0,284.2 1262.4,281.2 1263.7,278.1 1265.1,275.0 1266.4,271.9 1267.8,268.8 1269.1,265.8 1270.5,262.7 1271.8,259.7 1273.2,256.6 1274.5,253.6 1275.9,250.6 1277.2,247.6 1278.6,244.6 1279.9,241.6 1281.3,238.7 1282.6,235.7 1284.0,232.8 1285.3,229.9 1286.7,227.0 1288.0,224.2 1289.4,221.4 1290.7,218.6 1292.1,215.8 1293.4,213.1 1294.8,210.4 1296.1,207.8 1297.5,205.1 1298.8,202.5 1300.2,200.0 1301.5,197.5 1302.9,195.0 1304.2,192.6 1305.6,190.2 1306.9,187.8 1308.3,185.5 1309.6,183.2 1311.0,181.0 1312.3,178.9 1313.7,176.8 1315.0,174.7 1316.4,172.7 1317.7,170.7 1319.1,168.8 1320.4,167.0 1321.8,165.2 1323.1,163.4 1324.5,161.8 1325.8,160.1 1327.2,158.6 1328.5,157.1 1329.9,155.6 1331.2,154.3 1332.6,153.0 1333.9,151.7 1335.3,150.5 1336.6,149.4 1338.0,148.4 1339.3,147.4 1340.7,146.4 1342.0,145.6 1343.4,144.8 1344.7,144.1 1346.1,143.5 1347.4,142.9 1348.8,142.4 1350.1,141.9 1351.5,141.6 1352.8,141.3 1354.2,141.1 1355.5,140.9 1356.9,140.8 1358.2,140.8 1359.6,140.9 1360.9,141.0 1362.3,141.2 1363.6,141.5 1365.0,141.9 1366.3,142.3 1367.7,142.8 1369.0,143.4 1370.4,144.0 1371.7,144.7 1373.1,145.5 1374.4,146.4 1375.8,147.3 1377.1,148.3 1378.5,149.4 1379.8,150.5 1381.2,151.7 1382.5,153.0 1383.9,154.4 1385.2,155.8 1386.6,157.3 1387.9,158.8 1389.3,160.4 1390.6,162.1 1392.0,163.8 1393.3,165.6 1394.7,167.4 1396.0,169.3 1397.4,171.3 1398.7,173.3 1400.1,175.4 1401.4,177.5 1402.8,179.7 1404.1,181.9 1405.5,184.2 1406.8,186.5 1408.2,188.9 1409.5,191.3 1410.9,193.8 1412.2,196.3 1413.6,198.8 1414.9,201.4 1416.3,204.1 1417.6,206.7 1419.0,209.4 1420.3,212.2 1421.7,215.0 1423.0,217.8 1424.4,220.6 1425.7,223.5 1427.1,226.4 1428.4,229.3 1429.8,232.2 1431.1,235.2 1432.5,238.2 1433.8,241.2 1435.2,244.2 1436.5,247.3 1437.9,250.4 1439.2,253.4 1440.6,256.5 1441.9,259.6 1443.3,262.7 1444.6,265.9 1446.0,269.0 1447.3,272.1 1448.7,275.3 1450.0,278.4 1451.4,281.6 1452.7,284.7 1454.1,287.9 1455.4,291.1 1456.8,294.2 1458.1,297.3 1459.5,300.5 1460.8,303.6 1462.2,306.7 1463.5,309.9 1464.9,313.0 1466.2,316.1 1467.6,319.2 1468.9,322.2 1470.3,325.3 1471.6,328.3 1473.0,331.4 1474.3,334.4 1475.7,337.4 1477.0,340.3 1478.4,343.3 1479.7,346.2 1481.1,349.2 1482.4,352.0 1483.8,354.9 1485.1,357.8 1486.5,360.6 1487.8,363.4 1489.2,366.2 1490.5,368.9 1491.9,371.6 1493.2,374.3 1494.6,377.0 1495.9,379.6 1497.3,382.2 1498.6,384.8 1500.0,387.3 1501.3,389.9 1502.7,392.3 1504.0,394.8 1505.4,397.2 1506.7,399.6 1508.1,402.0 1509.4,404.3 1510.8,406.6 1512.1,408.9 1513.5,411.1 1514.8,413.3 1516.2,415.5 1517.5,417.6 1518.9,419.7 1520.2,421.8 1521.6,423.8 1522.9,425.9 1524.3,427.8 1525.6,429.8 1527.0,431.7 1528.3,433.5 1529.7,435.4 1531.0,437.2 1532.4,439.0 1533.7,440.7 1535.1,442.4 1536.4,444.1 1537.8,445.7 1539.1,447.4 1540.5,448.9 1541.8,450.5 1543.2,452.0 1544.5,453.5 1545.9,455.0 1547.2,456.4 1548.6,457.8 1549.9,459.2 1551.3,460.5 1552.6,461.8 1554.0,463.1 1555.3,464.3 1556.7,465.6 1558.0,466.8 1559.4,467.9 1560.7,469.1 1562.1,470.2 1563.4,471.3 1564.8,472.3 1566.1,473.4 1567.5,474.4 1568.8,475.4 1570.2,476.3 1571.5,477.3 1572.9,478.2 1574.2,479.1 1575.6,479.9 1576.9,480.8 1578.3,481.6 1579.6,482.4 1581.0,483.2 1582.3,483.9 1583.7,484.7 1585.0,485.4 1586.4,486.1 1587.7,486.8 1589.1,487.4 1590.4,488.1 1591.8,488.7 1593.1,489.3 1594.5,489.9 1595.8,490.4 1597.2,491.0 1598.5,491.5 1599.9,492.0 1601.2,492.5 1602.6,493.0 1603.9,493.5 1605.3,494.0 1606.6,494.4 1608.0,494.8 1609.3,495.2 1610.7,495.6 1612.0,496.0 1613.4,496.4 1614.8,496.8 1616.1,497.1 1617.5,497.5 1618.8,497.8 1620.2,498.1 1621.5,498.4 1622.9,498.7 1624.2,499.0 1625.6,499.3 1626.9,499.6" fill="none" stroke="#000" stroke-width="3.1" stroke-linejoin="round" stroke-linecap="butt"/>
<polyline points="1223.2,477.4 1224.6,476.4 1225.9,475.4 1227.3,474.4 1228.6,473.3 1230.0,472.2 1231.3,471.0 1232.7,469.9 1234.0,468.7 1235.4,467.5 1236.7,466.2 1238.1,464.9 1239.4,463.6 1240.8,462.3 1242.1,460.9 1243.5,459.5 1244.8,458.1 1246.2,456.6 1247.5,455.1 1248.9,453.5 1250.2,451.9 1251.6,450.3 1252.9,448.7 1254.3,447.0 1255.6,445.3 1257.0,443.5 1258.3,441.7 1259.7,439.9 1261.0,438.0 1262.4,436.1 1263.7,434.2 1265.1,432.2 1266.4,430.2 1267.8,428.2 1269.1,426.1 1270.5,424.0 1271.8,421.8 1273.2,419.6 1274.5,417.4 1275.9,415.1 1277.2,412.8 1278.6,410.4 1279.9,408.1 1281.3,405.6 1282.6,403.2 1284.0,400.7 1285.3,398.2 1286.7,395.6 1288.0,393.0 1289.4,390.4 1290.7,387.7 1292.1,385.0 1293.4,382.3 1294.8,379.5 1296.1,376.7 1297.5,373.9 1298.8,371.0 1300.2,368.2 1301.5,365.2 1302.9,362.3 1304.2,359.3 1305.6,356.3 1306.9,353.3 1308.3,350.2 1309.6,347.1 1311.0,344.0 1312.3,340.9 1313.7,337.8 1315.0,334.6 1316.4,331.4 1317.7,328.2 1319.1,325.0 1320.4,321.7 1321.8,318.4 1323.1,315.2 1324.5,311.9 1325.8,308.6 1327.2,305.3 1328.5,302.0 1329.9,298.6 1331.2,295.3 1332.6,292.0 1333.9,288.6 1335.3,285.3 1336.6,281.9 1338.0,278.6 1339.3,275.3 1340.7,271.9 1342.0,268.6 1343.4,265.3 1344.7,262.0 1346.1,258.7 1347.4,255.4 1348.8,252.1 1350.1,248.8 1351.5,245.6 1352.8,242.4 1354.2,239.2 1355.5,236.0 1356.9,232.8 1358.2,229.7 1359.6,226.6 1360.9,223.5 1362.3,220.5 1363.6,217.5 1365.0,214.5 1366.3,211.6 1367.7,208.7 1369.0,205.8 1370.4,203.0 1371.7,200.2 1373.1,197.5 1374.4,194.8 1375.8,192.2 1377.1,189.6 1378.5,187.1 1379.8,184.6 1381.2,182.2 1382.5,179.8 1383.9,177.5 1385.2,175.2 1386.6,173.1 1387.9,170.9 1389.3,168.9 1390.6,166.9 1392.0,164.9 1393.3,163.1 1394.7,161.3 1396.0,159.5 1397.4,157.9 1398.7,156.3 1400.1,154.8 1401.4,153.3 1402.8,151.9 1404.1,150.7 1405.5,149.4 1406.8,148.3 1408.2,147.2 1409.5,146.3 1410.9,145.4 1412.2,144.5 1413.6,143.8 1414.9,143.1 1416.3,142.6 1417.6,142.1 1419.0,141.6 1420.3,141.3 1421.7,141.1 1423.0,140.9 1424.4,140.8 1425.7,140.8 1427.1,140.9 1428.4,141.1 1429.8,141.3 1431.1,141.6 1432.5,142.1 1433.8,142.6 1435.2,143.1 1436.5,143.8 1437.9,144.5 1439.2,145.4 1440.6,146.3 1441.9,147.2 1443.3,148.3 1444.6,149.4 1446.0,150.7 1447.3,151.9 1448.7,153.3 1450.0,154.8 1451.4,156.3 1452.7,157.9 1454.1,159.5 1455.4,161.3 1456.8,163.1 1458.1,164.9 1459.5,166.9 1460.8,168.9 1462.2,170.9 1463.5,173.1 1464.9,175.2 1466.2,177.5 1467.6,179.8 1468.9,182.2 1470.3,184.6 1471.6,187.1 1473.0,189.6 1474.3,192.2 1475.7,194.8 1477.0,197.5 1478.4,200.2 1479.7,203.0 1481.1,205.8 1482.4,208.7 1483.8,211.6 1485.1,214.5 1486.5,217.5 1487.8,220.5 1489.2,223.5 1490.5,226.6 1491.9,229.7 1493.2,232.8 1494.6,236.0 1495.9,239.2 1497.3,242.4 1498.6,245.6 1500.0,248.8 1501.3,252.1 1502.7,255.4 1504.0,258.7 1505.4,262.0 1506.7,265.3 1508.1,268.6 1509.4,271.9 1510.8,275.3 1512.1,278.6 1513.5,281.9 1514.8,285.3 1516.2,288.6 1517.5,292.0 1518.9,295.3 1520.2,298.6 1521.6,302.0 1522.9,305.3 1524.3,308.6 1525.6,311.9 1527.0,315.2 1528.3,318.4 1529.7,321.7 1531.0,325.0 1532.4,328.2 1533.7,331.4 1535.1,334.6 1536.4,337.8 1537.8,340.9 1539.1,344.0 1540.5,347.1 1541.8,350.2 1543.2,353.3 1544.5,356.3 1545.9,359.3 1547.2,362.3 1548.6,365.2 1549.9,368.2 1551.3,371.0 1552.6,373.9 1554.0,376.7 1555.3,379.5 1556.7,382.3 1558.0,385.0 1559.4,387.7 1560.7,390.4 1562.1,393.0 1563.4,395.6 1564.8,398.2 1566.1,400.7 1567.5,403.2 1568.8,405.6 1570.2,408.1 1571.5,410.4 1572.9,412.8 1574.2,415.1 1575.6,417.4 1576.9,419.6 1578.3,421.8 1579.6,424.0 1581.0,426.1 1582.3,428.2 1583.7,430.2 1585.0,432.2 1586.4,434.2 1587.7,436.1 1589.1,438.0 1590.4,439.9 1591.8,441.7 1593.1,443.5 1594.5,445.3 1595.8,447.0 1597.2,448.7 1598.5,450.3 1599.9,451.9 1601.2,453.5 1602.6,455.1 1603.9,456.6 1605.3,458.1 1606.6,459.5 1608.0,460.9 1609.3,462.3 1610.7,463.6 1612.0,464.9 1613.4,466.2 1614.8,467.5 1616.1,468.7 1617.5,469.9 1618.8,471.0 1620.2,472.2 1621.5,473.3 1622.9,474.4 1624.2,475.4 1625.6,476.4 1626.9,477.4" fill="none" stroke="#000" stroke-width="3.1" stroke-linejoin="round" stroke-linecap="butt"/>
<polyline points="1223.2,505.7 1224.6,505.7 1225.9,505.7 1227.3,505.7 1228.6,505.6 1230.0,505.6 1231.3,505.6 1232.7,505.5 1234.0,505.5 1235.4,505.4 1236.7,505.4 1238.1,505.3 1239.4,505.3 1240.8,505.2 1242.1,505.2 1243.5,505.1 1244.8,505.1 1246.2,505.0 1247.5,504.9 1248.9,504.8 1250.2,504.8 1251.6,504.7 1252.9,504.6 1254.3,504.5 1255.6,504.4 1257.0,504.3 1258.3,504.2 1259.7,504.0 1261.0,503.9 1262.4,503.8 1263.7,503.6 1265.1,503.5 1266.4,503.3 1267.8,503.2 1269.1,503.0 1270.5,502.8 1271.8,502.6 1273.2,502.4 1274.5,502.2 1275.9,502.0 1277.2,501.7 1278.6,501.5 1279.9,501.2 1281.3,500.9 1282.6,500.6 1284.0,500.3 1285.3,500.0 1286.7,499.7 1288.0,499.3 1289.4,499.0 1290.7,498.6 1292.1,498.2 1293.4,497.8 1294.8,497.3 1296.1,496.9 1297.5,496.4 1298.8,495.9 1300.2,495.4 1301.5,494.8 1302.9,494.3 1304.2,493.7 1305.6,493.1 1306.9,492.4 1308.3,491.8 1309.6,491.1 1311.0,490.4 1312.3,489.6 1313.7,488.8 1315.0,488.0 1316.4,487.2 1317.7,486.3 1319.1,485.4 1320.4,484.4 1321.8,483.5 1323.1,482.4 1324.5,481.4 1325.8,480.3 1327.2,479.2 1328.5,478.0 1329.9,476.8 1331.2,475.5 1332.6,474.2 1333.9,472.9 1335.3,471.5 1336.6,470.1 1338.0,468.6 1339.3,467.1 1340.7,465.6 1342.0,464.0 1343.4,462.3 1344.7,460.6 1346.1,458.8 1347.4,457.0 1348.8,455.2 1350.1,453.2 1351.5,451.3 1352.8,449.3 1354.2,447.2 1355.5,445.1 1356.9,442.9 1358.2,440.6 1359.6,438.3 1360.9,436.0 1362.3,433.6 1363.6,431.1 1365.0,428.6 1366.3,426.0 1367.7,423.4 1369.0,420.7 1370.4,418.0 1371.7,415.1 1373.1,412.3 1374.4,409.4 1375.8,406.4 1377.1,403.4 1378.5,400.3 1379.8,397.2 1381.2,394.0 1382.5,390.7 1383.9,387.4 1385.2,384.1 1386.6,380.7 1387.9,377.2 1389.3,373.7 1390.6,370.2 1392.0,366.6 1393.3,363.0 1394.7,359.3 1396.0,355.6 1397.4,351.8 1398.7,348.0 1400.1,344.2 1401.4,340.3 1402.8,336.4 1404.1,332.4 1405.5,328.5 1406.8,324.5 1408.2,320.5 1409.5,316.4 1410.9,312.4 1412.2,308.3 1413.6,304.2 1414.9,300.1 1416.3,295.9 1417.6,291.8 1419.0,287.7 1420.3,283.6 1421.7,279.4 1423.0,275.3 1424.4,271.2 1425.7,267.0 1427.1,262.9 1428.4,258.9 1429.8,254.8 1431.1,250.7 1432.5,246.7 1433.8,242.7 1435.2,238.8 1436.5,234.8 1437.9,231.0 1439.2,227.1 1440.6,223.3 1441.9,219.6 1443.3,215.9 1444.6,212.2 1446.0,208.6 1447.3,205.1 1448.7,201.6 1450.0,198.2 1451.4,194.9 1452.7,191.7 1454.1,188.5 1455.4,185.4 1456.8,182.4 1458.1,179.4 1459.5,176.6 1460.8,173.9 1462.2,171.2 1463.5,168.6 1464.9,166.2 1466.2,163.8 1467.6,161.6 1468.9,159.4 1470.3,157.4 1471.6,155.5 1473.0,153.6 1474.3,151.9 1475.7,150.4 1477.0,148.9 1478.4,147.5 1479.7,146.3 1481.1,145.2 1482.4,144.2 1483.8,143.3 1485.1,142.6 1486.5,142.0 1487.8,141.5 1489.2,141.1 1490.5,140.9 1491.9,140.8 1493.2,140.8 1494.6,141.0 1495.9,141.3 1497.3,141.7 1498.6,142.2 1500.0,142.9 1501.3,143.6 1502.7,144.6 1504.0,145.6 1505.4,146.8 1506.7,148.0 1508.1,149.4 1509.4,151.0 1510.8,152.6 1512.1,154.4 1513.5,156.2 1514.8,158.2 1516.2,160.3 1517.5,162.5 1518.9,164.8 1520.2,167.2 1521.6,169.7 1522.9,172.4 1524.3,175.1 1525.6,177.9 1527.0,180.8 1528.3,183.7 1529.7,186.8 1531.0,190.0 1532.4,193.2 1533.7,196.5 1535.1,199.9 1536.4,203.3 1537.8,206.8 1539.1,210.4 1540.5,214.0 1541.8,217.7 1543.2,221.5 1544.5,225.3 1545.9,229.1 1547.2,233.0 1548.6,236.9 1549.9,240.9 1551.3,244.9 1552.6,248.9 1554.0,253.0 1555.3,257.0 1556.7,261.1 1558.0,265.2 1559.4,269.4 1560.7,273.5 1562.1,277.7 1563.4,281.8 1564.8,286.0 1566.1,290.1 1567.5,294.3 1568.8,298.4 1570.2,302.5 1571.5,306.7 1572.9,310.8 1574.2,314.9 1575.6,318.9 1576.9,323.0 1578.3,327.0 1579.6,331.0 1581.0,335.0 1582.3,338.9 1583.7,342.8 1585.0,346.7 1586.4,350.5 1587.7,354.3 1589.1,358.1 1590.4,361.8 1591.8,365.4 1593.1,369.1 1594.5,372.6 1595.8,376.2 1597.2,379.6 1598.5,383.1 1599.9,386.4 1601.2,389.8 1602.6,393.0 1603.9,396.3 1605.3,399.4 1606.6,402.5 1608.0,405.6 1609.3,408.6 1610.7,411.5 1612.0,414.4 1613.4,417.3 1614.8,420.0 1616.1,422.8 1617.5,425.4 1618.8,428.0 1620.2,430.6 1621.5,433.0 1622.9,435.5 1624.2,437.8 1625.6,440.2 1626.9,442.4" fill="none" stroke="#000" stroke-width="3.1" stroke-linejoin="round" stroke-linecap="butt"/>
<line x1="1223.10" y1="104.20" x2="1223.10" y2="506.70" stroke="#000" stroke-width="1.7" />
<line x1="1222.50" y1="506.10" x2="1627.00" y2="506.10" stroke="#000" stroke-width="1.7" />
<line x1="1223.10" y1="323.45" x2="1238.50" y2="323.45" stroke="#000" stroke-width="1.6" />
<line x1="1223.10" y1="140.80" x2="1238.50" y2="140.80" stroke="#000" stroke-width="1.6" />
<line x1="1240.92" y1="506.10" x2="1240.92" y2="499.40" stroke="#000" stroke-width="1.6" />
<line x1="1255.88" y1="506.10" x2="1255.88" y2="499.40" stroke="#000" stroke-width="1.6" />
<line x1="1268.84" y1="506.10" x2="1268.84" y2="499.40" stroke="#000" stroke-width="1.6" />
<line x1="1280.27" y1="506.10" x2="1280.27" y2="499.40" stroke="#000" stroke-width="1.6" />
<line x1="1357.78" y1="506.10" x2="1357.78" y2="499.40" stroke="#000" stroke-width="1.6" />
<line x1="1397.14" y1="506.10" x2="1397.14" y2="499.40" stroke="#000" stroke-width="1.6" />
<line x1="1425.06" y1="506.10" x2="1425.06" y2="499.40" stroke="#000" stroke-width="1.6" />
<line x1="1446.72" y1="506.10" x2="1446.72" y2="499.40" stroke="#000" stroke-width="1.6" />
<line x1="1464.42" y1="506.10" x2="1464.42" y2="499.40" stroke="#000" stroke-width="1.6" />
<line x1="1479.38" y1="506.10" x2="1479.38" y2="499.40" stroke="#000" stroke-width="1.6" />
<line x1="1492.34" y1="506.10" x2="1492.34" y2="499.40" stroke="#000" stroke-width="1.6" />
<line x1="1503.77" y1="506.10" x2="1503.77" y2="499.40" stroke="#000" stroke-width="1.6" />
<line x1="1290.50" y1="506.10" x2="1290.50" y2="491.10" stroke="#000" stroke-width="1.6" />
<line x1="1514.00" y1="506.10" x2="1514.00" y2="491.10" stroke="#000" stroke-width="1.6" />
<text class="l" x="1197.3" y="155.3" font-size="40.6">1</text>
<text class="l" x="1158.7" y="337.9" font-size="40.6">0.5</text>
<text class="l" x="1194.1" y="517.7" font-size="40.6">0</text>
<text class="l" x="1243.4" y="100.4" font-size="40.6">Spatial Freq. tuning</text>
<text class="l" x="1144.7" y="504.5" font-size="40.6" transform="rotate(-90 1144.70 504.55)">Normalized response</text>
<text class="d" x="1158.9" y="107.7" font-size="70.3">f</text>
<polyline points="1222.5,823.8 1239.1,793.2 1256.6,764.1 1274.0,736.4 1291.5,714.6 1307.5,697.2 1323.5,684.1 1341.0,677.4 1357.0,678.2 1375.9,688.4 1391.9,708.2 1409.4,740.8 1425.4,788.8 1439.9,842.7 1449.2,886.3 1459.4,947.5" fill="none" stroke="#000" stroke-width="3.2" stroke-dasharray="26 14" stroke-dashoffset="-6" stroke-linejoin="round"/>
<polyline points="1222.5,823.8 1239.1,793.2 1256.6,764.1 1274.0,736.4 1291.5,714.6 1307.5,697.2 1323.5,684.1 1341.0,677.4 1357.0,678.2 1375.9,688.4 1391.9,708.2 1409.4,740.8 1425.4,787.4 1439.9,836.9 1457.4,903.2 1474.8,926.2 1492.3,928.2 1509.2,928.2" fill="none" stroke="#000" stroke-width="3.2" stroke-linejoin="round" stroke-linecap="butt"/>
<line x1="1222.50" y1="554.60" x2="1222.50" y2="959.70" stroke="#000" stroke-width="1.7" />
<line x1="1222.00" y1="959.10" x2="1627.00" y2="959.10" stroke="#000" stroke-width="1.7" />
<line x1="1222.50" y1="898.35" x2="1229.00" y2="898.35" stroke="#000" stroke-width="1.6" />
<line x1="1222.50" y1="862.82" x2="1229.00" y2="862.82" stroke="#000" stroke-width="1.6" />
<line x1="1222.50" y1="837.60" x2="1229.00" y2="837.60" stroke="#000" stroke-width="1.6" />
<line x1="1222.50" y1="818.05" x2="1229.00" y2="818.05" stroke="#000" stroke-width="1.6" />
<line x1="1222.50" y1="802.07" x2="1229.00" y2="802.07" stroke="#000" stroke-width="1.6" />
<line x1="1222.50" y1="788.56" x2="1229.00" y2="788.56" stroke="#000" stroke-width="1.6" />
<line x1="1222.50" y1="776.86" x2="1229.00" y2="776.86" stroke="#000" stroke-width="1.6" />
<line x1="1222.50" y1="766.53" x2="1229.00" y2="766.53" stroke="#000" stroke-width="1.6" />
<line x1="1222.50" y1="696.55" x2="1229.00" y2="696.55" stroke="#000" stroke-width="1.6" />
<line x1="1222.50" y1="661.02" x2="1229.00" y2="661.02" stroke="#000" stroke-width="1.6" />
<line x1="1222.50" y1="635.80" x2="1229.00" y2="635.80" stroke="#000" stroke-width="1.6" />
<line x1="1222.50" y1="616.25" x2="1229.00" y2="616.25" stroke="#000" stroke-width="1.6" />
<line x1="1222.50" y1="600.27" x2="1229.00" y2="600.27" stroke="#000" stroke-width="1.6" />
<line x1="1222.50" y1="586.76" x2="1229.00" y2="586.76" stroke="#000" stroke-width="1.6" />
<line x1="1222.50" y1="575.06" x2="1229.00" y2="575.06" stroke="#000" stroke-width="1.6" />
<line x1="1222.50" y1="564.73" x2="1229.00" y2="564.73" stroke="#000" stroke-width="1.6" />
<line x1="1222.50" y1="757.30" x2="1234.00" y2="757.30" stroke="#000" stroke-width="1.6" />
<line x1="1222.50" y1="555.50" x2="1234.00" y2="555.50" stroke="#000" stroke-width="1.6" />
<line x1="1240.92" y1="959.10" x2="1240.92" y2="952.10" stroke="#000" stroke-width="1.6" />
<line x1="1255.88" y1="959.10" x2="1255.88" y2="952.10" stroke="#000" stroke-width="1.6" />
<line x1="1268.84" y1="959.10" x2="1268.84" y2="952.10" stroke="#000" stroke-width="1.6" />
<line x1="1280.27" y1="959.10" x2="1280.27" y2="952.10" stroke="#000" stroke-width="1.6" />
<line x1="1357.78" y1="959.10" x2="1357.78" y2="952.10" stroke="#000" stroke-width="1.6" />
<line x1="1397.14" y1="959.10" x2="1397.14" y2="952.10" stroke="#000" stroke-width="1.6" />
<line x1="1425.06" y1="959.10" x2="1425.06" y2="952.10" stroke="#000" stroke-width="1.6" />
<line x1="1446.72" y1="959.10" x2="1446.72" y2="952.10" stroke="#000" stroke-width="1.6" />
<line x1="1464.42" y1="959.10" x2="1464.42" y2="952.10" stroke="#000" stroke-width="1.6" />
<line x1="1479.38" y1="959.10" x2="1479.38" y2="952.10" stroke="#000" stroke-width="1.6" />
<line x1="1492.34" y1="959.10" x2="1492.34" y2="952.10" stroke="#000" stroke-width="1.6" />
<line x1="1503.77" y1="959.10" x2="1503.77" y2="952.10" stroke="#000" stroke-width="1.6" />
<line x1="1290.50" y1="959.10" x2="1290.50" y2="943.10" stroke="#000" stroke-width="1.6" />
<line x1="1514.00" y1="959.10" x2="1514.00" y2="943.10" stroke="#000" stroke-width="1.6" />
<text class="l" x="1166.0" y="771.8" font-size="40.6">10</text>
<text class="l" x="1191.9" y="957.8" font-size="40.6">1</text>
<text class="l" x="1256.0" y="579.9" font-size="28.9">Cmin=0.04</text>
<text class="l" x="1256.2" y="608.4" font-size="28.9">a=3</text>
<text class="l" x="1257.0" y="637.5" font-size="28.9">f0=0.6</text>
<line x1="1472.80" y1="617.10" x2="1518.50" y2="617.10" stroke="#000" stroke-width="3.4" />
<line x1="1472.80" y1="690.50" x2="1511.40" y2="690.50" stroke="#000" stroke-width="3.4" stroke-dasharray="15.2 8.6"/>
<text class="l" x="1541.7" y="621.5" font-size="36.4">c</text>
<text class="l" x="1560.0" y="637.5" font-size="29.3">1/2</text>
<text class="l" x="1536.8" y="695.7" font-size="36.4">c</text>
<text class="l" x="1556.7" y="680.3" font-size="28.6">50</text>
<text class="l" x="1556.8" y="708.8" font-size="29.4">min</text>
<text class="d" x="1156.9" y="575.6" font-size="74.5">g</text>
<text class="l" x="1141.3" y="891.8" font-size="41.0" transform="rotate(-90 1141.30 891.78)">1/c</text>
<text class="l" x="1125.8" y="839.8" font-size="28.6" transform="rotate(-90 1125.80 839.84)">50</text>
<text class="l" x="1154.4" y="841.0" font-size="29.4" transform="rotate(-90 1154.40 841.01)">min</text>
<text class="l" x="1141.6" y="774.1" font-size="41.0" transform="rotate(-90 1141.60 774.14)">or</text>
<text class="l" x="1136.7" y="712.2" font-size="41.0" transform="rotate(-90 1136.70 712.18)">1/c</text>
<text class="l" x="1152.5" y="666.7" font-size="29.3" transform="rotate(-90 1152.50 666.70)">1/2</text>
<polyline points="1222.5,1150.8 1239.1,1139.7 1256.6,1129.5 1274.0,1120.8 1291.5,1113.5 1309.0,1107.1 1326.4,1103.3 1341.0,1100.4 1358.4,1098.4 1374.4,1098.4 1390.4,1098.4 1409.4,1101.9 1425.4,1103.9 1441.4,1110.0 1457.4,1116.4 1474.8,1126.6 1492.3,1138.2 1509.8,1151.3 1525.8,1164.4 1541.8,1179.0 1559.2,1197.9 1576.7,1221.2 1594.2,1250.3 1610.2,1288.1 1626.2,1327.4" fill="none" stroke="#000" stroke-width="6.0" stroke-linejoin="miter"/>
<polyline points="1222.5,1181.9 1239.1,1170.3 1256.6,1158.6 1274.0,1151.3 1291.5,1143.2 1309.0,1136.2 1325.0,1132.4 1341.0,1130.1 1358.4,1130.1 1374.4,1130.1 1390.4,1131.8 1407.9,1135.9 1425.4,1140.6 1441.4,1148.4 1457.4,1156.6 1474.8,1168.8 1492.3,1183.4 1509.8,1202.3 1525.8,1222.6 1541.8,1256.1 1559.2,1314.3 1575.8,1381.3" fill="none" stroke="#000" stroke-width="6.0" stroke-linejoin="miter"/>
<line x1="1222.50" y1="1014.00" x2="1222.50" y2="1418.20" stroke="#000" stroke-width="1.7" />
<line x1="1222.00" y1="1417.60" x2="1627.00" y2="1417.60" stroke="#000" stroke-width="1.7" />
<line x1="1222.50" y1="1372.57" x2="1231.20" y2="1372.57" stroke="#000" stroke-width="1.6" />
<line x1="1222.50" y1="1346.22" x2="1231.20" y2="1346.22" stroke="#000" stroke-width="1.6" />
<line x1="1222.50" y1="1327.53" x2="1231.20" y2="1327.53" stroke="#000" stroke-width="1.6" />
<line x1="1222.50" y1="1313.03" x2="1231.20" y2="1313.03" stroke="#000" stroke-width="1.6" />
<line x1="1222.50" y1="1301.19" x2="1231.20" y2="1301.19" stroke="#000" stroke-width="1.6" />
<line x1="1222.50" y1="1291.17" x2="1231.20" y2="1291.17" stroke="#000" stroke-width="1.6" />
<line x1="1222.50" y1="1282.50" x2="1231.20" y2="1282.50" stroke="#000" stroke-width="1.6" />
<line x1="1222.50" y1="1274.85" x2="1231.20" y2="1274.85" stroke="#000" stroke-width="1.6" />
<line x1="1222.50" y1="1222.97" x2="1231.20" y2="1222.97" stroke="#000" stroke-width="1.6" />
<line x1="1222.50" y1="1196.62" x2="1231.20" y2="1196.62" stroke="#000" stroke-width="1.6" />
<line x1="1222.50" y1="1177.93" x2="1231.20" y2="1177.93" stroke="#000" stroke-width="1.6" />
<line x1="1222.50" y1="1163.43" x2="1231.20" y2="1163.43" stroke="#000" stroke-width="1.6" />
<line x1="1222.50" y1="1151.59" x2="1231.20" y2="1151.59" stroke="#000" stroke-width="1.6" />
<line x1="1222.50" y1="1141.57" x2="1231.20" y2="1141.57" stroke="#000" stroke-width="1.6" />
<line x1="1222.50" y1="1132.90" x2="1231.20" y2="1132.90" stroke="#000" stroke-width="1.6" />
<line x1="1222.50" y1="1125.25" x2="1231.20" y2="1125.25" stroke="#000" stroke-width="1.6" />
<line x1="1222.50" y1="1073.37" x2="1231.20" y2="1073.37" stroke="#000" stroke-width="1.6" />
<line x1="1222.50" y1="1047.02" x2="1231.20" y2="1047.02" stroke="#000" stroke-width="1.6" />
<line x1="1222.50" y1="1028.33" x2="1231.20" y2="1028.33" stroke="#000" stroke-width="1.6" />
<line x1="1222.50" y1="1268.00" x2="1239.00" y2="1268.00" stroke="#000" stroke-width="1.6" />
<line x1="1222.50" y1="1118.40" x2="1239.00" y2="1118.40" stroke="#000" stroke-width="1.6" />
<line x1="1240.92" y1="1417.60" x2="1240.92" y2="1409.70" stroke="#000" stroke-width="1.6" />
<line x1="1255.88" y1="1417.60" x2="1255.88" y2="1409.70" stroke="#000" stroke-width="1.6" />
<line x1="1268.84" y1="1417.60" x2="1268.84" y2="1409.70" stroke="#000" stroke-width="1.6" />
<line x1="1280.27" y1="1417.60" x2="1280.27" y2="1409.70" stroke="#000" stroke-width="1.6" />
<line x1="1357.78" y1="1417.60" x2="1357.78" y2="1409.70" stroke="#000" stroke-width="1.6" />
<line x1="1397.14" y1="1417.60" x2="1397.14" y2="1409.70" stroke="#000" stroke-width="1.6" />
<line x1="1425.06" y1="1417.60" x2="1425.06" y2="1409.70" stroke="#000" stroke-width="1.6" />
<line x1="1446.72" y1="1417.60" x2="1446.72" y2="1409.70" stroke="#000" stroke-width="1.6" />
<line x1="1464.42" y1="1417.60" x2="1464.42" y2="1409.70" stroke="#000" stroke-width="1.6" />
<line x1="1479.38" y1="1417.60" x2="1479.38" y2="1409.70" stroke="#000" stroke-width="1.6" />
<line x1="1492.34" y1="1417.60" x2="1492.34" y2="1409.70" stroke="#000" stroke-width="1.6" />
<line x1="1503.77" y1="1417.60" x2="1503.77" y2="1409.70" stroke="#000" stroke-width="1.6" />
<line x1="1290.50" y1="1417.60" x2="1290.50" y2="1401.60" stroke="#000" stroke-width="1.6" />
<line x1="1514.00" y1="1417.60" x2="1514.00" y2="1401.60" stroke="#000" stroke-width="1.6" />
<text class="l" x="1144.8" y="1132.4" font-size="40.6">100</text>
<text class="l" x="1167.4" y="1282.0" font-size="40.6">10</text>
<text class="l" x="1193.8" y="1432.5" font-size="40.6">1</text>
<text class="l" x="1270.1" y="1455.5" font-size="40.6">1</text>
<text class="l" x="1496.7" y="1455.5" font-size="40.6">10</text>
<text class="l" x="1229.6" y="1491.8" font-size="40.6">Spatial Frequency (c/d)</text>
<text class="l" x="1133.6" y="1424.3" font-size="40.6" transform="rotate(-90 1133.60 1424.33)">Sensitivity (1/contrast)</text>
<text class="d" x="1158.0" y="1044.0" font-size="73.7">h</text>
<text class="l" x="1486.2" y="1045.1" font-size="29.0">Iinh=0.07</text>
<text class="l" x="1486.5" y="1074.2" font-size="29.0">Cmin=0.04</text>
<text class="l" x="1486.7" y="1102.4" font-size="29.0">a=3, f0=0.6</text>
<text class="l" x="1267.6" y="1257.6" font-size="29.0">Iinh=0.21</text>
<text class="l" x="1268.2" y="1286.7" font-size="29.0">Cmin=0.04</text>
<text class="l" x="1268.5" y="1315.2" font-size="29.0">a=6, f0=0.3</text>
<line x1="1480.66" y1="1068.39" x2="1453.60" y2="1084.31" stroke="#000" stroke-width="2.3" />
<path d="M1431.2,1097.5 L1450.3,1074.7 L1460.4,1091.9 Z" fill="#000"/>
<line x1="1322.05" y1="1224.10" x2="1343.64" y2="1164.56" stroke="#000" stroke-width="2.3" />
<path d="M1353.2,1138.2 L1352.8,1170.0 L1333.1,1162.9 Z" fill="#000"/>
<text class="l" x="119.9" y="35.4" font-size="40.6">Orientation prediction</text>
<text class="l" x="768.0" y="34.2" font-size="40.6">Contrast sensitivity function prediction</text></svg></body></html>
